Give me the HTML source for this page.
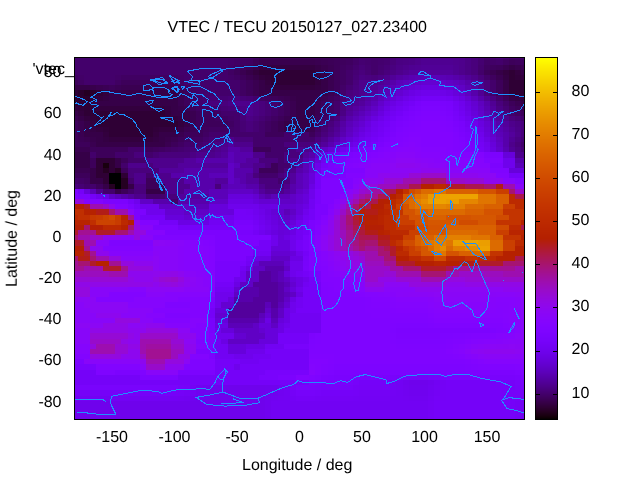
<!DOCTYPE html>
<html><head><meta charset="utf-8"><style>
html,body{margin:0;padding:0;background:#fff;width:640px;height:480px;overflow:hidden}
svg{position:absolute;left:0;top:0}
text{font-family:"Liberation Sans", sans-serif;font-size:16px;text-rendering:geometricPrecision;fill:#000}
.t{filter:grayscale(1)}
</style></head><body>
<svg width="640" height="480" viewBox="0 0 640 480">
<g class="t"><text x="167.5" y="32">VTEC / TECU 20150127_027.23400</text>
<text x="32.5" y="73.7">'vtec_</text>
<text x="112.00" y="442" text-anchor="middle">-150</text><text x="174.50" y="442" text-anchor="middle">-100</text><text x="237.00" y="442" text-anchor="middle">-50</text><text x="299.50" y="442" text-anchor="middle">0</text><text x="362.00" y="442" text-anchor="middle">50</text><text x="424.50" y="442" text-anchor="middle">100</text><text x="487.00" y="442" text-anchor="middle">150</text><text x="61.5" y="76.81" text-anchor="end">80</text><text x="61.5" y="118.19" text-anchor="end">60</text><text x="61.5" y="159.56" text-anchor="end">40</text><text x="61.5" y="200.93" text-anchor="end">20</text><text x="61.5" y="242.30" text-anchor="end">0</text><text x="61.5" y="282.67" text-anchor="end">-20</text><text x="61.5" y="324.04" text-anchor="end">-40</text><text x="61.5" y="365.41" text-anchor="end">-60</text><text x="61.5" y="406.79" text-anchor="end">-80</text><text x="571.5" y="397.53">10</text><text x="571.5" y="354.44">20</text><text x="571.5" y="311.35">30</text><text x="571.5" y="268.26">40</text><text x="571.5" y="225.17">50</text><text x="571.5" y="182.08">60</text><text x="571.5" y="138.99">70</text><text x="571.5" y="95.90">80</text>
<text x="242" y="469.7">Longitude / deg</text>
<text transform="translate(16.7,287) rotate(-90)" x="0" y="0">Latitude / deg</text></g>
<g shape-rendering="crispEdges"><rect x="75" y="58" width="178" height="1" fill="#43006b"/><rect x="253" y="58" width="6" height="1" fill="#400062"/><rect x="259" y="58" width="94" height="1" fill="#3d005a"/><rect x="353" y="58" width="6" height="1" fill="#400062"/><rect x="359" y="58" width="31" height="1" fill="#43006b"/><rect x="390" y="58" width="6" height="1" fill="#460074"/><rect x="396" y="58" width="19" height="1" fill="#49007c"/><rect x="415" y="58" width="6" height="1" fill="#4b0084"/><rect x="421" y="58" width="44" height="1" fill="#4e008c"/><rect x="465" y="58" width="6" height="1" fill="#4b0084"/><rect x="471" y="58" width="7" height="1" fill="#49007c"/><rect x="478" y="58" width="6" height="1" fill="#460074"/><rect x="484" y="58" width="6" height="1" fill="#43006b"/><rect x="490" y="58" width="6" height="1" fill="#460074"/><rect x="496" y="58" width="7" height="1" fill="#49007c"/><rect x="503" y="58" width="6" height="1" fill="#460074"/><rect x="509" y="58" width="15" height="1" fill="#43006b"/><rect x="75" y="59" width="153" height="6" fill="#43006b"/><rect x="228" y="59" width="6" height="6" fill="#420068"/><rect x="234" y="59" width="6" height="6" fill="#410065"/><rect x="240" y="59" width="6" height="6" fill="#400062"/><rect x="246" y="59" width="7" height="6" fill="#3f0060"/><rect x="253" y="59" width="6" height="6" fill="#3c0057"/><rect x="259" y="59" width="56" height="6" fill="#39004e"/><rect x="315" y="59" width="6" height="6" fill="#3a0051"/><rect x="321" y="59" width="7" height="6" fill="#3b0054"/><rect x="328" y="59" width="6" height="6" fill="#3c0057"/><rect x="334" y="59" width="6" height="6" fill="#3d005a"/><rect x="340" y="59" width="6" height="6" fill="#3e005d"/><rect x="346" y="59" width="7" height="6" fill="#3f0060"/><rect x="353" y="59" width="6" height="6" fill="#420068"/><rect x="359" y="59" width="6" height="6" fill="#450071"/><rect x="365" y="59" width="6" height="6" fill="#44006e"/><rect x="371" y="59" width="7" height="6" fill="#43006b"/><rect x="378" y="59" width="6" height="6" fill="#44006e"/><rect x="384" y="59" width="6" height="6" fill="#450071"/><rect x="390" y="59" width="6" height="6" fill="#480079"/><rect x="396" y="59" width="7" height="6" fill="#4a0082"/><rect x="403" y="59" width="6" height="6" fill="#4b0084"/><rect x="409" y="59" width="6" height="6" fill="#4c0087"/><rect x="415" y="59" width="6" height="6" fill="#4e008c"/><rect x="421" y="59" width="32" height="6" fill="#4f0092"/><rect x="453" y="59" width="6" height="6" fill="#4f008f"/><rect x="459" y="59" width="6" height="6" fill="#4e008c"/><rect x="465" y="59" width="6" height="6" fill="#4b0084"/><rect x="471" y="59" width="7" height="6" fill="#49007c"/><rect x="478" y="59" width="6" height="6" fill="#450071"/><rect x="484" y="59" width="6" height="6" fill="#410065"/><rect x="490" y="59" width="6" height="6" fill="#420068"/><rect x="496" y="59" width="7" height="6" fill="#43006b"/><rect x="503" y="59" width="6" height="6" fill="#400062"/><rect x="509" y="59" width="6" height="6" fill="#3d005a"/><rect x="515" y="59" width="6" height="6" fill="#3e005d"/><rect x="521" y="59" width="3" height="6" fill="#3f0060"/><rect x="75" y="65" width="153" height="5" fill="#43006b"/><rect x="228" y="65" width="6" height="5" fill="#410065"/><rect x="234" y="65" width="6" height="5" fill="#3f0060"/><rect x="240" y="65" width="6" height="5" fill="#3d005a"/><rect x="246" y="65" width="7" height="5" fill="#3b0054"/><rect x="253" y="65" width="6" height="5" fill="#37004b"/><rect x="259" y="65" width="56" height="5" fill="#340041"/><rect x="315" y="65" width="6" height="5" fill="#360048"/><rect x="321" y="65" width="7" height="5" fill="#39004e"/><rect x="328" y="65" width="6" height="5" fill="#3b0054"/><rect x="334" y="65" width="6" height="5" fill="#3d005a"/><rect x="340" y="65" width="6" height="5" fill="#3f0060"/><rect x="346" y="65" width="7" height="5" fill="#410065"/><rect x="353" y="65" width="6" height="5" fill="#44006e"/><rect x="359" y="65" width="6" height="5" fill="#470077"/><rect x="365" y="65" width="6" height="5" fill="#450071"/><rect x="371" y="65" width="7" height="5" fill="#43006b"/><rect x="378" y="65" width="6" height="5" fill="#450071"/><rect x="384" y="65" width="6" height="5" fill="#470077"/><rect x="390" y="65" width="6" height="5" fill="#49007f"/><rect x="396" y="65" width="7" height="5" fill="#4c0087"/><rect x="403" y="65" width="6" height="5" fill="#4e008c"/><rect x="409" y="65" width="6" height="5" fill="#4f0092"/><rect x="415" y="65" width="6" height="5" fill="#500094"/><rect x="421" y="65" width="32" height="5" fill="#510097"/><rect x="453" y="65" width="6" height="5" fill="#4f0092"/><rect x="459" y="65" width="6" height="5" fill="#4e008c"/><rect x="465" y="65" width="6" height="5" fill="#4b0084"/><rect x="471" y="65" width="7" height="5" fill="#49007c"/><rect x="478" y="65" width="6" height="5" fill="#44006e"/><rect x="484" y="65" width="6" height="5" fill="#3f0060"/><rect x="490" y="65" width="6" height="5" fill="#3e005d"/><rect x="496" y="65" width="7" height="5" fill="#3d005a"/><rect x="503" y="65" width="6" height="5" fill="#3a0051"/><rect x="509" y="65" width="6" height="5" fill="#360048"/><rect x="515" y="65" width="6" height="5" fill="#39004e"/><rect x="521" y="65" width="3" height="5" fill="#3b0054"/><rect x="75" y="70" width="153" height="5" fill="#43006b"/><rect x="228" y="70" width="6" height="5" fill="#400062"/><rect x="234" y="70" width="6" height="5" fill="#3d005a"/><rect x="240" y="70" width="6" height="5" fill="#3a0051"/><rect x="246" y="70" width="7" height="5" fill="#360048"/><rect x="253" y="70" width="6" height="5" fill="#33003e"/><rect x="259" y="70" width="56" height="5" fill="#2f0035"/><rect x="315" y="70" width="6" height="5" fill="#33003e"/><rect x="321" y="70" width="7" height="5" fill="#360048"/><rect x="328" y="70" width="6" height="5" fill="#3a0051"/><rect x="334" y="70" width="6" height="5" fill="#3d005a"/><rect x="340" y="70" width="6" height="5" fill="#400062"/><rect x="346" y="70" width="7" height="5" fill="#43006b"/><rect x="353" y="70" width="6" height="5" fill="#460074"/><rect x="359" y="70" width="6" height="5" fill="#49007c"/><rect x="365" y="70" width="6" height="5" fill="#460074"/><rect x="371" y="70" width="7" height="5" fill="#43006b"/><rect x="378" y="70" width="6" height="5" fill="#460074"/><rect x="384" y="70" width="6" height="5" fill="#49007c"/><rect x="390" y="70" width="6" height="5" fill="#4b0084"/><rect x="396" y="70" width="7" height="5" fill="#4e008c"/><rect x="403" y="70" width="6" height="5" fill="#500094"/><rect x="409" y="70" width="44" height="5" fill="#53009c"/><rect x="453" y="70" width="6" height="5" fill="#500094"/><rect x="459" y="70" width="6" height="5" fill="#4e008c"/><rect x="465" y="70" width="6" height="5" fill="#4b0084"/><rect x="471" y="70" width="7" height="5" fill="#49007c"/><rect x="478" y="70" width="6" height="5" fill="#43006b"/><rect x="484" y="70" width="6" height="5" fill="#3d005a"/><rect x="490" y="70" width="6" height="5" fill="#3a0051"/><rect x="496" y="70" width="7" height="5" fill="#360048"/><rect x="503" y="70" width="6" height="5" fill="#33003e"/><rect x="509" y="70" width="6" height="5" fill="#2f0035"/><rect x="515" y="70" width="6" height="5" fill="#33003e"/><rect x="521" y="70" width="3" height="5" fill="#360048"/><rect x="75" y="75" width="3" height="5" fill="#400062"/><rect x="78" y="75" width="6" height="5" fill="#420067"/><rect x="84" y="75" width="31" height="5" fill="#43006b"/><rect x="115" y="75" width="6" height="5" fill="#420067"/><rect x="121" y="75" width="57" height="5" fill="#400062"/><rect x="178" y="75" width="6" height="5" fill="#420067"/><rect x="184" y="75" width="44" height="5" fill="#43006b"/><rect x="228" y="75" width="6" height="5" fill="#420067"/><rect x="234" y="75" width="6" height="5" fill="#400062"/><rect x="240" y="75" width="6" height="5" fill="#3d005a"/><rect x="246" y="75" width="7" height="5" fill="#3a0051"/><rect x="253" y="75" width="6" height="5" fill="#360048"/><rect x="259" y="75" width="6" height="5" fill="#33003e"/><rect x="265" y="75" width="6" height="5" fill="#31003a"/><rect x="271" y="75" width="44" height="5" fill="#2f0035"/><rect x="315" y="75" width="6" height="5" fill="#33003e"/><rect x="321" y="75" width="7" height="5" fill="#360048"/><rect x="328" y="75" width="6" height="5" fill="#3a0051"/><rect x="334" y="75" width="6" height="5" fill="#3d005a"/><rect x="340" y="75" width="6" height="5" fill="#400062"/><rect x="346" y="75" width="7" height="5" fill="#43006b"/><rect x="353" y="75" width="6" height="5" fill="#470078"/><rect x="359" y="75" width="6" height="5" fill="#4b0084"/><rect x="365" y="75" width="6" height="5" fill="#4a0080"/><rect x="371" y="75" width="7" height="5" fill="#49007c"/><rect x="378" y="75" width="6" height="5" fill="#4b0084"/><rect x="384" y="75" width="6" height="5" fill="#4e008c"/><rect x="390" y="75" width="6" height="5" fill="#510098"/><rect x="396" y="75" width="7" height="5" fill="#5500a3"/><rect x="403" y="75" width="6" height="5" fill="#5700ab"/><rect x="409" y="75" width="6" height="5" fill="#5900b2"/><rect x="415" y="75" width="6" height="5" fill="#5a01b5"/><rect x="421" y="75" width="19" height="5" fill="#5b01b8"/><rect x="440" y="75" width="6" height="5" fill="#5a01b5"/><rect x="446" y="75" width="7" height="5" fill="#5900b2"/><rect x="453" y="75" width="6" height="5" fill="#5700ab"/><rect x="459" y="75" width="6" height="5" fill="#5500a3"/><rect x="465" y="75" width="6" height="5" fill="#510098"/><rect x="471" y="75" width="7" height="5" fill="#4e008c"/><rect x="478" y="75" width="6" height="5" fill="#49007c"/><rect x="484" y="75" width="6" height="5" fill="#43006b"/><rect x="490" y="75" width="6" height="5" fill="#3f005e"/><rect x="496" y="75" width="7" height="5" fill="#3a0051"/><rect x="503" y="75" width="6" height="5" fill="#340043"/><rect x="509" y="75" width="6" height="5" fill="#2f0035"/><rect x="515" y="75" width="6" height="5" fill="#31003a"/><rect x="521" y="75" width="3" height="5" fill="#33003e"/><rect x="75" y="80" width="3" height="5" fill="#3d005a"/><rect x="78" y="80" width="6" height="5" fill="#400062"/><rect x="84" y="80" width="31" height="5" fill="#43006b"/><rect x="115" y="80" width="6" height="5" fill="#400062"/><rect x="121" y="80" width="57" height="5" fill="#3d005a"/><rect x="178" y="80" width="6" height="5" fill="#400062"/><rect x="184" y="80" width="56" height="5" fill="#43006b"/><rect x="240" y="80" width="6" height="5" fill="#400062"/><rect x="246" y="80" width="7" height="5" fill="#3d005a"/><rect x="253" y="80" width="6" height="5" fill="#3a0051"/><rect x="259" y="80" width="6" height="5" fill="#360048"/><rect x="265" y="80" width="6" height="5" fill="#33003e"/><rect x="271" y="80" width="44" height="5" fill="#2f0035"/><rect x="315" y="80" width="6" height="5" fill="#33003e"/><rect x="321" y="80" width="7" height="5" fill="#360048"/><rect x="328" y="80" width="6" height="5" fill="#3a0051"/><rect x="334" y="80" width="6" height="5" fill="#3d005a"/><rect x="340" y="80" width="6" height="5" fill="#400062"/><rect x="346" y="80" width="7" height="5" fill="#43006b"/><rect x="353" y="80" width="6" height="5" fill="#49007c"/><rect x="359" y="80" width="19" height="5" fill="#4e008c"/><rect x="378" y="80" width="6" height="5" fill="#500094"/><rect x="384" y="80" width="6" height="5" fill="#53009c"/><rect x="390" y="80" width="6" height="5" fill="#5700ab"/><rect x="396" y="80" width="7" height="5" fill="#5b01b8"/><rect x="403" y="80" width="6" height="5" fill="#5e01bf"/><rect x="409" y="80" width="6" height="5" fill="#6001c5"/><rect x="415" y="80" width="6" height="5" fill="#6201cb"/><rect x="421" y="80" width="19" height="5" fill="#6401d1"/><rect x="440" y="80" width="6" height="5" fill="#6201cb"/><rect x="446" y="80" width="7" height="5" fill="#6001c5"/><rect x="453" y="80" width="6" height="5" fill="#5e01bf"/><rect x="459" y="80" width="6" height="5" fill="#5b01b8"/><rect x="465" y="80" width="6" height="5" fill="#5700ab"/><rect x="471" y="80" width="7" height="5" fill="#53009c"/><rect x="478" y="80" width="6" height="5" fill="#4e008c"/><rect x="484" y="80" width="6" height="5" fill="#49007c"/><rect x="490" y="80" width="6" height="5" fill="#43006b"/><rect x="496" y="80" width="7" height="5" fill="#3d005a"/><rect x="503" y="80" width="6" height="5" fill="#360048"/><rect x="509" y="80" width="15" height="5" fill="#2f0035"/><rect x="75" y="85" width="15" height="5" fill="#360048"/><rect x="90" y="85" width="6" height="5" fill="#38004c"/><rect x="96" y="85" width="7" height="5" fill="#3a0051"/><rect x="103" y="85" width="6" height="5" fill="#3b0055"/><rect x="109" y="85" width="6" height="5" fill="#3d005a"/><rect x="115" y="85" width="6" height="5" fill="#3b0055"/><rect x="121" y="85" width="57" height="5" fill="#3a0051"/><rect x="178" y="85" width="6" height="5" fill="#3d005a"/><rect x="184" y="85" width="6" height="5" fill="#400062"/><rect x="190" y="85" width="6" height="5" fill="#420067"/><rect x="196" y="85" width="44" height="5" fill="#43006b"/><rect x="240" y="85" width="6" height="5" fill="#400062"/><rect x="246" y="85" width="7" height="5" fill="#3d005a"/><rect x="253" y="85" width="6" height="5" fill="#3a0051"/><rect x="259" y="85" width="6" height="5" fill="#360048"/><rect x="265" y="85" width="6" height="5" fill="#340043"/><rect x="271" y="85" width="44" height="5" fill="#33003e"/><rect x="315" y="85" width="6" height="5" fill="#340043"/><rect x="321" y="85" width="7" height="5" fill="#360048"/><rect x="328" y="85" width="6" height="5" fill="#3a0051"/><rect x="334" y="85" width="6" height="5" fill="#3d005a"/><rect x="340" y="85" width="6" height="5" fill="#420067"/><rect x="346" y="85" width="7" height="5" fill="#460074"/><rect x="353" y="85" width="6" height="5" fill="#4a0080"/><rect x="359" y="85" width="6" height="5" fill="#4e008c"/><rect x="365" y="85" width="6" height="5" fill="#4f0090"/><rect x="371" y="85" width="7" height="5" fill="#500094"/><rect x="378" y="85" width="6" height="5" fill="#5400a0"/><rect x="384" y="85" width="6" height="5" fill="#5700ab"/><rect x="390" y="85" width="6" height="5" fill="#5b01b8"/><rect x="396" y="85" width="7" height="5" fill="#6001c5"/><rect x="403" y="85" width="6" height="5" fill="#6301ce"/><rect x="409" y="85" width="6" height="5" fill="#6501d6"/><rect x="415" y="85" width="6" height="5" fill="#6701db"/><rect x="421" y="85" width="19" height="5" fill="#6901e0"/><rect x="440" y="85" width="6" height="5" fill="#6701db"/><rect x="446" y="85" width="7" height="5" fill="#6501d6"/><rect x="453" y="85" width="6" height="5" fill="#6301ce"/><rect x="459" y="85" width="6" height="5" fill="#6001c5"/><rect x="465" y="85" width="6" height="5" fill="#5a01b5"/><rect x="471" y="85" width="7" height="5" fill="#5500a3"/><rect x="478" y="85" width="6" height="5" fill="#4f0090"/><rect x="484" y="85" width="6" height="5" fill="#49007c"/><rect x="490" y="85" width="6" height="5" fill="#43006b"/><rect x="496" y="85" width="7" height="5" fill="#3d005a"/><rect x="503" y="85" width="6" height="5" fill="#360048"/><rect x="509" y="85" width="15" height="5" fill="#2f0035"/><rect x="75" y="90" width="3" height="6" fill="#2f0035"/><rect x="78" y="90" width="6" height="6" fill="#2a002c"/><rect x="84" y="90" width="6" height="6" fill="#250022"/><rect x="90" y="90" width="6" height="6" fill="#2a002c"/><rect x="96" y="90" width="7" height="6" fill="#2f0035"/><rect x="103" y="90" width="6" height="6" fill="#33003e"/><rect x="109" y="90" width="69" height="6" fill="#360048"/><rect x="178" y="90" width="6" height="6" fill="#3a0051"/><rect x="184" y="90" width="6" height="6" fill="#3d005a"/><rect x="190" y="90" width="6" height="6" fill="#400062"/><rect x="196" y="90" width="44" height="6" fill="#43006b"/><rect x="240" y="90" width="6" height="6" fill="#400062"/><rect x="246" y="90" width="7" height="6" fill="#3d005a"/><rect x="253" y="90" width="6" height="6" fill="#3a0051"/><rect x="259" y="90" width="69" height="6" fill="#360048"/><rect x="328" y="90" width="6" height="6" fill="#3a0051"/><rect x="334" y="90" width="6" height="6" fill="#3d005a"/><rect x="340" y="90" width="6" height="6" fill="#43006b"/><rect x="346" y="90" width="7" height="6" fill="#49007c"/><rect x="353" y="90" width="6" height="6" fill="#4b0084"/><rect x="359" y="90" width="6" height="6" fill="#4e008c"/><rect x="365" y="90" width="6" height="6" fill="#500094"/><rect x="371" y="90" width="7" height="6" fill="#53009c"/><rect x="378" y="90" width="6" height="6" fill="#5700ab"/><rect x="384" y="90" width="6" height="6" fill="#5b01b8"/><rect x="390" y="90" width="6" height="6" fill="#6001c5"/><rect x="396" y="90" width="7" height="6" fill="#6401d1"/><rect x="403" y="90" width="6" height="6" fill="#6701db"/><rect x="409" y="90" width="6" height="6" fill="#6b01e4"/><rect x="415" y="90" width="6" height="6" fill="#6d02e8"/><rect x="421" y="90" width="19" height="6" fill="#6f02ec"/><rect x="440" y="90" width="6" height="6" fill="#6d02e8"/><rect x="446" y="90" width="7" height="6" fill="#6b01e4"/><rect x="453" y="90" width="6" height="6" fill="#6701db"/><rect x="459" y="90" width="6" height="6" fill="#6401d1"/><rect x="465" y="90" width="6" height="6" fill="#5e01bf"/><rect x="471" y="90" width="7" height="6" fill="#5700ab"/><rect x="478" y="90" width="6" height="6" fill="#500094"/><rect x="484" y="90" width="6" height="6" fill="#49007c"/><rect x="490" y="90" width="6" height="6" fill="#43006b"/><rect x="496" y="90" width="7" height="6" fill="#3d005a"/><rect x="503" y="90" width="6" height="6" fill="#360048"/><rect x="509" y="90" width="15" height="6" fill="#2f0035"/><rect x="75" y="96" width="3" height="5" fill="#2f0035"/><rect x="78" y="96" width="6" height="5" fill="#2c0030"/><rect x="84" y="96" width="6" height="5" fill="#2a002c"/><rect x="90" y="96" width="6" height="5" fill="#2f0035"/><rect x="96" y="96" width="7" height="5" fill="#33003e"/><rect x="103" y="96" width="6" height="5" fill="#340043"/><rect x="109" y="96" width="69" height="5" fill="#360048"/><rect x="178" y="96" width="6" height="5" fill="#3a0051"/><rect x="184" y="96" width="6" height="5" fill="#3d005a"/><rect x="190" y="96" width="6" height="5" fill="#400062"/><rect x="196" y="96" width="7" height="5" fill="#43006b"/><rect x="203" y="96" width="6" height="5" fill="#44006f"/><rect x="209" y="96" width="19" height="5" fill="#460074"/><rect x="228" y="96" width="6" height="5" fill="#470078"/><rect x="234" y="96" width="6" height="5" fill="#49007c"/><rect x="240" y="96" width="6" height="5" fill="#470078"/><rect x="246" y="96" width="7" height="5" fill="#460074"/><rect x="253" y="96" width="6" height="5" fill="#43006b"/><rect x="259" y="96" width="6" height="5" fill="#400062"/><rect x="265" y="96" width="6" height="5" fill="#3f005e"/><rect x="271" y="96" width="7" height="5" fill="#3d005a"/><rect x="278" y="96" width="6" height="5" fill="#3b0055"/><rect x="284" y="96" width="6" height="5" fill="#3a0051"/><rect x="290" y="96" width="6" height="5" fill="#38004c"/><rect x="296" y="96" width="19" height="5" fill="#360048"/><rect x="315" y="96" width="6" height="5" fill="#38004c"/><rect x="321" y="96" width="7" height="5" fill="#3a0051"/><rect x="328" y="96" width="6" height="5" fill="#3d005a"/><rect x="334" y="96" width="6" height="5" fill="#400062"/><rect x="340" y="96" width="6" height="5" fill="#460074"/><rect x="346" y="96" width="7" height="5" fill="#4b0084"/><rect x="353" y="96" width="6" height="5" fill="#4e008c"/><rect x="359" y="96" width="6" height="5" fill="#500094"/><rect x="365" y="96" width="6" height="5" fill="#5400a0"/><rect x="371" y="96" width="7" height="5" fill="#5700ab"/><rect x="378" y="96" width="6" height="5" fill="#5c01bc"/><rect x="384" y="96" width="6" height="5" fill="#6201cb"/><rect x="390" y="96" width="6" height="5" fill="#6501d6"/><rect x="396" y="96" width="7" height="5" fill="#6901e0"/><rect x="403" y="96" width="6" height="5" fill="#6d02e8"/><rect x="409" y="96" width="6" height="5" fill="#7002ef"/><rect x="415" y="96" width="6" height="5" fill="#7302f4"/><rect x="421" y="96" width="19" height="5" fill="#7502f8"/><rect x="440" y="96" width="6" height="5" fill="#7402f5"/><rect x="446" y="96" width="7" height="5" fill="#7202f3"/><rect x="453" y="96" width="6" height="5" fill="#6e02ea"/><rect x="459" y="96" width="6" height="5" fill="#6901e0"/><rect x="465" y="96" width="6" height="5" fill="#6401d1"/><rect x="471" y="96" width="7" height="5" fill="#5e01bf"/><rect x="478" y="96" width="6" height="5" fill="#5700ab"/><rect x="484" y="96" width="6" height="5" fill="#500094"/><rect x="490" y="96" width="6" height="5" fill="#4a0080"/><rect x="496" y="96" width="7" height="5" fill="#43006b"/><rect x="503" y="96" width="6" height="5" fill="#3d005a"/><rect x="509" y="96" width="6" height="5" fill="#360048"/><rect x="515" y="96" width="6" height="5" fill="#340043"/><rect x="521" y="96" width="3" height="5" fill="#33003e"/><rect x="75" y="101" width="15" height="5" fill="#2f0035"/><rect x="90" y="101" width="6" height="5" fill="#33003e"/><rect x="96" y="101" width="82" height="5" fill="#360048"/><rect x="178" y="101" width="6" height="5" fill="#3a0051"/><rect x="184" y="101" width="6" height="5" fill="#3d005a"/><rect x="190" y="101" width="6" height="5" fill="#400062"/><rect x="196" y="101" width="7" height="5" fill="#43006b"/><rect x="203" y="101" width="6" height="5" fill="#460074"/><rect x="209" y="101" width="19" height="5" fill="#49007c"/><rect x="228" y="101" width="6" height="5" fill="#4b0084"/><rect x="234" y="101" width="19" height="5" fill="#4e008c"/><rect x="253" y="101" width="6" height="5" fill="#4b0084"/><rect x="259" y="101" width="6" height="5" fill="#49007c"/><rect x="265" y="101" width="6" height="5" fill="#460074"/><rect x="271" y="101" width="7" height="5" fill="#43006b"/><rect x="278" y="101" width="6" height="5" fill="#400062"/><rect x="284" y="101" width="6" height="5" fill="#3d005a"/><rect x="290" y="101" width="6" height="5" fill="#3a0051"/><rect x="296" y="101" width="19" height="5" fill="#360048"/><rect x="315" y="101" width="6" height="5" fill="#3a0051"/><rect x="321" y="101" width="7" height="5" fill="#3d005a"/><rect x="328" y="101" width="6" height="5" fill="#400062"/><rect x="334" y="101" width="6" height="5" fill="#43006b"/><rect x="340" y="101" width="6" height="5" fill="#49007c"/><rect x="346" y="101" width="7" height="5" fill="#4e008c"/><rect x="353" y="101" width="6" height="5" fill="#500094"/><rect x="359" y="101" width="6" height="5" fill="#53009c"/><rect x="365" y="101" width="6" height="5" fill="#5700ab"/><rect x="371" y="101" width="7" height="5" fill="#5b01b8"/><rect x="378" y="101" width="6" height="5" fill="#6201cb"/><rect x="384" y="101" width="6" height="5" fill="#6701db"/><rect x="390" y="101" width="6" height="5" fill="#6b01e4"/><rect x="396" y="101" width="7" height="5" fill="#6f02ec"/><rect x="403" y="101" width="6" height="5" fill="#7202f3"/><rect x="409" y="101" width="6" height="5" fill="#7502f8"/><rect x="415" y="101" width="6" height="5" fill="#7903fc"/><rect x="421" y="101" width="19" height="5" fill="#7c03fe"/><rect x="440" y="101" width="6" height="5" fill="#7a03fd"/><rect x="446" y="101" width="7" height="5" fill="#7903fc"/><rect x="453" y="101" width="6" height="5" fill="#7402f5"/><rect x="459" y="101" width="6" height="5" fill="#6f02ec"/><rect x="465" y="101" width="6" height="5" fill="#6901e0"/><rect x="471" y="101" width="7" height="5" fill="#6401d1"/><rect x="478" y="101" width="6" height="5" fill="#5e01bf"/><rect x="484" y="101" width="6" height="5" fill="#5700ab"/><rect x="490" y="101" width="6" height="5" fill="#500094"/><rect x="496" y="101" width="7" height="5" fill="#49007c"/><rect x="503" y="101" width="6" height="5" fill="#43006b"/><rect x="509" y="101" width="6" height="5" fill="#3d005a"/><rect x="515" y="101" width="6" height="5" fill="#3a0051"/><rect x="521" y="101" width="3" height="5" fill="#360048"/><rect x="75" y="106" width="3" height="5" fill="#33003e"/><rect x="78" y="106" width="6" height="5" fill="#31003a"/><rect x="84" y="106" width="6" height="5" fill="#2f0035"/><rect x="90" y="106" width="6" height="5" fill="#31003a"/><rect x="96" y="106" width="69" height="5" fill="#33003e"/><rect x="165" y="106" width="6" height="5" fill="#340043"/><rect x="171" y="106" width="7" height="5" fill="#360048"/><rect x="178" y="106" width="6" height="5" fill="#38004c"/><rect x="184" y="106" width="6" height="5" fill="#3a0051"/><rect x="190" y="106" width="6" height="5" fill="#3d005a"/><rect x="196" y="106" width="7" height="5" fill="#400062"/><rect x="203" y="106" width="6" height="5" fill="#420067"/><rect x="209" y="106" width="6" height="5" fill="#43006b"/><rect x="215" y="106" width="6" height="5" fill="#44006f"/><rect x="221" y="106" width="7" height="5" fill="#460074"/><rect x="228" y="106" width="6" height="5" fill="#470078"/><rect x="234" y="106" width="6" height="5" fill="#49007c"/><rect x="240" y="106" width="6" height="5" fill="#4b0084"/><rect x="246" y="106" width="7" height="5" fill="#4e008c"/><rect x="253" y="106" width="6" height="5" fill="#4b0084"/><rect x="259" y="106" width="6" height="5" fill="#49007c"/><rect x="265" y="106" width="6" height="5" fill="#460074"/><rect x="271" y="106" width="7" height="5" fill="#43006b"/><rect x="278" y="106" width="6" height="5" fill="#400062"/><rect x="284" y="106" width="6" height="5" fill="#3d005a"/><rect x="290" y="106" width="6" height="5" fill="#3a0051"/><rect x="296" y="106" width="19" height="5" fill="#360048"/><rect x="315" y="106" width="6" height="5" fill="#3a0051"/><rect x="321" y="106" width="7" height="5" fill="#3d005a"/><rect x="328" y="106" width="6" height="5" fill="#400062"/><rect x="334" y="106" width="6" height="5" fill="#43006b"/><rect x="340" y="106" width="6" height="5" fill="#4a0080"/><rect x="346" y="106" width="7" height="5" fill="#500094"/><rect x="353" y="106" width="6" height="5" fill="#5400a0"/><rect x="359" y="106" width="6" height="5" fill="#5700ab"/><rect x="365" y="106" width="6" height="5" fill="#5b01b8"/><rect x="371" y="106" width="7" height="5" fill="#6001c5"/><rect x="378" y="106" width="6" height="5" fill="#6501d6"/><rect x="384" y="106" width="6" height="5" fill="#6b01e4"/><rect x="390" y="106" width="6" height="5" fill="#6f02ec"/><rect x="396" y="106" width="7" height="5" fill="#7202f3"/><rect x="403" y="106" width="6" height="5" fill="#7502f8"/><rect x="409" y="106" width="6" height="5" fill="#7903fc"/><rect x="415" y="106" width="6" height="5" fill="#7b03fe"/><rect x="421" y="106" width="19" height="5" fill="#7d04ff"/><rect x="440" y="106" width="6" height="5" fill="#7c03fe"/><rect x="446" y="106" width="7" height="5" fill="#7a03fd"/><rect x="453" y="106" width="6" height="5" fill="#7502f8"/><rect x="459" y="106" width="6" height="5" fill="#7002ef"/><rect x="465" y="106" width="6" height="5" fill="#6b01e4"/><rect x="471" y="106" width="7" height="5" fill="#6501d6"/><rect x="478" y="106" width="6" height="5" fill="#6001c5"/><rect x="484" y="106" width="6" height="5" fill="#5900b2"/><rect x="490" y="106" width="6" height="5" fill="#53009c"/><rect x="496" y="106" width="7" height="5" fill="#4b0084"/><rect x="503" y="106" width="6" height="5" fill="#460074"/><rect x="509" y="106" width="6" height="5" fill="#400062"/><rect x="515" y="106" width="6" height="5" fill="#3d005a"/><rect x="521" y="106" width="3" height="5" fill="#3a0051"/><rect x="75" y="111" width="3" height="5" fill="#360048"/><rect x="78" y="111" width="6" height="5" fill="#33003e"/><rect x="84" y="111" width="81" height="5" fill="#2f0035"/><rect x="165" y="111" width="6" height="5" fill="#33003e"/><rect x="171" y="111" width="19" height="5" fill="#360048"/><rect x="190" y="111" width="6" height="5" fill="#3a0051"/><rect x="196" y="111" width="19" height="5" fill="#3d005a"/><rect x="215" y="111" width="6" height="5" fill="#400062"/><rect x="221" y="111" width="19" height="5" fill="#43006b"/><rect x="240" y="111" width="6" height="5" fill="#49007c"/><rect x="246" y="111" width="7" height="5" fill="#4e008c"/><rect x="253" y="111" width="6" height="5" fill="#4b0084"/><rect x="259" y="111" width="6" height="5" fill="#49007c"/><rect x="265" y="111" width="6" height="5" fill="#460074"/><rect x="271" y="111" width="7" height="5" fill="#43006b"/><rect x="278" y="111" width="6" height="5" fill="#400062"/><rect x="284" y="111" width="6" height="5" fill="#3d005a"/><rect x="290" y="111" width="6" height="5" fill="#3a0051"/><rect x="296" y="111" width="19" height="5" fill="#360048"/><rect x="315" y="111" width="6" height="5" fill="#3a0051"/><rect x="321" y="111" width="7" height="5" fill="#3d005a"/><rect x="328" y="111" width="6" height="5" fill="#400062"/><rect x="334" y="111" width="6" height="5" fill="#43006b"/><rect x="340" y="111" width="6" height="5" fill="#4b0084"/><rect x="346" y="111" width="7" height="5" fill="#53009c"/><rect x="353" y="111" width="6" height="5" fill="#5700ab"/><rect x="359" y="111" width="6" height="5" fill="#5b01b8"/><rect x="365" y="111" width="6" height="5" fill="#6001c5"/><rect x="371" y="111" width="7" height="5" fill="#6401d1"/><rect x="378" y="111" width="6" height="5" fill="#6901e0"/><rect x="384" y="111" width="6" height="5" fill="#6f02ec"/><rect x="390" y="111" width="6" height="5" fill="#7202f3"/><rect x="396" y="111" width="7" height="5" fill="#7502f8"/><rect x="403" y="111" width="6" height="5" fill="#7903fc"/><rect x="409" y="111" width="6" height="5" fill="#7c03fe"/><rect x="415" y="111" width="6" height="5" fill="#7d04ff"/><rect x="421" y="111" width="19" height="5" fill="#7f04ff"/><rect x="440" y="111" width="6" height="5" fill="#7d04ff"/><rect x="446" y="111" width="7" height="5" fill="#7c03fe"/><rect x="453" y="111" width="6" height="5" fill="#7703fa"/><rect x="459" y="111" width="6" height="5" fill="#7202f3"/><rect x="465" y="111" width="6" height="5" fill="#6d02e8"/><rect x="471" y="111" width="7" height="5" fill="#6701db"/><rect x="478" y="111" width="6" height="5" fill="#6201cb"/><rect x="484" y="111" width="6" height="5" fill="#5b01b8"/><rect x="490" y="111" width="6" height="5" fill="#5500a3"/><rect x="496" y="111" width="7" height="5" fill="#4e008c"/><rect x="503" y="111" width="6" height="5" fill="#49007c"/><rect x="509" y="111" width="6" height="5" fill="#43006b"/><rect x="515" y="111" width="6" height="5" fill="#400062"/><rect x="521" y="111" width="3" height="5" fill="#3d005a"/><rect x="75" y="116" width="3" height="5" fill="#3a0051"/><rect x="78" y="116" width="6" height="5" fill="#360048"/><rect x="84" y="116" width="6" height="5" fill="#33003e"/><rect x="90" y="116" width="6" height="5" fill="#31003a"/><rect x="96" y="116" width="69" height="5" fill="#2f0035"/><rect x="165" y="116" width="6" height="5" fill="#31003a"/><rect x="171" y="116" width="7" height="5" fill="#33003e"/><rect x="178" y="116" width="6" height="5" fill="#340043"/><rect x="184" y="116" width="6" height="5" fill="#360048"/><rect x="190" y="116" width="6" height="5" fill="#3a0051"/><rect x="196" y="116" width="19" height="5" fill="#3d005a"/><rect x="215" y="116" width="6" height="5" fill="#3f005e"/><rect x="221" y="116" width="7" height="5" fill="#400062"/><rect x="228" y="116" width="6" height="5" fill="#420067"/><rect x="234" y="116" width="6" height="5" fill="#43006b"/><rect x="240" y="116" width="6" height="5" fill="#470078"/><rect x="246" y="116" width="7" height="5" fill="#4b0084"/><rect x="253" y="116" width="6" height="5" fill="#49007c"/><rect x="259" y="116" width="6" height="5" fill="#460074"/><rect x="265" y="116" width="6" height="5" fill="#43006b"/><rect x="271" y="116" width="7" height="5" fill="#400062"/><rect x="278" y="116" width="6" height="5" fill="#3d005a"/><rect x="284" y="116" width="6" height="5" fill="#3a0051"/><rect x="290" y="116" width="6" height="5" fill="#38004c"/><rect x="296" y="116" width="19" height="5" fill="#360048"/><rect x="315" y="116" width="6" height="5" fill="#3b0055"/><rect x="321" y="116" width="7" height="5" fill="#400062"/><rect x="328" y="116" width="6" height="5" fill="#44006f"/><rect x="334" y="116" width="6" height="5" fill="#49007c"/><rect x="340" y="116" width="6" height="5" fill="#500094"/><rect x="346" y="116" width="7" height="5" fill="#5700ab"/><rect x="353" y="116" width="6" height="5" fill="#5b01b8"/><rect x="359" y="116" width="6" height="5" fill="#6001c5"/><rect x="365" y="116" width="6" height="5" fill="#6501d3"/><rect x="371" y="116" width="7" height="5" fill="#6901e0"/><rect x="378" y="116" width="6" height="5" fill="#6e02ea"/><rect x="384" y="116" width="6" height="5" fill="#7202f3"/><rect x="390" y="116" width="6" height="5" fill="#7502f8"/><rect x="396" y="116" width="7" height="5" fill="#7903fc"/><rect x="403" y="116" width="6" height="5" fill="#7b03fe"/><rect x="409" y="116" width="6" height="5" fill="#7d04ff"/><rect x="415" y="116" width="6" height="5" fill="#7f04ff"/><rect x="421" y="116" width="19" height="5" fill="#8004ff"/><rect x="440" y="116" width="6" height="5" fill="#7f04ff"/><rect x="446" y="116" width="7" height="5" fill="#7d04ff"/><rect x="453" y="116" width="6" height="5" fill="#7903fc"/><rect x="459" y="116" width="6" height="5" fill="#7502f8"/><rect x="465" y="116" width="6" height="5" fill="#7002ef"/><rect x="471" y="116" width="7" height="5" fill="#6b01e4"/><rect x="478" y="116" width="6" height="5" fill="#6501d6"/><rect x="484" y="116" width="6" height="5" fill="#6001c5"/><rect x="490" y="116" width="6" height="5" fill="#5900b2"/><rect x="496" y="116" width="7" height="5" fill="#53009c"/><rect x="503" y="116" width="6" height="5" fill="#4e008c"/><rect x="509" y="116" width="6" height="5" fill="#49007c"/><rect x="515" y="116" width="6" height="5" fill="#460074"/><rect x="521" y="116" width="3" height="5" fill="#43006b"/><rect x="75" y="121" width="3" height="6" fill="#3d005a"/><rect x="78" y="121" width="6" height="6" fill="#3a0051"/><rect x="84" y="121" width="6" height="6" fill="#360048"/><rect x="90" y="121" width="6" height="6" fill="#33003e"/><rect x="96" y="121" width="82" height="6" fill="#2f0035"/><rect x="178" y="121" width="6" height="6" fill="#33003e"/><rect x="184" y="121" width="6" height="6" fill="#360048"/><rect x="190" y="121" width="6" height="6" fill="#3a0051"/><rect x="196" y="121" width="32" height="6" fill="#3d005a"/><rect x="228" y="121" width="6" height="6" fill="#400062"/><rect x="234" y="121" width="6" height="6" fill="#43006b"/><rect x="240" y="121" width="6" height="6" fill="#460074"/><rect x="246" y="121" width="7" height="6" fill="#49007c"/><rect x="253" y="121" width="6" height="6" fill="#460074"/><rect x="259" y="121" width="6" height="6" fill="#43006b"/><rect x="265" y="121" width="6" height="6" fill="#400062"/><rect x="271" y="121" width="7" height="6" fill="#3d005a"/><rect x="278" y="121" width="6" height="6" fill="#3a0051"/><rect x="284" y="121" width="31" height="6" fill="#360048"/><rect x="315" y="121" width="6" height="6" fill="#3d005a"/><rect x="321" y="121" width="7" height="6" fill="#43006b"/><rect x="328" y="121" width="6" height="6" fill="#49007c"/><rect x="334" y="121" width="6" height="6" fill="#4e008c"/><rect x="340" y="121" width="6" height="6" fill="#5500a3"/><rect x="346" y="121" width="7" height="6" fill="#5b01b8"/><rect x="353" y="121" width="6" height="6" fill="#6001c5"/><rect x="359" y="121" width="6" height="6" fill="#6401d1"/><rect x="365" y="121" width="6" height="6" fill="#6901e0"/><rect x="371" y="121" width="7" height="6" fill="#6f02ec"/><rect x="378" y="121" width="6" height="6" fill="#7202f3"/><rect x="384" y="121" width="6" height="6" fill="#7502f8"/><rect x="390" y="121" width="6" height="6" fill="#7903fc"/><rect x="396" y="121" width="7" height="6" fill="#7c03fe"/><rect x="403" y="121" width="6" height="6" fill="#7d04ff"/><rect x="409" y="121" width="6" height="6" fill="#7f04ff"/><rect x="415" y="121" width="6" height="6" fill="#8004ff"/><rect x="421" y="121" width="19" height="6" fill="#8204ff"/><rect x="440" y="121" width="6" height="6" fill="#8004ff"/><rect x="446" y="121" width="7" height="6" fill="#7f04ff"/><rect x="453" y="121" width="6" height="6" fill="#7c03fe"/><rect x="459" y="121" width="6" height="6" fill="#7903fc"/><rect x="465" y="121" width="6" height="6" fill="#7402f5"/><rect x="471" y="121" width="7" height="6" fill="#6f02ec"/><rect x="478" y="121" width="6" height="6" fill="#6901e0"/><rect x="484" y="121" width="6" height="6" fill="#6401d1"/><rect x="490" y="121" width="6" height="6" fill="#5e01bf"/><rect x="496" y="121" width="7" height="6" fill="#5700ab"/><rect x="503" y="121" width="6" height="6" fill="#53009c"/><rect x="509" y="121" width="6" height="6" fill="#4e008c"/><rect x="515" y="121" width="6" height="6" fill="#4b0084"/><rect x="521" y="121" width="3" height="6" fill="#49007c"/><rect x="75" y="127" width="3" height="5" fill="#3d005a"/><rect x="78" y="127" width="6" height="5" fill="#3a0051"/><rect x="84" y="127" width="6" height="5" fill="#360048"/><rect x="90" y="127" width="6" height="5" fill="#340043"/><rect x="96" y="127" width="7" height="5" fill="#33003e"/><rect x="103" y="127" width="6" height="5" fill="#31003a"/><rect x="109" y="127" width="44" height="5" fill="#2f0035"/><rect x="153" y="127" width="6" height="5" fill="#31003a"/><rect x="159" y="127" width="19" height="5" fill="#33003e"/><rect x="178" y="127" width="6" height="5" fill="#360048"/><rect x="184" y="127" width="6" height="5" fill="#3a0051"/><rect x="190" y="127" width="6" height="5" fill="#3b0055"/><rect x="196" y="127" width="7" height="5" fill="#3d005a"/><rect x="203" y="127" width="6" height="5" fill="#3f005e"/><rect x="209" y="127" width="19" height="5" fill="#400062"/><rect x="228" y="127" width="6" height="5" fill="#420067"/><rect x="234" y="127" width="6" height="5" fill="#43006b"/><rect x="240" y="127" width="6" height="5" fill="#460074"/><rect x="246" y="127" width="7" height="5" fill="#49007c"/><rect x="253" y="127" width="6" height="5" fill="#460074"/><rect x="259" y="127" width="6" height="5" fill="#43006b"/><rect x="265" y="127" width="6" height="5" fill="#400062"/><rect x="271" y="127" width="7" height="5" fill="#3d005a"/><rect x="278" y="127" width="6" height="5" fill="#3a0051"/><rect x="284" y="127" width="19" height="5" fill="#360048"/><rect x="303" y="127" width="6" height="5" fill="#38004c"/><rect x="309" y="127" width="6" height="5" fill="#3a0051"/><rect x="315" y="127" width="6" height="5" fill="#400062"/><rect x="321" y="127" width="7" height="5" fill="#460074"/><rect x="328" y="127" width="6" height="5" fill="#4b0084"/><rect x="334" y="127" width="6" height="5" fill="#500094"/><rect x="340" y="127" width="6" height="5" fill="#5700ab"/><rect x="346" y="127" width="7" height="5" fill="#5e01bf"/><rect x="353" y="127" width="6" height="5" fill="#6301ce"/><rect x="359" y="127" width="6" height="5" fill="#6701db"/><rect x="365" y="127" width="6" height="5" fill="#6c01e6"/><rect x="371" y="127" width="7" height="5" fill="#7002ef"/><rect x="378" y="127" width="6" height="5" fill="#7402f5"/><rect x="384" y="127" width="6" height="5" fill="#7703fa"/><rect x="390" y="127" width="6" height="5" fill="#7a03fd"/><rect x="396" y="127" width="7" height="5" fill="#7d04ff"/><rect x="403" y="127" width="6" height="5" fill="#7f04ff"/><rect x="409" y="127" width="6" height="5" fill="#8004ff"/><rect x="415" y="127" width="6" height="5" fill="#8104ff"/><rect x="421" y="127" width="19" height="5" fill="#8204ff"/><rect x="440" y="127" width="6" height="5" fill="#8104ff"/><rect x="446" y="127" width="7" height="5" fill="#8004ff"/><rect x="453" y="127" width="6" height="5" fill="#7d04ff"/><rect x="459" y="127" width="6" height="5" fill="#7a03fd"/><rect x="465" y="127" width="6" height="5" fill="#7603f9"/><rect x="471" y="127" width="7" height="5" fill="#7202f3"/><rect x="478" y="127" width="6" height="5" fill="#6c01e6"/><rect x="484" y="127" width="6" height="5" fill="#6501d6"/><rect x="490" y="127" width="6" height="5" fill="#6001c5"/><rect x="496" y="127" width="7" height="5" fill="#5900b2"/><rect x="503" y="127" width="6" height="5" fill="#5500a3"/><rect x="509" y="127" width="6" height="5" fill="#500094"/><rect x="515" y="127" width="6" height="5" fill="#4c0088"/><rect x="521" y="127" width="3" height="5" fill="#49007c"/><rect x="75" y="132" width="3" height="5" fill="#3d005a"/><rect x="78" y="132" width="6" height="5" fill="#3a0051"/><rect x="84" y="132" width="19" height="5" fill="#360048"/><rect x="103" y="132" width="6" height="5" fill="#33003e"/><rect x="109" y="132" width="44" height="5" fill="#2f0035"/><rect x="153" y="132" width="6" height="5" fill="#33003e"/><rect x="159" y="132" width="19" height="5" fill="#360048"/><rect x="178" y="132" width="6" height="5" fill="#3a0051"/><rect x="184" y="132" width="19" height="5" fill="#3d005a"/><rect x="203" y="132" width="6" height="5" fill="#400062"/><rect x="209" y="132" width="56" height="5" fill="#43006b"/><rect x="265" y="132" width="19" height="5" fill="#3d005a"/><rect x="284" y="132" width="25" height="5" fill="#43006b"/><rect x="309" y="132" width="6" height="5" fill="#3d005a"/><rect x="315" y="132" width="6" height="5" fill="#43006b"/><rect x="321" y="132" width="7" height="5" fill="#49007c"/><rect x="328" y="132" width="6" height="5" fill="#4e008c"/><rect x="334" y="132" width="6" height="5" fill="#53009c"/><rect x="340" y="132" width="6" height="5" fill="#5900b2"/><rect x="346" y="132" width="7" height="5" fill="#6001c5"/><rect x="353" y="132" width="6" height="5" fill="#6501d6"/><rect x="359" y="132" width="6" height="5" fill="#6b01e4"/><rect x="365" y="132" width="6" height="5" fill="#6f02ec"/><rect x="371" y="132" width="7" height="5" fill="#7202f3"/><rect x="378" y="132" width="6" height="5" fill="#7502f8"/><rect x="384" y="132" width="6" height="5" fill="#7903fc"/><rect x="390" y="132" width="6" height="5" fill="#7c03fe"/><rect x="396" y="132" width="7" height="5" fill="#7f04ff"/><rect x="403" y="132" width="6" height="5" fill="#8004ff"/><rect x="409" y="132" width="44" height="5" fill="#8204ff"/><rect x="453" y="132" width="6" height="5" fill="#7f04ff"/><rect x="459" y="132" width="6" height="5" fill="#7c03fe"/><rect x="465" y="132" width="6" height="5" fill="#7903fc"/><rect x="471" y="132" width="7" height="5" fill="#7502f8"/><rect x="478" y="132" width="6" height="5" fill="#6f02ec"/><rect x="484" y="132" width="6" height="5" fill="#6701db"/><rect x="490" y="132" width="6" height="5" fill="#6201cb"/><rect x="496" y="132" width="7" height="5" fill="#5b01b8"/><rect x="503" y="132" width="6" height="5" fill="#5700ab"/><rect x="509" y="132" width="6" height="5" fill="#53009c"/><rect x="515" y="132" width="6" height="5" fill="#4e008c"/><rect x="521" y="132" width="3" height="5" fill="#49007c"/><rect x="75" y="137" width="3" height="5" fill="#3d005a"/><rect x="78" y="137" width="6" height="5" fill="#3b0055"/><rect x="84" y="137" width="6" height="5" fill="#3a0051"/><rect x="90" y="137" width="6" height="5" fill="#38004c"/><rect x="96" y="137" width="7" height="5" fill="#360048"/><rect x="103" y="137" width="6" height="5" fill="#340043"/><rect x="109" y="137" width="44" height="5" fill="#33003e"/><rect x="153" y="137" width="6" height="5" fill="#340043"/><rect x="159" y="137" width="6" height="5" fill="#360048"/><rect x="165" y="137" width="6" height="5" fill="#38004c"/><rect x="171" y="137" width="7" height="5" fill="#3a0051"/><rect x="178" y="137" width="6" height="5" fill="#3d005a"/><rect x="184" y="137" width="19" height="5" fill="#400062"/><rect x="203" y="137" width="6" height="5" fill="#43006b"/><rect x="209" y="137" width="6" height="5" fill="#460074"/><rect x="215" y="137" width="6" height="5" fill="#470078"/><rect x="221" y="137" width="7" height="5" fill="#49007c"/><rect x="228" y="137" width="6" height="5" fill="#4e008c"/><rect x="234" y="137" width="19" height="5" fill="#49007c"/><rect x="253" y="137" width="62" height="5" fill="#43006b"/><rect x="315" y="137" width="6" height="5" fill="#49007c"/><rect x="321" y="137" width="7" height="5" fill="#4e008c"/><rect x="328" y="137" width="6" height="5" fill="#5400a0"/><rect x="334" y="137" width="6" height="5" fill="#5900b2"/><rect x="340" y="137" width="6" height="5" fill="#6001c5"/><rect x="346" y="137" width="7" height="5" fill="#6501d6"/><rect x="353" y="137" width="6" height="5" fill="#6a01e2"/><rect x="359" y="137" width="6" height="5" fill="#6f02ec"/><rect x="365" y="137" width="6" height="5" fill="#7202f3"/><rect x="371" y="137" width="7" height="5" fill="#7502f8"/><rect x="378" y="137" width="6" height="5" fill="#7903fc"/><rect x="384" y="137" width="6" height="5" fill="#7c03fe"/><rect x="390" y="137" width="6" height="5" fill="#7e04ff"/><rect x="396" y="137" width="7" height="5" fill="#8004ff"/><rect x="403" y="137" width="6" height="5" fill="#8204ff"/><rect x="409" y="137" width="12" height="5" fill="#8305fe"/><rect x="421" y="137" width="32" height="5" fill="#8204ff"/><rect x="453" y="137" width="6" height="5" fill="#8004ff"/><rect x="459" y="137" width="6" height="5" fill="#7d04ff"/><rect x="465" y="137" width="6" height="5" fill="#7a03fd"/><rect x="471" y="137" width="7" height="5" fill="#7703fa"/><rect x="478" y="137" width="6" height="5" fill="#7102f1"/><rect x="484" y="137" width="6" height="5" fill="#6b01e4"/><rect x="490" y="137" width="6" height="5" fill="#6501d3"/><rect x="496" y="137" width="7" height="5" fill="#5e01bf"/><rect x="503" y="137" width="6" height="5" fill="#5700ab"/><rect x="509" y="137" width="6" height="5" fill="#500094"/><rect x="515" y="137" width="6" height="5" fill="#4b0084"/><rect x="521" y="137" width="3" height="5" fill="#460074"/><rect x="75" y="142" width="15" height="5" fill="#3d005a"/><rect x="90" y="142" width="6" height="5" fill="#3a0051"/><rect x="96" y="142" width="69" height="5" fill="#360048"/><rect x="165" y="142" width="6" height="5" fill="#3a0051"/><rect x="171" y="142" width="7" height="5" fill="#3d005a"/><rect x="178" y="142" width="6" height="5" fill="#400062"/><rect x="184" y="142" width="19" height="5" fill="#43006b"/><rect x="203" y="142" width="6" height="5" fill="#460074"/><rect x="209" y="142" width="6" height="5" fill="#49007c"/><rect x="215" y="142" width="6" height="5" fill="#4b0084"/><rect x="221" y="142" width="7" height="5" fill="#4e008c"/><rect x="228" y="142" width="6" height="5" fill="#53009c"/><rect x="234" y="142" width="19" height="5" fill="#4e008c"/><rect x="253" y="142" width="31" height="5" fill="#43006b"/><rect x="284" y="142" width="31" height="5" fill="#49007c"/><rect x="315" y="142" width="6" height="5" fill="#4e008c"/><rect x="321" y="142" width="7" height="5" fill="#53009c"/><rect x="328" y="142" width="6" height="5" fill="#5900b2"/><rect x="334" y="142" width="6" height="5" fill="#6001c5"/><rect x="340" y="142" width="6" height="5" fill="#6501d6"/><rect x="346" y="142" width="7" height="5" fill="#6b01e4"/><rect x="353" y="142" width="6" height="5" fill="#6f02ec"/><rect x="359" y="142" width="6" height="5" fill="#7202f3"/><rect x="365" y="142" width="6" height="5" fill="#7502f8"/><rect x="371" y="142" width="7" height="5" fill="#7903fc"/><rect x="378" y="142" width="6" height="5" fill="#7c03fe"/><rect x="384" y="142" width="6" height="5" fill="#7f04ff"/><rect x="390" y="142" width="6" height="5" fill="#8004ff"/><rect x="396" y="142" width="7" height="5" fill="#8204ff"/><rect x="403" y="142" width="6" height="5" fill="#8305fe"/><rect x="409" y="142" width="6" height="5" fill="#8505fd"/><rect x="415" y="142" width="6" height="5" fill="#8305fe"/><rect x="421" y="142" width="32" height="5" fill="#8204ff"/><rect x="453" y="142" width="6" height="5" fill="#8004ff"/><rect x="459" y="142" width="6" height="5" fill="#7f04ff"/><rect x="465" y="142" width="6" height="5" fill="#7c03fe"/><rect x="471" y="142" width="7" height="5" fill="#7903fc"/><rect x="478" y="142" width="6" height="5" fill="#7402f5"/><rect x="484" y="142" width="6" height="5" fill="#6f02ec"/><rect x="490" y="142" width="6" height="5" fill="#6701db"/><rect x="496" y="142" width="7" height="5" fill="#6001c5"/><rect x="503" y="142" width="6" height="5" fill="#5700ab"/><rect x="509" y="142" width="6" height="5" fill="#4e008c"/><rect x="515" y="142" width="6" height="5" fill="#49007c"/><rect x="521" y="142" width="3" height="5" fill="#43006b"/><rect x="75" y="147" width="15" height="5" fill="#3a0051"/><rect x="90" y="147" width="38" height="5" fill="#3d005a"/><rect x="128" y="147" width="18" height="5" fill="#43006b"/><rect x="146" y="147" width="7" height="5" fill="#3d005a"/><rect x="153" y="147" width="6" height="5" fill="#3f005e"/><rect x="159" y="147" width="6" height="5" fill="#400062"/><rect x="165" y="147" width="6" height="5" fill="#420067"/><rect x="171" y="147" width="7" height="5" fill="#43006b"/><rect x="178" y="147" width="6" height="5" fill="#44006f"/><rect x="184" y="147" width="6" height="5" fill="#460074"/><rect x="190" y="147" width="6" height="5" fill="#470078"/><rect x="196" y="147" width="7" height="5" fill="#49007c"/><rect x="203" y="147" width="6" height="5" fill="#4a0080"/><rect x="209" y="147" width="6" height="5" fill="#4b0084"/><rect x="215" y="147" width="6" height="5" fill="#4e008c"/><rect x="221" y="147" width="7" height="5" fill="#500094"/><rect x="228" y="147" width="12" height="5" fill="#5700ab"/><rect x="240" y="147" width="13" height="5" fill="#53009c"/><rect x="253" y="147" width="18" height="5" fill="#3d005a"/><rect x="271" y="147" width="19" height="5" fill="#43006b"/><rect x="290" y="147" width="6" height="5" fill="#49007c"/><rect x="296" y="147" width="13" height="5" fill="#4e008c"/><rect x="309" y="147" width="6" height="5" fill="#500094"/><rect x="315" y="147" width="6" height="5" fill="#5800ae"/><rect x="321" y="147" width="7" height="5" fill="#6001c5"/><rect x="328" y="147" width="6" height="5" fill="#6501d6"/><rect x="334" y="147" width="6" height="5" fill="#6b01e4"/><rect x="340" y="147" width="6" height="5" fill="#6f02ee"/><rect x="346" y="147" width="7" height="5" fill="#7402f5"/><rect x="353" y="147" width="6" height="5" fill="#7603f9"/><rect x="359" y="147" width="6" height="5" fill="#7903fc"/><rect x="365" y="147" width="6" height="5" fill="#7b03fe"/><rect x="371" y="147" width="7" height="5" fill="#7d04ff"/><rect x="378" y="147" width="6" height="5" fill="#8004ff"/><rect x="384" y="147" width="6" height="5" fill="#8204ff"/><rect x="390" y="147" width="6" height="5" fill="#8305fe"/><rect x="396" y="147" width="7" height="5" fill="#8505fd"/><rect x="403" y="147" width="6" height="5" fill="#8605fc"/><rect x="409" y="147" width="6" height="5" fill="#8605fb"/><rect x="415" y="147" width="6" height="5" fill="#8505fd"/><rect x="421" y="147" width="25" height="5" fill="#8305fe"/><rect x="446" y="147" width="7" height="5" fill="#8204ff"/><rect x="453" y="147" width="6" height="5" fill="#8004ff"/><rect x="459" y="147" width="6" height="5" fill="#7f04ff"/><rect x="465" y="147" width="6" height="5" fill="#7d03fe"/><rect x="471" y="147" width="7" height="5" fill="#7a03fd"/><rect x="478" y="147" width="6" height="5" fill="#7502f8"/><rect x="484" y="147" width="6" height="5" fill="#7002ef"/><rect x="490" y="147" width="6" height="5" fill="#6901e0"/><rect x="496" y="147" width="7" height="5" fill="#6201cb"/><rect x="503" y="147" width="6" height="5" fill="#5900b2"/><rect x="509" y="147" width="6" height="5" fill="#500094"/><rect x="515" y="147" width="6" height="5" fill="#4b0084"/><rect x="521" y="147" width="3" height="5" fill="#460074"/><rect x="75" y="152" width="15" height="6" fill="#360048"/><rect x="90" y="152" width="6" height="6" fill="#43006b"/><rect x="96" y="152" width="19" height="6" fill="#3d005a"/><rect x="115" y="152" width="19" height="6" fill="#43006b"/><rect x="134" y="152" width="12" height="6" fill="#49007c"/><rect x="146" y="152" width="7" height="6" fill="#43006b"/><rect x="153" y="152" width="6" height="6" fill="#460074"/><rect x="159" y="152" width="31" height="6" fill="#49007c"/><rect x="190" y="152" width="6" height="6" fill="#4b0084"/><rect x="196" y="152" width="19" height="6" fill="#4e008c"/><rect x="215" y="152" width="6" height="6" fill="#500094"/><rect x="221" y="152" width="7" height="6" fill="#53009c"/><rect x="228" y="152" width="6" height="6" fill="#5b01b8"/><rect x="234" y="152" width="19" height="6" fill="#5700ab"/><rect x="253" y="152" width="12" height="6" fill="#4e008c"/><rect x="265" y="152" width="19" height="6" fill="#43006b"/><rect x="284" y="152" width="19" height="6" fill="#49007c"/><rect x="303" y="152" width="6" height="6" fill="#53009c"/><rect x="309" y="152" width="6" height="6" fill="#5700ab"/><rect x="315" y="152" width="6" height="6" fill="#6201cb"/><rect x="321" y="152" width="7" height="6" fill="#6b01e4"/><rect x="328" y="152" width="6" height="6" fill="#7002ef"/><rect x="334" y="152" width="6" height="6" fill="#7502f8"/><rect x="340" y="152" width="6" height="6" fill="#7903fc"/><rect x="346" y="152" width="7" height="6" fill="#7c03fe"/><rect x="353" y="152" width="6" height="6" fill="#7d04ff"/><rect x="359" y="152" width="6" height="6" fill="#7f04ff"/><rect x="365" y="152" width="6" height="6" fill="#8004ff"/><rect x="371" y="152" width="7" height="6" fill="#8204ff"/><rect x="378" y="152" width="6" height="6" fill="#8305fe"/><rect x="384" y="152" width="6" height="6" fill="#8505fd"/><rect x="390" y="152" width="6" height="6" fill="#8605fb"/><rect x="396" y="152" width="19" height="6" fill="#8806f9"/><rect x="415" y="152" width="6" height="6" fill="#8605fb"/><rect x="421" y="152" width="19" height="6" fill="#8505fd"/><rect x="440" y="152" width="6" height="6" fill="#8305fe"/><rect x="446" y="152" width="38" height="6" fill="#8204ff"/><rect x="484" y="152" width="19" height="6" fill="#7c03fe"/><rect x="503" y="152" width="12" height="6" fill="#6701db"/><rect x="515" y="152" width="9" height="6" fill="#4e008c"/><rect x="75" y="158" width="15" height="5" fill="#360048"/><rect x="90" y="158" width="6" height="5" fill="#3d005a"/><rect x="96" y="158" width="19" height="5" fill="#2f0035"/><rect x="115" y="158" width="6" height="5" fill="#360048"/><rect x="121" y="158" width="7" height="5" fill="#3d005a"/><rect x="128" y="158" width="18" height="5" fill="#43006b"/><rect x="146" y="158" width="38" height="5" fill="#4e008c"/><rect x="184" y="158" width="12" height="5" fill="#53009c"/><rect x="196" y="158" width="32" height="5" fill="#5700ab"/><rect x="228" y="158" width="6" height="5" fill="#5b01b8"/><rect x="234" y="158" width="12" height="5" fill="#5700ab"/><rect x="246" y="158" width="13" height="5" fill="#53009c"/><rect x="259" y="158" width="19" height="5" fill="#49007c"/><rect x="278" y="158" width="6" height="5" fill="#43006b"/><rect x="284" y="158" width="6" height="5" fill="#49007c"/><rect x="290" y="158" width="13" height="5" fill="#4e008c"/><rect x="303" y="158" width="6" height="5" fill="#5700ab"/><rect x="309" y="158" width="6" height="5" fill="#5e01bf"/><rect x="315" y="158" width="6" height="5" fill="#6701db"/><rect x="321" y="158" width="7" height="5" fill="#7002ef"/><rect x="328" y="158" width="6" height="5" fill="#7502f7"/><rect x="334" y="158" width="6" height="5" fill="#7903fc"/><rect x="340" y="158" width="6" height="5" fill="#7c03fe"/><rect x="346" y="158" width="7" height="5" fill="#7f04ff"/><rect x="353" y="158" width="6" height="5" fill="#8004ff"/><rect x="359" y="158" width="6" height="5" fill="#8204ff"/><rect x="365" y="158" width="6" height="5" fill="#8305fe"/><rect x="371" y="158" width="7" height="5" fill="#8505fd"/><rect x="378" y="158" width="6" height="5" fill="#8605fc"/><rect x="384" y="158" width="6" height="5" fill="#8605fb"/><rect x="390" y="158" width="6" height="5" fill="#8806f8"/><rect x="396" y="158" width="19" height="5" fill="#8b07f5"/><rect x="415" y="158" width="6" height="5" fill="#8906f7"/><rect x="421" y="158" width="7" height="5" fill="#8806f9"/><rect x="428" y="158" width="6" height="5" fill="#8706fa"/><rect x="434" y="158" width="6" height="5" fill="#8605fb"/><rect x="440" y="158" width="6" height="5" fill="#8605fc"/><rect x="446" y="158" width="38" height="5" fill="#8505fd"/><rect x="484" y="158" width="19" height="5" fill="#7f04ff"/><rect x="503" y="158" width="12" height="5" fill="#6f02ec"/><rect x="515" y="158" width="9" height="5" fill="#5700ab"/><rect x="75" y="163" width="15" height="5" fill="#360048"/><rect x="90" y="163" width="6" height="5" fill="#3d005a"/><rect x="96" y="163" width="7" height="5" fill="#2f0035"/><rect x="103" y="163" width="6" height="5" fill="#19000f"/><rect x="109" y="163" width="6" height="5" fill="#2f0035"/><rect x="115" y="163" width="6" height="5" fill="#360048"/><rect x="121" y="163" width="7" height="5" fill="#43006b"/><rect x="128" y="163" width="18" height="5" fill="#4e008c"/><rect x="146" y="163" width="7" height="5" fill="#49007c"/><rect x="153" y="163" width="25" height="5" fill="#4e008c"/><rect x="178" y="163" width="50" height="5" fill="#53009c"/><rect x="228" y="163" width="6" height="5" fill="#6001c5"/><rect x="234" y="163" width="6" height="5" fill="#5b01b8"/><rect x="240" y="163" width="13" height="5" fill="#53009c"/><rect x="253" y="163" width="12" height="5" fill="#4e008c"/><rect x="265" y="163" width="6" height="5" fill="#49007c"/><rect x="271" y="163" width="7" height="5" fill="#3d005a"/><rect x="278" y="163" width="12" height="5" fill="#43006b"/><rect x="290" y="163" width="6" height="5" fill="#49007c"/><rect x="296" y="163" width="7" height="5" fill="#53009c"/><rect x="303" y="163" width="6" height="5" fill="#5b01b8"/><rect x="309" y="163" width="6" height="5" fill="#6401d1"/><rect x="315" y="163" width="6" height="5" fill="#6d02e8"/><rect x="321" y="163" width="7" height="5" fill="#7502f8"/><rect x="328" y="163" width="6" height="5" fill="#7903fc"/><rect x="334" y="163" width="6" height="5" fill="#7c03fe"/><rect x="340" y="163" width="6" height="5" fill="#7f04ff"/><rect x="346" y="163" width="7" height="5" fill="#8204ff"/><rect x="353" y="163" width="6" height="5" fill="#8305fe"/><rect x="359" y="163" width="6" height="5" fill="#8505fd"/><rect x="365" y="163" width="6" height="5" fill="#8605fb"/><rect x="371" y="163" width="19" height="5" fill="#8806f9"/><rect x="390" y="163" width="6" height="5" fill="#8b07f5"/><rect x="396" y="163" width="19" height="5" fill="#8d07ef"/><rect x="415" y="163" width="6" height="5" fill="#8c07f2"/><rect x="421" y="163" width="7" height="5" fill="#8b07f5"/><rect x="428" y="163" width="6" height="5" fill="#8906f7"/><rect x="434" y="163" width="12" height="5" fill="#8806f9"/><rect x="446" y="163" width="44" height="5" fill="#8505fd"/><rect x="490" y="163" width="13" height="5" fill="#7c03fe"/><rect x="503" y="163" width="12" height="5" fill="#6f02ec"/><rect x="515" y="163" width="9" height="5" fill="#5b01b8"/><rect x="75" y="168" width="15" height="5" fill="#3a0051"/><rect x="90" y="168" width="6" height="5" fill="#360048"/><rect x="96" y="168" width="7" height="5" fill="#2f0035"/><rect x="103" y="168" width="6" height="5" fill="#250022"/><rect x="109" y="168" width="6" height="5" fill="#2f0035"/><rect x="115" y="168" width="6" height="5" fill="#250022"/><rect x="121" y="168" width="7" height="5" fill="#3d005a"/><rect x="128" y="168" width="31" height="5" fill="#49007c"/><rect x="159" y="168" width="25" height="5" fill="#53009c"/><rect x="184" y="168" width="44" height="5" fill="#5700ab"/><rect x="228" y="168" width="6" height="5" fill="#6001c5"/><rect x="234" y="168" width="19" height="5" fill="#5700ab"/><rect x="253" y="168" width="6" height="5" fill="#4e008c"/><rect x="259" y="168" width="19" height="5" fill="#3d005a"/><rect x="278" y="168" width="6" height="5" fill="#43006b"/><rect x="284" y="168" width="6" height="5" fill="#49007c"/><rect x="290" y="168" width="6" height="5" fill="#4e008c"/><rect x="296" y="168" width="7" height="5" fill="#5700ab"/><rect x="303" y="168" width="6" height="5" fill="#5b01b8"/><rect x="309" y="168" width="6" height="5" fill="#6401d1"/><rect x="315" y="168" width="6" height="5" fill="#6f02ec"/><rect x="321" y="168" width="25" height="5" fill="#7903fc"/><rect x="346" y="168" width="19" height="5" fill="#7f04ff"/><rect x="365" y="168" width="25" height="5" fill="#8806f9"/><rect x="390" y="168" width="31" height="5" fill="#8b07f5"/><rect x="421" y="168" width="25" height="5" fill="#8d07ef"/><rect x="446" y="168" width="44" height="5" fill="#8806f9"/><rect x="490" y="168" width="19" height="5" fill="#7f04ff"/><rect x="509" y="168" width="15" height="5" fill="#6701db"/><rect x="75" y="173" width="15" height="5" fill="#3d005a"/><rect x="90" y="173" width="6" height="5" fill="#360048"/><rect x="96" y="173" width="13" height="5" fill="#2f0035"/><rect x="109" y="173" width="12" height="5" fill="#000000"/><rect x="121" y="173" width="7" height="5" fill="#2f0035"/><rect x="128" y="173" width="6" height="5" fill="#49007c"/><rect x="134" y="173" width="12" height="5" fill="#4e008c"/><rect x="146" y="173" width="7" height="5" fill="#43006b"/><rect x="153" y="173" width="18" height="5" fill="#4e008c"/><rect x="171" y="173" width="38" height="5" fill="#5700ab"/><rect x="209" y="173" width="19" height="5" fill="#5b01b8"/><rect x="228" y="173" width="6" height="5" fill="#6001c5"/><rect x="234" y="173" width="12" height="5" fill="#5700ab"/><rect x="246" y="173" width="7" height="5" fill="#53009c"/><rect x="253" y="173" width="6" height="5" fill="#49007c"/><rect x="259" y="173" width="19" height="5" fill="#43006b"/><rect x="278" y="173" width="6" height="5" fill="#49007c"/><rect x="284" y="173" width="6" height="5" fill="#4e008c"/><rect x="290" y="173" width="6" height="5" fill="#53009c"/><rect x="296" y="173" width="7" height="5" fill="#5b01b8"/><rect x="303" y="173" width="6" height="5" fill="#6001c5"/><rect x="309" y="173" width="6" height="5" fill="#6701db"/><rect x="315" y="173" width="6" height="5" fill="#7502f8"/><rect x="321" y="173" width="25" height="5" fill="#7c03fe"/><rect x="346" y="173" width="19" height="5" fill="#8204ff"/><rect x="365" y="173" width="13" height="5" fill="#8806f9"/><rect x="378" y="173" width="31" height="5" fill="#8d07ef"/><rect x="409" y="173" width="12" height="5" fill="#950ad5"/><rect x="421" y="173" width="25" height="5" fill="#980bca"/><rect x="446" y="173" width="32" height="5" fill="#8d07ef"/><rect x="478" y="173" width="18" height="5" fill="#8b07f5"/><rect x="496" y="173" width="13" height="5" fill="#8204ff"/><rect x="509" y="173" width="15" height="5" fill="#7502f8"/><rect x="75" y="178" width="3" height="6" fill="#43006b"/><rect x="78" y="178" width="6" height="6" fill="#420067"/><rect x="84" y="178" width="6" height="6" fill="#400062"/><rect x="90" y="178" width="13" height="6" fill="#360048"/><rect x="103" y="178" width="6" height="6" fill="#2f0035"/><rect x="109" y="178" width="12" height="6" fill="#000000"/><rect x="121" y="178" width="7" height="6" fill="#250022"/><rect x="128" y="178" width="6" height="6" fill="#43006b"/><rect x="134" y="178" width="12" height="6" fill="#4e008c"/><rect x="146" y="178" width="13" height="6" fill="#3d005a"/><rect x="159" y="178" width="25" height="6" fill="#4e008c"/><rect x="184" y="178" width="31" height="6" fill="#5700ab"/><rect x="215" y="178" width="13" height="6" fill="#53009c"/><rect x="228" y="178" width="6" height="6" fill="#6001c5"/><rect x="234" y="178" width="6" height="6" fill="#5b01b8"/><rect x="240" y="178" width="6" height="6" fill="#5700ab"/><rect x="246" y="178" width="13" height="6" fill="#53009c"/><rect x="259" y="178" width="19" height="6" fill="#49007c"/><rect x="278" y="178" width="6" height="6" fill="#43006b"/><rect x="284" y="178" width="6" height="6" fill="#49007c"/><rect x="290" y="178" width="6" height="6" fill="#53009c"/><rect x="296" y="178" width="7" height="6" fill="#5b01b8"/><rect x="303" y="178" width="6" height="6" fill="#6001c5"/><rect x="309" y="178" width="6" height="6" fill="#6701db"/><rect x="315" y="178" width="6" height="6" fill="#7502f8"/><rect x="321" y="178" width="32" height="6" fill="#7f04ff"/><rect x="353" y="178" width="6" height="6" fill="#8505fd"/><rect x="359" y="178" width="6" height="6" fill="#8806f9"/><rect x="365" y="178" width="19" height="6" fill="#8d07ef"/><rect x="384" y="178" width="19" height="6" fill="#950ad5"/><rect x="403" y="178" width="18" height="6" fill="#9d0eb0"/><rect x="421" y="178" width="25" height="6" fill="#a61472"/><rect x="446" y="178" width="19" height="6" fill="#980bca"/><rect x="465" y="178" width="19" height="6" fill="#950ad5"/><rect x="484" y="178" width="19" height="6" fill="#8d07ef"/><rect x="503" y="178" width="12" height="6" fill="#8505fd"/><rect x="515" y="178" width="9" height="6" fill="#7f04ff"/><rect x="75" y="184" width="3" height="5" fill="#49007c"/><rect x="78" y="184" width="6" height="5" fill="#460074"/><rect x="84" y="184" width="12" height="5" fill="#43006b"/><rect x="96" y="184" width="7" height="5" fill="#3d005a"/><rect x="103" y="184" width="6" height="5" fill="#360048"/><rect x="109" y="184" width="6" height="5" fill="#250022"/><rect x="115" y="184" width="6" height="5" fill="#000000"/><rect x="121" y="184" width="7" height="5" fill="#250022"/><rect x="128" y="184" width="6" height="5" fill="#360048"/><rect x="134" y="184" width="12" height="5" fill="#49007c"/><rect x="146" y="184" width="19" height="5" fill="#3d005a"/><rect x="165" y="184" width="25" height="5" fill="#4e008c"/><rect x="190" y="184" width="25" height="5" fill="#5700ab"/><rect x="215" y="184" width="6" height="5" fill="#49007c"/><rect x="221" y="184" width="7" height="5" fill="#5700ab"/><rect x="228" y="184" width="18" height="5" fill="#5b01b8"/><rect x="246" y="184" width="13" height="5" fill="#5700ab"/><rect x="259" y="184" width="6" height="5" fill="#4e008c"/><rect x="265" y="184" width="19" height="5" fill="#49007c"/><rect x="284" y="184" width="6" height="5" fill="#4e008c"/><rect x="290" y="184" width="6" height="5" fill="#5700ab"/><rect x="296" y="184" width="7" height="5" fill="#5b01b8"/><rect x="303" y="184" width="6" height="5" fill="#6001c5"/><rect x="309" y="184" width="6" height="5" fill="#6b01e4"/><rect x="315" y="184" width="6" height="5" fill="#7502f8"/><rect x="321" y="184" width="32" height="5" fill="#7f04ff"/><rect x="353" y="184" width="6" height="5" fill="#8806f9"/><rect x="359" y="184" width="6" height="5" fill="#8d07ef"/><rect x="365" y="184" width="13" height="5" fill="#9309df"/><rect x="378" y="184" width="18" height="5" fill="#9a0dbe"/><rect x="396" y="184" width="13" height="5" fill="#a21193"/><rect x="409" y="184" width="12" height="5" fill="#ab174f"/><rect x="421" y="184" width="13" height="5" fill="#b52100"/><rect x="434" y="184" width="12" height="5" fill="#bc2a00"/><rect x="446" y="184" width="19" height="5" fill="#b01b2a"/><rect x="465" y="184" width="19" height="5" fill="#ab174f"/><rect x="484" y="184" width="12" height="5" fill="#a61472"/><rect x="496" y="184" width="7" height="5" fill="#b21d17"/><rect x="503" y="184" width="12" height="5" fill="#9d0eb0"/><rect x="515" y="184" width="9" height="5" fill="#8806f9"/><rect x="75" y="189" width="3" height="5" fill="#7c03fe"/><rect x="78" y="189" width="6" height="5" fill="#7502f8"/><rect x="84" y="189" width="6" height="5" fill="#6701db"/><rect x="90" y="189" width="6" height="5" fill="#5b01b8"/><rect x="96" y="189" width="7" height="5" fill="#4e008c"/><rect x="103" y="189" width="12" height="5" fill="#43006b"/><rect x="115" y="189" width="6" height="5" fill="#360048"/><rect x="121" y="189" width="7" height="5" fill="#3d005a"/><rect x="128" y="189" width="6" height="5" fill="#43006b"/><rect x="134" y="189" width="12" height="5" fill="#49007c"/><rect x="146" y="189" width="19" height="5" fill="#360048"/><rect x="165" y="189" width="19" height="5" fill="#4e008c"/><rect x="184" y="189" width="25" height="5" fill="#5700ab"/><rect x="209" y="189" width="19" height="5" fill="#5b01b8"/><rect x="228" y="189" width="25" height="5" fill="#6001c5"/><rect x="253" y="189" width="6" height="5" fill="#5b01b8"/><rect x="259" y="189" width="6" height="5" fill="#53009c"/><rect x="265" y="189" width="19" height="5" fill="#4e008c"/><rect x="284" y="189" width="6" height="5" fill="#53009c"/><rect x="290" y="189" width="6" height="5" fill="#5700ab"/><rect x="296" y="189" width="7" height="5" fill="#6001c5"/><rect x="303" y="189" width="6" height="5" fill="#6401d1"/><rect x="309" y="189" width="6" height="5" fill="#6f02ec"/><rect x="315" y="189" width="6" height="5" fill="#7903fc"/><rect x="321" y="189" width="25" height="5" fill="#7f04ff"/><rect x="346" y="189" width="7" height="5" fill="#8806f9"/><rect x="353" y="189" width="6" height="5" fill="#8d07ef"/><rect x="359" y="189" width="6" height="5" fill="#950ad5"/><rect x="365" y="189" width="6" height="5" fill="#980bca"/><rect x="371" y="189" width="13" height="5" fill="#9f0fa2"/><rect x="384" y="189" width="12" height="5" fill="#ab174f"/><rect x="396" y="189" width="7" height="5" fill="#b52100"/><rect x="403" y="189" width="6" height="5" fill="#c33400"/><rect x="409" y="189" width="6" height="5" fill="#d04c00"/><rect x="415" y="189" width="6" height="5" fill="#d55700"/><rect x="421" y="189" width="13" height="5" fill="#dc6b00"/><rect x="434" y="189" width="12" height="5" fill="#e07500"/><rect x="446" y="189" width="32" height="5" fill="#d96100"/><rect x="478" y="189" width="18" height="5" fill="#d45300"/><rect x="496" y="189" width="13" height="5" fill="#ca3f00"/><rect x="509" y="189" width="6" height="5" fill="#a61472"/><rect x="515" y="189" width="9" height="5" fill="#980bca"/><rect x="75" y="194" width="3" height="5" fill="#7f04ff"/><rect x="78" y="194" width="12" height="5" fill="#7c03fe"/><rect x="90" y="194" width="6" height="5" fill="#7502f8"/><rect x="96" y="194" width="7" height="5" fill="#6f02ec"/><rect x="103" y="194" width="6" height="5" fill="#6b01e4"/><rect x="109" y="194" width="6" height="5" fill="#6001c5"/><rect x="115" y="194" width="6" height="5" fill="#5b01b8"/><rect x="121" y="194" width="7" height="5" fill="#5700ab"/><rect x="128" y="194" width="6" height="5" fill="#53009c"/><rect x="134" y="194" width="12" height="5" fill="#4e008c"/><rect x="146" y="194" width="19" height="5" fill="#43006b"/><rect x="165" y="194" width="13" height="5" fill="#49007c"/><rect x="178" y="194" width="31" height="5" fill="#53009c"/><rect x="209" y="194" width="19" height="5" fill="#5b01b8"/><rect x="228" y="194" width="25" height="5" fill="#6701db"/><rect x="253" y="194" width="6" height="5" fill="#6401d1"/><rect x="259" y="194" width="6" height="5" fill="#5b01b8"/><rect x="265" y="194" width="6" height="5" fill="#5700ab"/><rect x="271" y="194" width="19" height="5" fill="#5b01b8"/><rect x="290" y="194" width="6" height="5" fill="#6001c5"/><rect x="296" y="194" width="7" height="5" fill="#6401d1"/><rect x="303" y="194" width="6" height="5" fill="#6701db"/><rect x="309" y="194" width="6" height="5" fill="#6f02ec"/><rect x="315" y="194" width="6" height="5" fill="#7903fc"/><rect x="321" y="194" width="19" height="5" fill="#7f04ff"/><rect x="340" y="194" width="6" height="5" fill="#8505fd"/><rect x="346" y="194" width="7" height="5" fill="#8d07ef"/><rect x="353" y="194" width="6" height="5" fill="#950ad5"/><rect x="359" y="194" width="6" height="5" fill="#9d0eb0"/><rect x="365" y="194" width="13" height="5" fill="#a21193"/><rect x="378" y="194" width="12" height="5" fill="#ab174f"/><rect x="390" y="194" width="6" height="5" fill="#b52100"/><rect x="396" y="194" width="7" height="5" fill="#bc2a00"/><rect x="403" y="194" width="6" height="5" fill="#d55700"/><rect x="409" y="194" width="6" height="5" fill="#d96100"/><rect x="415" y="194" width="6" height="5" fill="#e07500"/><rect x="421" y="194" width="7" height="5" fill="#e38000"/><rect x="428" y="194" width="6" height="5" fill="#ea9900"/><rect x="434" y="194" width="6" height="5" fill="#eb9e00"/><rect x="440" y="194" width="38" height="5" fill="#eda300"/><rect x="478" y="194" width="18" height="5" fill="#e07500"/><rect x="496" y="194" width="13" height="5" fill="#d96100"/><rect x="509" y="194" width="6" height="5" fill="#bc2a00"/><rect x="515" y="194" width="9" height="5" fill="#ab174f"/><rect x="75" y="199" width="9" height="5" fill="#9309df"/><rect x="84" y="199" width="19" height="5" fill="#8204ff"/><rect x="103" y="199" width="25" height="5" fill="#7c03fe"/><rect x="128" y="199" width="6" height="5" fill="#7502f8"/><rect x="134" y="199" width="6" height="5" fill="#6f02ec"/><rect x="140" y="199" width="13" height="5" fill="#6001c5"/><rect x="153" y="199" width="18" height="5" fill="#5700ab"/><rect x="171" y="199" width="7" height="5" fill="#43006b"/><rect x="178" y="199" width="31" height="5" fill="#5700ab"/><rect x="209" y="199" width="19" height="5" fill="#6001c5"/><rect x="228" y="199" width="25" height="5" fill="#6b01e4"/><rect x="253" y="199" width="6" height="5" fill="#6701db"/><rect x="259" y="199" width="19" height="5" fill="#6401d1"/><rect x="278" y="199" width="18" height="5" fill="#6001c5"/><rect x="296" y="199" width="7" height="5" fill="#6401d1"/><rect x="303" y="199" width="6" height="5" fill="#6701db"/><rect x="309" y="199" width="6" height="5" fill="#7202f3"/><rect x="315" y="199" width="6" height="5" fill="#7903fc"/><rect x="321" y="199" width="13" height="5" fill="#7f04ff"/><rect x="334" y="199" width="6" height="5" fill="#8505fd"/><rect x="340" y="199" width="6" height="5" fill="#8d07ef"/><rect x="346" y="199" width="7" height="5" fill="#950ad5"/><rect x="353" y="199" width="6" height="5" fill="#9d0eb0"/><rect x="359" y="199" width="6" height="5" fill="#a61472"/><rect x="365" y="199" width="13" height="5" fill="#ab174f"/><rect x="378" y="199" width="6" height="5" fill="#b41f04"/><rect x="384" y="199" width="6" height="5" fill="#b52100"/><rect x="390" y="199" width="6" height="5" fill="#bc2a00"/><rect x="396" y="199" width="7" height="5" fill="#c33400"/><rect x="403" y="199" width="6" height="5" fill="#d96100"/><rect x="409" y="199" width="6" height="5" fill="#dc6b00"/><rect x="415" y="199" width="6" height="5" fill="#e38000"/><rect x="421" y="199" width="7" height="5" fill="#e78c00"/><rect x="428" y="199" width="6" height="5" fill="#eb9e00"/><rect x="434" y="199" width="12" height="5" fill="#eda300"/><rect x="446" y="199" width="13" height="5" fill="#eb9e00"/><rect x="459" y="199" width="19" height="5" fill="#e58600"/><rect x="478" y="199" width="18" height="5" fill="#e07500"/><rect x="496" y="199" width="13" height="5" fill="#d96100"/><rect x="509" y="199" width="15" height="5" fill="#bc2a00"/><rect x="75" y="204" width="9" height="5" fill="#b41f04"/><rect x="84" y="204" width="6" height="5" fill="#b01b2a"/><rect x="90" y="204" width="13" height="5" fill="#9d0eb0"/><rect x="103" y="204" width="6" height="5" fill="#980bca"/><rect x="109" y="204" width="6" height="5" fill="#8d07ef"/><rect x="115" y="204" width="13" height="5" fill="#8204ff"/><rect x="128" y="204" width="6" height="5" fill="#7c03fe"/><rect x="134" y="204" width="6" height="5" fill="#7502f8"/><rect x="140" y="204" width="19" height="5" fill="#6f02ec"/><rect x="159" y="204" width="31" height="5" fill="#6001c5"/><rect x="190" y="204" width="19" height="5" fill="#5b01b8"/><rect x="209" y="204" width="19" height="5" fill="#6701db"/><rect x="228" y="204" width="31" height="5" fill="#6f02ec"/><rect x="259" y="204" width="19" height="5" fill="#6b01e4"/><rect x="278" y="204" width="18" height="5" fill="#6401d1"/><rect x="296" y="204" width="7" height="5" fill="#6701db"/><rect x="303" y="204" width="6" height="5" fill="#6b01e4"/><rect x="309" y="204" width="6" height="5" fill="#7202f3"/><rect x="315" y="204" width="13" height="5" fill="#7c03fe"/><rect x="328" y="204" width="6" height="5" fill="#8204ff"/><rect x="334" y="204" width="6" height="5" fill="#8806f9"/><rect x="340" y="204" width="6" height="5" fill="#9309df"/><rect x="346" y="204" width="7" height="5" fill="#9d0eb0"/><rect x="353" y="204" width="6" height="5" fill="#a61472"/><rect x="359" y="204" width="6" height="5" fill="#b01b2a"/><rect x="365" y="204" width="6" height="5" fill="#ab174f"/><rect x="371" y="204" width="13" height="5" fill="#b41f04"/><rect x="384" y="204" width="12" height="5" fill="#bc2a00"/><rect x="396" y="204" width="7" height="5" fill="#ca3f00"/><rect x="403" y="204" width="6" height="5" fill="#d45300"/><rect x="409" y="204" width="6" height="5" fill="#dc6b00"/><rect x="415" y="204" width="6" height="5" fill="#e07500"/><rect x="421" y="204" width="13" height="5" fill="#e38000"/><rect x="434" y="204" width="12" height="5" fill="#e58600"/><rect x="446" y="204" width="19" height="5" fill="#e38000"/><rect x="465" y="204" width="19" height="5" fill="#dc6b00"/><rect x="484" y="204" width="19" height="5" fill="#d96100"/><rect x="503" y="204" width="12" height="5" fill="#ca3f00"/><rect x="515" y="204" width="9" height="5" fill="#bc2a00"/><rect x="75" y="209" width="9" height="6" fill="#c02f00"/><rect x="84" y="209" width="12" height="6" fill="#b62200"/><rect x="96" y="209" width="13" height="6" fill="#b21d17"/><rect x="109" y="209" width="6" height="6" fill="#a61472"/><rect x="115" y="209" width="13" height="6" fill="#9d0eb0"/><rect x="128" y="209" width="6" height="6" fill="#8806f9"/><rect x="134" y="209" width="12" height="6" fill="#7c03fe"/><rect x="146" y="209" width="19" height="6" fill="#6f02ec"/><rect x="165" y="209" width="19" height="6" fill="#6401d1"/><rect x="184" y="209" width="25" height="6" fill="#6001c5"/><rect x="209" y="209" width="25" height="6" fill="#6701db"/><rect x="234" y="209" width="6" height="6" fill="#7502f8"/><rect x="240" y="209" width="6" height="6" fill="#7502f7"/><rect x="246" y="209" width="7" height="6" fill="#7402f5"/><rect x="253" y="209" width="6" height="6" fill="#7002ef"/><rect x="259" y="209" width="6" height="6" fill="#6d02e8"/><rect x="265" y="209" width="6" height="6" fill="#6901e0"/><rect x="271" y="209" width="7" height="6" fill="#6501d6"/><rect x="278" y="209" width="6" height="6" fill="#6201cb"/><rect x="284" y="209" width="6" height="6" fill="#5b01b8"/><rect x="290" y="209" width="6" height="6" fill="#6001c5"/><rect x="296" y="209" width="7" height="6" fill="#6701db"/><rect x="303" y="209" width="6" height="6" fill="#6f02ec"/><rect x="309" y="209" width="6" height="6" fill="#7502f8"/><rect x="315" y="209" width="13" height="6" fill="#7c03fe"/><rect x="328" y="209" width="6" height="6" fill="#8505fd"/><rect x="334" y="209" width="6" height="6" fill="#8d07ef"/><rect x="340" y="209" width="6" height="6" fill="#980bca"/><rect x="346" y="209" width="7" height="6" fill="#a21193"/><rect x="353" y="209" width="6" height="6" fill="#ab174f"/><rect x="359" y="209" width="6" height="6" fill="#b41f04"/><rect x="365" y="209" width="13" height="6" fill="#b21d17"/><rect x="378" y="209" width="6" height="6" fill="#b62200"/><rect x="384" y="209" width="6" height="6" fill="#b92500"/><rect x="390" y="209" width="13" height="6" fill="#c33400"/><rect x="403" y="209" width="12" height="6" fill="#d45300"/><rect x="415" y="209" width="13" height="6" fill="#d96100"/><rect x="428" y="209" width="37" height="6" fill="#dc6b00"/><rect x="465" y="209" width="19" height="6" fill="#d96100"/><rect x="484" y="209" width="19" height="6" fill="#d45300"/><rect x="503" y="209" width="21" height="6" fill="#c33400"/><rect x="75" y="215" width="3" height="5" fill="#bc2900"/><rect x="78" y="215" width="12" height="5" fill="#c02f00"/><rect x="90" y="215" width="6" height="5" fill="#c63800"/><rect x="96" y="215" width="7" height="5" fill="#c83c00"/><rect x="103" y="215" width="6" height="5" fill="#cc4300"/><rect x="109" y="215" width="6" height="5" fill="#d04b00"/><rect x="115" y="215" width="6" height="5" fill="#c83c00"/><rect x="121" y="215" width="7" height="5" fill="#b82400"/><rect x="128" y="215" width="6" height="5" fill="#a21193"/><rect x="134" y="215" width="6" height="5" fill="#7c03fe"/><rect x="140" y="215" width="25" height="5" fill="#7502f8"/><rect x="165" y="215" width="19" height="5" fill="#6701db"/><rect x="184" y="215" width="25" height="5" fill="#6401d1"/><rect x="209" y="215" width="25" height="5" fill="#6f02ec"/><rect x="234" y="215" width="19" height="5" fill="#7502f8"/><rect x="253" y="215" width="6" height="5" fill="#7202f3"/><rect x="259" y="215" width="6" height="5" fill="#6f02ec"/><rect x="265" y="215" width="6" height="5" fill="#6b01e4"/><rect x="271" y="215" width="7" height="5" fill="#6701db"/><rect x="278" y="215" width="6" height="5" fill="#6401d1"/><rect x="284" y="215" width="6" height="5" fill="#6001c5"/><rect x="290" y="215" width="6" height="5" fill="#6401d1"/><rect x="296" y="215" width="7" height="5" fill="#6b01e4"/><rect x="303" y="215" width="6" height="5" fill="#7202f3"/><rect x="309" y="215" width="6" height="5" fill="#7502f8"/><rect x="315" y="215" width="6" height="5" fill="#7c03fe"/><rect x="321" y="215" width="7" height="5" fill="#8204ff"/><rect x="328" y="215" width="6" height="5" fill="#8806f9"/><rect x="334" y="215" width="6" height="5" fill="#9309df"/><rect x="340" y="215" width="6" height="5" fill="#9d0eb0"/><rect x="346" y="215" width="7" height="5" fill="#a61472"/><rect x="353" y="215" width="6" height="5" fill="#b01b2a"/><rect x="359" y="215" width="19" height="5" fill="#b41f04"/><rect x="378" y="215" width="6" height="5" fill="#b82400"/><rect x="384" y="215" width="12" height="5" fill="#bc2a00"/><rect x="396" y="215" width="13" height="5" fill="#ca3f00"/><rect x="409" y="215" width="19" height="5" fill="#d45300"/><rect x="428" y="215" width="18" height="5" fill="#d96100"/><rect x="446" y="215" width="25" height="5" fill="#d45300"/><rect x="471" y="215" width="25" height="5" fill="#d55700"/><rect x="496" y="215" width="13" height="5" fill="#d04c00"/><rect x="509" y="215" width="15" height="5" fill="#c33400"/><rect x="75" y="220" width="15" height="5" fill="#b82400"/><rect x="90" y="220" width="6" height="5" fill="#c02f00"/><rect x="96" y="220" width="19" height="5" fill="#cc4300"/><rect x="115" y="220" width="6" height="5" fill="#c83c00"/><rect x="121" y="220" width="7" height="5" fill="#bc2900"/><rect x="128" y="220" width="6" height="5" fill="#b41f04"/><rect x="134" y="220" width="6" height="5" fill="#8d07ef"/><rect x="140" y="220" width="19" height="5" fill="#8204ff"/><rect x="159" y="220" width="19" height="5" fill="#7502f8"/><rect x="178" y="220" width="31" height="5" fill="#6b01e4"/><rect x="209" y="220" width="25" height="5" fill="#7202f3"/><rect x="234" y="220" width="19" height="5" fill="#7903fc"/><rect x="253" y="220" width="6" height="5" fill="#7502f7"/><rect x="259" y="220" width="6" height="5" fill="#7002ef"/><rect x="265" y="220" width="6" height="5" fill="#6d02e8"/><rect x="271" y="220" width="7" height="5" fill="#6901e0"/><rect x="278" y="220" width="6" height="5" fill="#6501d6"/><rect x="284" y="220" width="6" height="5" fill="#6401d1"/><rect x="290" y="220" width="6" height="5" fill="#6701db"/><rect x="296" y="220" width="7" height="5" fill="#6f02ec"/><rect x="303" y="220" width="6" height="5" fill="#7502f8"/><rect x="309" y="220" width="6" height="5" fill="#7c03fe"/><rect x="315" y="220" width="6" height="5" fill="#7f04ff"/><rect x="321" y="220" width="7" height="5" fill="#8505fd"/><rect x="328" y="220" width="6" height="5" fill="#8d07ef"/><rect x="334" y="220" width="6" height="5" fill="#950ad5"/><rect x="340" y="220" width="6" height="5" fill="#9d0eb0"/><rect x="346" y="220" width="7" height="5" fill="#a61472"/><rect x="353" y="220" width="6" height="5" fill="#ad193c"/><rect x="359" y="220" width="6" height="5" fill="#b21d17"/><rect x="365" y="220" width="13" height="5" fill="#b62200"/><rect x="378" y="220" width="6" height="5" fill="#b82400"/><rect x="384" y="220" width="12" height="5" fill="#bc2a00"/><rect x="396" y="220" width="19" height="5" fill="#ca3f00"/><rect x="415" y="220" width="13" height="5" fill="#d45300"/><rect x="428" y="220" width="31" height="5" fill="#d55700"/><rect x="459" y="220" width="19" height="5" fill="#d04c00"/><rect x="478" y="220" width="18" height="5" fill="#d55700"/><rect x="496" y="220" width="25" height="5" fill="#c33400"/><rect x="521" y="220" width="3" height="5" fill="#b52100"/><rect x="75" y="225" width="9" height="5" fill="#b41f04"/><rect x="84" y="225" width="6" height="5" fill="#a61472"/><rect x="90" y="225" width="13" height="5" fill="#b41f04"/><rect x="103" y="225" width="18" height="5" fill="#bc2900"/><rect x="121" y="225" width="7" height="5" fill="#b62200"/><rect x="128" y="225" width="6" height="5" fill="#a61472"/><rect x="134" y="225" width="6" height="5" fill="#9309df"/><rect x="140" y="225" width="13" height="5" fill="#8806f9"/><rect x="153" y="225" width="25" height="5" fill="#7c03fe"/><rect x="178" y="225" width="56" height="5" fill="#7502f8"/><rect x="234" y="225" width="19" height="5" fill="#7c03fe"/><rect x="253" y="225" width="6" height="5" fill="#7703fa"/><rect x="259" y="225" width="6" height="5" fill="#7202f3"/><rect x="265" y="225" width="6" height="5" fill="#6f02ec"/><rect x="271" y="225" width="7" height="5" fill="#6b01e4"/><rect x="278" y="225" width="12" height="5" fill="#6701db"/><rect x="290" y="225" width="6" height="5" fill="#6b01e4"/><rect x="296" y="225" width="7" height="5" fill="#6f02ec"/><rect x="303" y="225" width="6" height="5" fill="#7502f8"/><rect x="309" y="225" width="6" height="5" fill="#7c03fe"/><rect x="315" y="225" width="6" height="5" fill="#8204ff"/><rect x="321" y="225" width="7" height="5" fill="#8806f9"/><rect x="328" y="225" width="6" height="5" fill="#8d07ef"/><rect x="334" y="225" width="6" height="5" fill="#950ad5"/><rect x="340" y="225" width="6" height="5" fill="#9d0eb0"/><rect x="346" y="225" width="7" height="5" fill="#a41283"/><rect x="353" y="225" width="6" height="5" fill="#ab174f"/><rect x="359" y="225" width="6" height="5" fill="#b01b2a"/><rect x="365" y="225" width="19" height="5" fill="#b41f04"/><rect x="384" y="225" width="12" height="5" fill="#bc2a00"/><rect x="396" y="225" width="19" height="5" fill="#c33400"/><rect x="415" y="225" width="13" height="5" fill="#d04c00"/><rect x="428" y="225" width="18" height="5" fill="#d45300"/><rect x="446" y="225" width="50" height="5" fill="#d96100"/><rect x="496" y="225" width="13" height="5" fill="#d04c00"/><rect x="509" y="225" width="12" height="5" fill="#bc2a00"/><rect x="521" y="225" width="3" height="5" fill="#ab174f"/><rect x="75" y="230" width="3" height="5" fill="#b01b2a"/><rect x="78" y="230" width="18" height="5" fill="#a21193"/><rect x="96" y="230" width="19" height="5" fill="#b01b2a"/><rect x="115" y="230" width="13" height="5" fill="#a61472"/><rect x="128" y="230" width="6" height="5" fill="#9d0eb0"/><rect x="134" y="230" width="12" height="5" fill="#9309df"/><rect x="146" y="230" width="19" height="5" fill="#8505fd"/><rect x="165" y="230" width="69" height="5" fill="#7c03fe"/><rect x="234" y="230" width="6" height="5" fill="#7a03fd"/><rect x="240" y="230" width="13" height="5" fill="#7903fc"/><rect x="253" y="230" width="6" height="5" fill="#7502f7"/><rect x="259" y="230" width="6" height="5" fill="#7002ef"/><rect x="265" y="230" width="6" height="5" fill="#6d02e8"/><rect x="271" y="230" width="7" height="5" fill="#6901e0"/><rect x="278" y="230" width="6" height="5" fill="#6601d8"/><rect x="284" y="230" width="6" height="5" fill="#6701db"/><rect x="290" y="230" width="6" height="5" fill="#6b01e4"/><rect x="296" y="230" width="7" height="5" fill="#7202f3"/><rect x="303" y="230" width="6" height="5" fill="#7502f8"/><rect x="309" y="230" width="6" height="5" fill="#7c03fe"/><rect x="315" y="230" width="6" height="5" fill="#8204ff"/><rect x="321" y="230" width="7" height="5" fill="#8806f9"/><rect x="328" y="230" width="6" height="5" fill="#8d07ef"/><rect x="334" y="230" width="6" height="5" fill="#950ad5"/><rect x="340" y="230" width="6" height="5" fill="#9a0dbe"/><rect x="346" y="230" width="7" height="5" fill="#a21193"/><rect x="353" y="230" width="6" height="5" fill="#a91561"/><rect x="359" y="230" width="6" height="5" fill="#ad193c"/><rect x="365" y="230" width="13" height="5" fill="#b21d17"/><rect x="378" y="230" width="6" height="5" fill="#b62200"/><rect x="384" y="230" width="6" height="5" fill="#b92500"/><rect x="390" y="230" width="19" height="5" fill="#bc2a00"/><rect x="409" y="230" width="12" height="5" fill="#ca3f00"/><rect x="421" y="230" width="25" height="5" fill="#d55700"/><rect x="446" y="230" width="32" height="5" fill="#dc6b00"/><rect x="478" y="230" width="18" height="5" fill="#d96100"/><rect x="496" y="230" width="13" height="5" fill="#ca3f00"/><rect x="509" y="230" width="15" height="5" fill="#b92500"/><rect x="75" y="235" width="3" height="5" fill="#a61472"/><rect x="78" y="235" width="12" height="5" fill="#9d0eb0"/><rect x="90" y="235" width="13" height="5" fill="#980bca"/><rect x="103" y="235" width="18" height="5" fill="#8d07ef"/><rect x="121" y="235" width="13" height="5" fill="#8806f9"/><rect x="134" y="235" width="6" height="5" fill="#9309df"/><rect x="140" y="235" width="13" height="5" fill="#8806f9"/><rect x="153" y="235" width="62" height="5" fill="#7f04ff"/><rect x="215" y="235" width="56" height="5" fill="#7c03fe"/><rect x="271" y="235" width="7" height="5" fill="#6f02ec"/><rect x="278" y="235" width="6" height="5" fill="#6701db"/><rect x="284" y="235" width="6" height="5" fill="#6b01e4"/><rect x="290" y="235" width="6" height="5" fill="#6f02ec"/><rect x="296" y="235" width="7" height="5" fill="#7202f3"/><rect x="303" y="235" width="6" height="5" fill="#7903fc"/><rect x="309" y="235" width="6" height="5" fill="#7f04ff"/><rect x="315" y="235" width="6" height="5" fill="#8505fd"/><rect x="321" y="235" width="7" height="5" fill="#8b07f5"/><rect x="328" y="235" width="6" height="5" fill="#9008e7"/><rect x="334" y="235" width="6" height="5" fill="#950ad5"/><rect x="340" y="235" width="6" height="5" fill="#9a0dbe"/><rect x="346" y="235" width="7" height="5" fill="#a21193"/><rect x="353" y="235" width="6" height="5" fill="#a61472"/><rect x="359" y="235" width="19" height="5" fill="#ab174f"/><rect x="378" y="235" width="12" height="5" fill="#b21d17"/><rect x="390" y="235" width="13" height="5" fill="#b92500"/><rect x="403" y="235" width="12" height="5" fill="#ca3f00"/><rect x="415" y="235" width="19" height="5" fill="#d96100"/><rect x="434" y="235" width="12" height="5" fill="#e07500"/><rect x="446" y="235" width="25" height="5" fill="#e38000"/><rect x="471" y="235" width="19" height="5" fill="#e07500"/><rect x="490" y="235" width="13" height="5" fill="#d96100"/><rect x="503" y="235" width="18" height="5" fill="#c33400"/><rect x="521" y="235" width="3" height="5" fill="#b52100"/><rect x="75" y="240" width="9" height="6" fill="#b01b2a"/><rect x="84" y="240" width="12" height="6" fill="#9d0eb0"/><rect x="96" y="240" width="13" height="6" fill="#8806f9"/><rect x="109" y="240" width="44" height="6" fill="#7f04ff"/><rect x="153" y="240" width="6" height="6" fill="#8c07f2"/><rect x="159" y="240" width="6" height="6" fill="#8b07f5"/><rect x="165" y="240" width="6" height="6" fill="#8a06f6"/><rect x="171" y="240" width="7" height="6" fill="#8906f7"/><rect x="178" y="240" width="6" height="6" fill="#8706fa"/><rect x="184" y="240" width="6" height="6" fill="#8505fd"/><rect x="190" y="240" width="6" height="6" fill="#8405fd"/><rect x="196" y="240" width="7" height="6" fill="#8305fe"/><rect x="203" y="240" width="6" height="6" fill="#8204ff"/><rect x="209" y="240" width="6" height="6" fill="#8004ff"/><rect x="215" y="240" width="44" height="6" fill="#7c03fe"/><rect x="259" y="240" width="12" height="6" fill="#7502f8"/><rect x="271" y="240" width="7" height="6" fill="#6f02ec"/><rect x="278" y="240" width="12" height="6" fill="#6701db"/><rect x="290" y="240" width="6" height="6" fill="#6f02ec"/><rect x="296" y="240" width="7" height="6" fill="#7502f8"/><rect x="303" y="240" width="6" height="6" fill="#7903fc"/><rect x="309" y="240" width="6" height="6" fill="#7f04ff"/><rect x="315" y="240" width="6" height="6" fill="#8505fd"/><rect x="321" y="240" width="7" height="6" fill="#8b07f5"/><rect x="328" y="240" width="6" height="6" fill="#9008e7"/><rect x="334" y="240" width="6" height="6" fill="#950ad5"/><rect x="340" y="240" width="6" height="6" fill="#9a0dbe"/><rect x="346" y="240" width="7" height="6" fill="#9f0fa2"/><rect x="353" y="240" width="6" height="6" fill="#a41283"/><rect x="359" y="240" width="6" height="6" fill="#a91561"/><rect x="365" y="240" width="13" height="6" fill="#a61472"/><rect x="378" y="240" width="12" height="6" fill="#b01b2a"/><rect x="390" y="240" width="6" height="6" fill="#bc2a00"/><rect x="396" y="240" width="7" height="6" fill="#c33400"/><rect x="403" y="240" width="12" height="6" fill="#d04c00"/><rect x="415" y="240" width="6" height="6" fill="#d96100"/><rect x="421" y="240" width="7" height="6" fill="#dc6b00"/><rect x="428" y="240" width="6" height="6" fill="#e07500"/><rect x="434" y="240" width="12" height="6" fill="#e38000"/><rect x="446" y="240" width="7" height="6" fill="#e07500"/><rect x="453" y="240" width="12" height="6" fill="#eb9e00"/><rect x="465" y="240" width="13" height="6" fill="#eda300"/><rect x="478" y="240" width="12" height="6" fill="#eb9e00"/><rect x="490" y="240" width="13" height="6" fill="#dc6b00"/><rect x="503" y="240" width="12" height="6" fill="#ca3f00"/><rect x="515" y="240" width="9" height="6" fill="#bc2a00"/><rect x="75" y="246" width="9" height="5" fill="#b41f04"/><rect x="84" y="246" width="6" height="5" fill="#a21193"/><rect x="90" y="246" width="13" height="5" fill="#8d07ef"/><rect x="103" y="246" width="50" height="5" fill="#8204ff"/><rect x="153" y="246" width="25" height="5" fill="#8806f9"/><rect x="178" y="246" width="6" height="5" fill="#8605fb"/><rect x="184" y="246" width="19" height="5" fill="#8505fd"/><rect x="203" y="246" width="6" height="5" fill="#8305fe"/><rect x="209" y="246" width="6" height="5" fill="#8204ff"/><rect x="215" y="246" width="38" height="5" fill="#7c03fe"/><rect x="253" y="246" width="18" height="5" fill="#7502f8"/><rect x="271" y="246" width="19" height="5" fill="#6701db"/><rect x="290" y="246" width="6" height="5" fill="#6f02ec"/><rect x="296" y="246" width="7" height="5" fill="#7502f8"/><rect x="303" y="246" width="6" height="5" fill="#7903fc"/><rect x="309" y="246" width="6" height="5" fill="#7f04ff"/><rect x="315" y="246" width="6" height="5" fill="#8505fd"/><rect x="321" y="246" width="7" height="5" fill="#8b07f5"/><rect x="328" y="246" width="6" height="5" fill="#9008e7"/><rect x="334" y="246" width="6" height="5" fill="#950ad5"/><rect x="340" y="246" width="6" height="5" fill="#9a0dbe"/><rect x="346" y="246" width="7" height="5" fill="#9d0eb0"/><rect x="353" y="246" width="6" height="5" fill="#a21193"/><rect x="359" y="246" width="6" height="5" fill="#a61472"/><rect x="365" y="246" width="13" height="5" fill="#a21193"/><rect x="378" y="246" width="6" height="5" fill="#a61472"/><rect x="384" y="246" width="6" height="5" fill="#ab174f"/><rect x="390" y="246" width="6" height="5" fill="#b01b2a"/><rect x="396" y="246" width="7" height="5" fill="#b92500"/><rect x="403" y="246" width="6" height="5" fill="#c33400"/><rect x="409" y="246" width="6" height="5" fill="#ca3f00"/><rect x="415" y="246" width="6" height="5" fill="#d04c00"/><rect x="421" y="246" width="7" height="5" fill="#d55700"/><rect x="428" y="246" width="6" height="5" fill="#dc6b00"/><rect x="434" y="246" width="6" height="5" fill="#e38000"/><rect x="440" y="246" width="6" height="5" fill="#e78c00"/><rect x="446" y="246" width="7" height="5" fill="#dc6b00"/><rect x="453" y="246" width="12" height="5" fill="#e38000"/><rect x="465" y="246" width="13" height="5" fill="#e78c00"/><rect x="478" y="246" width="12" height="5" fill="#eda300"/><rect x="490" y="246" width="13" height="5" fill="#dc6b00"/><rect x="503" y="246" width="12" height="5" fill="#ca3f00"/><rect x="515" y="246" width="9" height="5" fill="#b52100"/><rect x="75" y="251" width="9" height="5" fill="#b82400"/><rect x="84" y="251" width="6" height="5" fill="#b01b2a"/><rect x="90" y="251" width="6" height="5" fill="#a21193"/><rect x="96" y="251" width="13" height="5" fill="#8d07ef"/><rect x="109" y="251" width="44" height="5" fill="#8505fd"/><rect x="153" y="251" width="6" height="5" fill="#8906f7"/><rect x="159" y="251" width="19" height="5" fill="#8806f9"/><rect x="178" y="251" width="6" height="5" fill="#8605fb"/><rect x="184" y="251" width="19" height="5" fill="#8505fd"/><rect x="203" y="251" width="6" height="5" fill="#8305fe"/><rect x="209" y="251" width="6" height="5" fill="#8204ff"/><rect x="215" y="251" width="38" height="5" fill="#7c03fe"/><rect x="253" y="251" width="18" height="5" fill="#7202f3"/><rect x="271" y="251" width="19" height="5" fill="#6401d1"/><rect x="290" y="251" width="6" height="5" fill="#6701db"/><rect x="296" y="251" width="7" height="5" fill="#6f02ec"/><rect x="303" y="251" width="6" height="5" fill="#7502f8"/><rect x="309" y="251" width="6" height="5" fill="#7d04ff"/><rect x="315" y="251" width="6" height="5" fill="#8104ff"/><rect x="321" y="251" width="7" height="5" fill="#8505fd"/><rect x="328" y="251" width="6" height="5" fill="#8806f8"/><rect x="334" y="251" width="6" height="5" fill="#8c07f2"/><rect x="340" y="251" width="6" height="5" fill="#8f08eb"/><rect x="346" y="251" width="7" height="5" fill="#9109e3"/><rect x="353" y="251" width="6" height="5" fill="#950ad5"/><rect x="359" y="251" width="6" height="5" fill="#990cc4"/><rect x="365" y="251" width="13" height="5" fill="#9d0eb0"/><rect x="378" y="251" width="12" height="5" fill="#a61472"/><rect x="390" y="251" width="6" height="5" fill="#b01b2a"/><rect x="396" y="251" width="13" height="5" fill="#bc2a00"/><rect x="409" y="251" width="12" height="5" fill="#ca3f00"/><rect x="421" y="251" width="13" height="5" fill="#d55700"/><rect x="434" y="251" width="12" height="5" fill="#e07500"/><rect x="446" y="251" width="13" height="5" fill="#d45300"/><rect x="459" y="251" width="12" height="5" fill="#d96100"/><rect x="471" y="251" width="13" height="5" fill="#dc6b00"/><rect x="484" y="251" width="6" height="5" fill="#d96100"/><rect x="490" y="251" width="13" height="5" fill="#c33400"/><rect x="503" y="251" width="21" height="5" fill="#b52100"/><rect x="75" y="256" width="3" height="5" fill="#a61472"/><rect x="78" y="256" width="12" height="5" fill="#b21d17"/><rect x="90" y="256" width="6" height="5" fill="#a61472"/><rect x="96" y="256" width="13" height="5" fill="#9d0eb0"/><rect x="109" y="256" width="12" height="5" fill="#9309df"/><rect x="121" y="256" width="32" height="5" fill="#8806f9"/><rect x="153" y="256" width="6" height="5" fill="#8b07f5"/><rect x="159" y="256" width="19" height="5" fill="#8806f9"/><rect x="178" y="256" width="6" height="5" fill="#8605fb"/><rect x="184" y="256" width="19" height="5" fill="#8505fd"/><rect x="203" y="256" width="6" height="5" fill="#8305fe"/><rect x="209" y="256" width="6" height="5" fill="#8204ff"/><rect x="215" y="256" width="31" height="5" fill="#7c03fe"/><rect x="246" y="256" width="7" height="5" fill="#7502f8"/><rect x="253" y="256" width="18" height="5" fill="#6b01e4"/><rect x="271" y="256" width="19" height="5" fill="#6001c5"/><rect x="290" y="256" width="13" height="5" fill="#6b01e4"/><rect x="303" y="256" width="6" height="5" fill="#7703fa"/><rect x="309" y="256" width="6" height="5" fill="#7f04ff"/><rect x="315" y="256" width="6" height="5" fill="#8204ff"/><rect x="321" y="256" width="7" height="5" fill="#8505fd"/><rect x="328" y="256" width="6" height="5" fill="#8806f9"/><rect x="334" y="256" width="6" height="5" fill="#8b07f5"/><rect x="340" y="256" width="6" height="5" fill="#8d07ef"/><rect x="346" y="256" width="7" height="5" fill="#9008e7"/><rect x="353" y="256" width="6" height="5" fill="#9309df"/><rect x="359" y="256" width="6" height="5" fill="#950ad5"/><rect x="365" y="256" width="19" height="5" fill="#9d0eb0"/><rect x="384" y="256" width="12" height="5" fill="#a61472"/><rect x="396" y="256" width="13" height="5" fill="#b52100"/><rect x="409" y="256" width="12" height="5" fill="#bc2a00"/><rect x="421" y="256" width="13" height="5" fill="#c33400"/><rect x="434" y="256" width="12" height="5" fill="#d04c00"/><rect x="446" y="256" width="19" height="5" fill="#bc2a00"/><rect x="465" y="256" width="13" height="5" fill="#c33400"/><rect x="478" y="256" width="18" height="5" fill="#bc2a00"/><rect x="496" y="256" width="19" height="5" fill="#b52100"/><rect x="515" y="256" width="9" height="5" fill="#ab174f"/><rect x="75" y="261" width="3" height="5" fill="#a21193"/><rect x="78" y="261" width="12" height="5" fill="#a61472"/><rect x="90" y="261" width="6" height="5" fill="#b01b2a"/><rect x="96" y="261" width="13" height="5" fill="#b62200"/><rect x="109" y="261" width="12" height="5" fill="#a21193"/><rect x="121" y="261" width="13" height="5" fill="#9309df"/><rect x="134" y="261" width="19" height="5" fill="#8d07ef"/><rect x="153" y="261" width="6" height="5" fill="#8b07f5"/><rect x="159" y="261" width="19" height="5" fill="#8806f9"/><rect x="178" y="261" width="6" height="5" fill="#8605fb"/><rect x="184" y="261" width="19" height="5" fill="#8505fd"/><rect x="203" y="261" width="6" height="5" fill="#8305fe"/><rect x="209" y="261" width="6" height="5" fill="#8204ff"/><rect x="215" y="261" width="31" height="5" fill="#7903fc"/><rect x="246" y="261" width="7" height="5" fill="#7202f3"/><rect x="253" y="261" width="6" height="5" fill="#6401d1"/><rect x="259" y="261" width="25" height="5" fill="#5b01b8"/><rect x="284" y="261" width="6" height="5" fill="#6401d1"/><rect x="290" y="261" width="13" height="5" fill="#6f02ec"/><rect x="303" y="261" width="6" height="5" fill="#7803fb"/><rect x="309" y="261" width="6" height="5" fill="#7f04ff"/><rect x="315" y="261" width="6" height="5" fill="#8104ff"/><rect x="321" y="261" width="7" height="5" fill="#8305fe"/><rect x="328" y="261" width="6" height="5" fill="#8605fb"/><rect x="334" y="261" width="6" height="5" fill="#8906f7"/><rect x="340" y="261" width="6" height="5" fill="#8c07f2"/><rect x="346" y="261" width="7" height="5" fill="#8f08eb"/><rect x="353" y="261" width="6" height="5" fill="#9109e5"/><rect x="359" y="261" width="6" height="5" fill="#9309df"/><rect x="365" y="261" width="19" height="5" fill="#9a0dbe"/><rect x="384" y="261" width="12" height="5" fill="#a21193"/><rect x="396" y="261" width="19" height="5" fill="#b01b2a"/><rect x="415" y="261" width="19" height="5" fill="#b52100"/><rect x="434" y="261" width="12" height="5" fill="#b92500"/><rect x="446" y="261" width="13" height="5" fill="#b52100"/><rect x="459" y="261" width="19" height="5" fill="#b21d17"/><rect x="478" y="261" width="25" height="5" fill="#b01b2a"/><rect x="503" y="261" width="21" height="5" fill="#a61472"/><rect x="75" y="266" width="9" height="5" fill="#a21193"/><rect x="84" y="266" width="19" height="5" fill="#9d0eb0"/><rect x="103" y="266" width="18" height="5" fill="#b01b2a"/><rect x="121" y="266" width="7" height="5" fill="#a21193"/><rect x="128" y="266" width="25" height="5" fill="#9309df"/><rect x="153" y="266" width="6" height="5" fill="#8b07f5"/><rect x="159" y="266" width="19" height="5" fill="#8806f9"/><rect x="178" y="266" width="6" height="5" fill="#8605fb"/><rect x="184" y="266" width="19" height="5" fill="#8505fd"/><rect x="203" y="266" width="6" height="5" fill="#8305fe"/><rect x="209" y="266" width="6" height="5" fill="#8204ff"/><rect x="215" y="266" width="25" height="5" fill="#7903fc"/><rect x="240" y="266" width="6" height="5" fill="#7202f3"/><rect x="246" y="266" width="7" height="5" fill="#6b01e4"/><rect x="253" y="266" width="12" height="5" fill="#6001c5"/><rect x="265" y="266" width="19" height="5" fill="#5700ab"/><rect x="284" y="266" width="6" height="5" fill="#6001c5"/><rect x="290" y="266" width="13" height="5" fill="#6f02ec"/><rect x="303" y="266" width="6" height="5" fill="#7903fc"/><rect x="309" y="266" width="6" height="5" fill="#7f04ff"/><rect x="315" y="266" width="6" height="5" fill="#8004ff"/><rect x="321" y="266" width="7" height="5" fill="#8204ff"/><rect x="328" y="266" width="6" height="5" fill="#8505fd"/><rect x="334" y="266" width="6" height="5" fill="#8806f9"/><rect x="340" y="266" width="6" height="5" fill="#8b07f5"/><rect x="346" y="266" width="7" height="5" fill="#8d07ef"/><rect x="353" y="266" width="6" height="5" fill="#8f08eb"/><rect x="359" y="266" width="6" height="5" fill="#9008e7"/><rect x="365" y="266" width="25" height="5" fill="#980bca"/><rect x="390" y="266" width="13" height="5" fill="#9f0fa2"/><rect x="403" y="266" width="18" height="5" fill="#a61472"/><rect x="421" y="266" width="25" height="5" fill="#b01b2a"/><rect x="446" y="266" width="7" height="5" fill="#ab174f"/><rect x="453" y="266" width="18" height="5" fill="#a21193"/><rect x="471" y="266" width="19" height="5" fill="#9f0fa2"/><rect x="490" y="266" width="25" height="5" fill="#a21193"/><rect x="515" y="266" width="9" height="5" fill="#9d0eb0"/><rect x="75" y="271" width="34" height="6" fill="#9a0dbe"/><rect x="109" y="271" width="19" height="6" fill="#9d0eb0"/><rect x="128" y="271" width="25" height="6" fill="#8d07ef"/><rect x="153" y="271" width="6" height="6" fill="#8e08ed"/><rect x="159" y="271" width="6" height="6" fill="#8f08eb"/><rect x="165" y="271" width="6" height="6" fill="#8f08e9"/><rect x="171" y="271" width="7" height="6" fill="#9008e7"/><rect x="178" y="271" width="6" height="6" fill="#8d07f0"/><rect x="184" y="271" width="6" height="6" fill="#8906f7"/><rect x="190" y="271" width="6" height="6" fill="#8806f9"/><rect x="196" y="271" width="7" height="6" fill="#8605fb"/><rect x="203" y="271" width="6" height="6" fill="#8505fd"/><rect x="209" y="271" width="6" height="6" fill="#8305fe"/><rect x="215" y="271" width="25" height="6" fill="#7903fc"/><rect x="240" y="271" width="6" height="6" fill="#6f02ec"/><rect x="246" y="271" width="13" height="6" fill="#6001c5"/><rect x="259" y="271" width="12" height="6" fill="#53009c"/><rect x="271" y="271" width="7" height="6" fill="#5700ab"/><rect x="278" y="271" width="6" height="6" fill="#5b01b8"/><rect x="284" y="271" width="6" height="6" fill="#6701db"/><rect x="290" y="271" width="6" height="6" fill="#6f02ec"/><rect x="296" y="271" width="7" height="6" fill="#7202f3"/><rect x="303" y="271" width="6" height="6" fill="#7502f8"/><rect x="309" y="271" width="12" height="6" fill="#7903fc"/><rect x="321" y="271" width="7" height="6" fill="#8204ff"/><rect x="328" y="271" width="6" height="6" fill="#8305fe"/><rect x="334" y="271" width="6" height="6" fill="#8505fd"/><rect x="340" y="271" width="6" height="6" fill="#8706fa"/><rect x="346" y="271" width="7" height="6" fill="#8906f7"/><rect x="353" y="271" width="6" height="6" fill="#8b07f5"/><rect x="359" y="271" width="6" height="6" fill="#8c07f2"/><rect x="365" y="271" width="19" height="6" fill="#980bca"/><rect x="384" y="271" width="12" height="6" fill="#950ad5"/><rect x="396" y="271" width="25" height="6" fill="#9d0eb0"/><rect x="421" y="271" width="25" height="6" fill="#a61472"/><rect x="446" y="271" width="13" height="6" fill="#9d0eb0"/><rect x="459" y="271" width="25" height="6" fill="#980bca"/><rect x="484" y="271" width="19" height="6" fill="#9a0dbe"/><rect x="503" y="271" width="21" height="6" fill="#9d0eb0"/><rect x="75" y="277" width="53" height="5" fill="#950ad5"/><rect x="128" y="277" width="6" height="5" fill="#9008e7"/><rect x="134" y="277" width="19" height="5" fill="#8d07ef"/><rect x="153" y="277" width="6" height="5" fill="#9109e3"/><rect x="159" y="277" width="6" height="5" fill="#950ad5"/><rect x="165" y="277" width="6" height="5" fill="#970bcf"/><rect x="171" y="277" width="7" height="5" fill="#980bca"/><rect x="178" y="277" width="6" height="5" fill="#9309df"/><rect x="184" y="277" width="6" height="5" fill="#8d07ef"/><rect x="190" y="277" width="6" height="5" fill="#8b07f5"/><rect x="196" y="277" width="7" height="5" fill="#8806f9"/><rect x="203" y="277" width="6" height="5" fill="#8605fb"/><rect x="209" y="277" width="6" height="5" fill="#8505fd"/><rect x="215" y="277" width="19" height="5" fill="#7903fc"/><rect x="234" y="277" width="12" height="5" fill="#6f02ec"/><rect x="246" y="277" width="13" height="5" fill="#6001c5"/><rect x="259" y="277" width="12" height="5" fill="#53009c"/><rect x="271" y="277" width="7" height="5" fill="#5700ab"/><rect x="278" y="277" width="6" height="5" fill="#5b01b8"/><rect x="284" y="277" width="6" height="5" fill="#6001c5"/><rect x="290" y="277" width="6" height="5" fill="#6701db"/><rect x="296" y="277" width="7" height="5" fill="#6b01e4"/><rect x="303" y="277" width="6" height="5" fill="#6f02ec"/><rect x="309" y="277" width="6" height="5" fill="#7502f8"/><rect x="315" y="277" width="6" height="5" fill="#7903fc"/><rect x="321" y="277" width="19" height="5" fill="#8204ff"/><rect x="340" y="277" width="6" height="5" fill="#8305fe"/><rect x="346" y="277" width="7" height="5" fill="#8505fd"/><rect x="353" y="277" width="6" height="5" fill="#8605fb"/><rect x="359" y="277" width="6" height="5" fill="#8806f9"/><rect x="365" y="277" width="13" height="5" fill="#980bca"/><rect x="378" y="277" width="18" height="5" fill="#9008e7"/><rect x="396" y="277" width="25" height="5" fill="#950ad5"/><rect x="421" y="277" width="25" height="5" fill="#9d0eb0"/><rect x="446" y="277" width="19" height="5" fill="#9309df"/><rect x="465" y="277" width="25" height="5" fill="#950ad5"/><rect x="490" y="277" width="34" height="5" fill="#980bca"/><rect x="75" y="282" width="78" height="5" fill="#9008e7"/><rect x="153" y="282" width="6" height="5" fill="#8d07ef"/><rect x="159" y="282" width="6" height="5" fill="#9008e7"/><rect x="165" y="282" width="6" height="5" fill="#9109e3"/><rect x="171" y="282" width="7" height="5" fill="#9309df"/><rect x="178" y="282" width="6" height="5" fill="#8f08e9"/><rect x="184" y="282" width="6" height="5" fill="#8c07f2"/><rect x="190" y="282" width="6" height="5" fill="#8a06f6"/><rect x="196" y="282" width="7" height="5" fill="#8806f9"/><rect x="203" y="282" width="6" height="5" fill="#8605fb"/><rect x="209" y="282" width="6" height="5" fill="#8505fd"/><rect x="215" y="282" width="19" height="5" fill="#7502f8"/><rect x="234" y="282" width="6" height="5" fill="#6b01e4"/><rect x="240" y="282" width="13" height="5" fill="#6001c5"/><rect x="253" y="282" width="25" height="5" fill="#53009c"/><rect x="278" y="282" width="6" height="5" fill="#5700ab"/><rect x="284" y="282" width="6" height="5" fill="#5b01b8"/><rect x="290" y="282" width="6" height="5" fill="#6401d1"/><rect x="296" y="282" width="7" height="5" fill="#6b01e4"/><rect x="303" y="282" width="6" height="5" fill="#7202f3"/><rect x="309" y="282" width="12" height="5" fill="#7502f8"/><rect x="321" y="282" width="7" height="5" fill="#8004ff"/><rect x="328" y="282" width="6" height="5" fill="#8104ff"/><rect x="334" y="282" width="6" height="5" fill="#8204ff"/><rect x="340" y="282" width="13" height="5" fill="#8305fe"/><rect x="353" y="282" width="6" height="5" fill="#8505fd"/><rect x="359" y="282" width="6" height="5" fill="#8605fb"/><rect x="365" y="282" width="19" height="5" fill="#9309df"/><rect x="384" y="282" width="25" height="5" fill="#8b07f5"/><rect x="409" y="282" width="37" height="5" fill="#9309df"/><rect x="446" y="282" width="19" height="5" fill="#8d07ef"/><rect x="465" y="282" width="59" height="5" fill="#9008e7"/><rect x="75" y="287" width="15" height="5" fill="#9309df"/><rect x="90" y="287" width="38" height="5" fill="#8806f9"/><rect x="128" y="287" width="18" height="5" fill="#8505fd"/><rect x="146" y="287" width="38" height="5" fill="#8b07f5"/><rect x="184" y="287" width="25" height="5" fill="#8806f9"/><rect x="209" y="287" width="6" height="5" fill="#8204ff"/><rect x="215" y="287" width="19" height="5" fill="#7202f3"/><rect x="234" y="287" width="6" height="5" fill="#6401d1"/><rect x="240" y="287" width="19" height="5" fill="#5700ab"/><rect x="259" y="287" width="19" height="5" fill="#53009c"/><rect x="278" y="287" width="6" height="5" fill="#5700ab"/><rect x="284" y="287" width="6" height="5" fill="#6001c5"/><rect x="290" y="287" width="6" height="5" fill="#6701db"/><rect x="296" y="287" width="7" height="5" fill="#6f02ec"/><rect x="303" y="287" width="18" height="5" fill="#7502f8"/><rect x="321" y="287" width="7" height="5" fill="#7f04ff"/><rect x="328" y="287" width="6" height="5" fill="#8004ff"/><rect x="334" y="287" width="19" height="5" fill="#8204ff"/><rect x="353" y="287" width="6" height="5" fill="#8305fe"/><rect x="359" y="287" width="6" height="5" fill="#8505fd"/><rect x="365" y="287" width="19" height="5" fill="#8d07ef"/><rect x="384" y="287" width="31" height="5" fill="#8806f9"/><rect x="415" y="287" width="31" height="5" fill="#8d07ef"/><rect x="446" y="287" width="57" height="5" fill="#8b07f5"/><rect x="503" y="287" width="21" height="5" fill="#8d07ef"/><rect x="75" y="292" width="15" height="5" fill="#9309df"/><rect x="90" y="292" width="19" height="5" fill="#8806f9"/><rect x="109" y="292" width="37" height="5" fill="#8204ff"/><rect x="146" y="292" width="19" height="5" fill="#8806f9"/><rect x="165" y="292" width="44" height="5" fill="#8505fd"/><rect x="209" y="292" width="6" height="5" fill="#8204ff"/><rect x="215" y="292" width="19" height="5" fill="#6f02ec"/><rect x="234" y="292" width="6" height="5" fill="#6001c5"/><rect x="240" y="292" width="19" height="5" fill="#5700ab"/><rect x="259" y="292" width="19" height="5" fill="#53009c"/><rect x="278" y="292" width="6" height="5" fill="#5700ab"/><rect x="284" y="292" width="6" height="5" fill="#5b01b8"/><rect x="290" y="292" width="6" height="5" fill="#6001c5"/><rect x="296" y="292" width="7" height="5" fill="#6b01e4"/><rect x="303" y="292" width="18" height="5" fill="#7502f8"/><rect x="321" y="292" width="7" height="5" fill="#7f04ff"/><rect x="328" y="292" width="25" height="5" fill="#8004ff"/><rect x="353" y="292" width="6" height="5" fill="#8104ff"/><rect x="359" y="292" width="6" height="5" fill="#8204ff"/><rect x="365" y="292" width="13" height="5" fill="#8305fe"/><rect x="378" y="292" width="6" height="5" fill="#8405fd"/><rect x="384" y="292" width="6" height="5" fill="#8505fd"/><rect x="390" y="292" width="6" height="5" fill="#8605fb"/><rect x="396" y="292" width="7" height="5" fill="#8806f9"/><rect x="403" y="292" width="6" height="5" fill="#8806f8"/><rect x="409" y="292" width="19" height="5" fill="#8906f7"/><rect x="428" y="292" width="6" height="5" fill="#8a06f6"/><rect x="434" y="292" width="6" height="5" fill="#8b07f5"/><rect x="440" y="292" width="6" height="5" fill="#8a06f6"/><rect x="446" y="292" width="44" height="5" fill="#8906f7"/><rect x="490" y="292" width="6" height="5" fill="#8806f8"/><rect x="496" y="292" width="19" height="5" fill="#8806f9"/><rect x="515" y="292" width="6" height="5" fill="#8906f7"/><rect x="521" y="292" width="3" height="5" fill="#8b07f5"/><rect x="75" y="297" width="3" height="5" fill="#8d07ef"/><rect x="78" y="297" width="18" height="5" fill="#8b07f5"/><rect x="96" y="297" width="38" height="5" fill="#8204ff"/><rect x="134" y="297" width="44" height="5" fill="#8505fd"/><rect x="178" y="297" width="31" height="5" fill="#8204ff"/><rect x="209" y="297" width="6" height="5" fill="#7c03fe"/><rect x="215" y="297" width="13" height="5" fill="#6f02ec"/><rect x="228" y="297" width="6" height="5" fill="#6701db"/><rect x="234" y="297" width="19" height="5" fill="#5700ab"/><rect x="253" y="297" width="25" height="5" fill="#53009c"/><rect x="278" y="297" width="6" height="5" fill="#5700ab"/><rect x="284" y="297" width="6" height="5" fill="#6001c5"/><rect x="290" y="297" width="6" height="5" fill="#6b01e4"/><rect x="296" y="297" width="7" height="5" fill="#7202f3"/><rect x="303" y="297" width="18" height="5" fill="#7502f8"/><rect x="321" y="297" width="44" height="5" fill="#7f04ff"/><rect x="365" y="297" width="6" height="5" fill="#8004ff"/><rect x="371" y="297" width="19" height="5" fill="#8204ff"/><rect x="390" y="297" width="6" height="5" fill="#8305fe"/><rect x="396" y="297" width="32" height="5" fill="#8505fd"/><rect x="428" y="297" width="6" height="5" fill="#8605fb"/><rect x="434" y="297" width="56" height="5" fill="#8806f9"/><rect x="490" y="297" width="6" height="5" fill="#8605fb"/><rect x="496" y="297" width="19" height="5" fill="#8505fd"/><rect x="515" y="297" width="6" height="5" fill="#8605fb"/><rect x="521" y="297" width="3" height="5" fill="#8806f9"/><rect x="75" y="302" width="9" height="6" fill="#8806f9"/><rect x="84" y="302" width="44" height="6" fill="#8b07f5"/><rect x="128" y="302" width="37" height="6" fill="#8505fd"/><rect x="165" y="302" width="25" height="6" fill="#7f04ff"/><rect x="190" y="302" width="19" height="6" fill="#8204ff"/><rect x="209" y="302" width="6" height="6" fill="#7903fc"/><rect x="215" y="302" width="6" height="6" fill="#6f02ec"/><rect x="221" y="302" width="13" height="6" fill="#6401d1"/><rect x="234" y="302" width="31" height="6" fill="#53009c"/><rect x="265" y="302" width="6" height="6" fill="#5b01b8"/><rect x="271" y="302" width="7" height="6" fill="#53009c"/><rect x="278" y="302" width="6" height="6" fill="#5b01b8"/><rect x="284" y="302" width="6" height="6" fill="#6401d1"/><rect x="290" y="302" width="6" height="6" fill="#6f02ec"/><rect x="296" y="302" width="7" height="6" fill="#7202f3"/><rect x="303" y="302" width="18" height="6" fill="#7502f8"/><rect x="321" y="302" width="44" height="6" fill="#7f04ff"/><rect x="365" y="302" width="6" height="6" fill="#8004ff"/><rect x="371" y="302" width="19" height="6" fill="#8104ff"/><rect x="390" y="302" width="6" height="6" fill="#8205fe"/><rect x="396" y="302" width="32" height="6" fill="#8305fe"/><rect x="428" y="302" width="6" height="6" fill="#8505fd"/><rect x="434" y="302" width="56" height="6" fill="#8605fb"/><rect x="490" y="302" width="6" height="6" fill="#8505fc"/><rect x="496" y="302" width="13" height="6" fill="#8405fd"/><rect x="509" y="302" width="6" height="6" fill="#8505fd"/><rect x="515" y="302" width="6" height="6" fill="#8605fb"/><rect x="521" y="302" width="3" height="6" fill="#8806f9"/><rect x="75" y="308" width="15" height="5" fill="#8806f9"/><rect x="90" y="308" width="38" height="5" fill="#8b07f5"/><rect x="128" y="308" width="25" height="5" fill="#8806f9"/><rect x="153" y="308" width="56" height="5" fill="#8204ff"/><rect x="209" y="308" width="6" height="5" fill="#7502f8"/><rect x="215" y="308" width="13" height="5" fill="#6701db"/><rect x="228" y="308" width="37" height="5" fill="#53009c"/><rect x="265" y="308" width="6" height="5" fill="#6001c5"/><rect x="271" y="308" width="7" height="5" fill="#5700ab"/><rect x="278" y="308" width="6" height="5" fill="#6001c5"/><rect x="284" y="308" width="6" height="5" fill="#6b01e4"/><rect x="290" y="308" width="6" height="5" fill="#6f02ec"/><rect x="296" y="308" width="25" height="5" fill="#7502f8"/><rect x="321" y="308" width="44" height="5" fill="#7f04ff"/><rect x="365" y="308" width="25" height="5" fill="#8004ff"/><rect x="390" y="308" width="6" height="5" fill="#8104ff"/><rect x="396" y="308" width="32" height="5" fill="#8204ff"/><rect x="428" y="308" width="6" height="5" fill="#8305fe"/><rect x="434" y="308" width="56" height="5" fill="#8505fd"/><rect x="490" y="308" width="6" height="5" fill="#8405fd"/><rect x="496" y="308" width="7" height="5" fill="#8305fe"/><rect x="503" y="308" width="6" height="5" fill="#8405fd"/><rect x="509" y="308" width="6" height="5" fill="#8505fd"/><rect x="515" y="308" width="6" height="5" fill="#8605fb"/><rect x="521" y="308" width="3" height="5" fill="#8806f9"/><rect x="75" y="313" width="21" height="5" fill="#8806f9"/><rect x="96" y="313" width="25" height="5" fill="#8d07ef"/><rect x="121" y="313" width="25" height="5" fill="#8806f9"/><rect x="146" y="313" width="19" height="5" fill="#8505fd"/><rect x="165" y="313" width="25" height="5" fill="#7f04ff"/><rect x="190" y="313" width="19" height="5" fill="#8204ff"/><rect x="209" y="313" width="6" height="5" fill="#7502f8"/><rect x="215" y="313" width="13" height="5" fill="#6401d1"/><rect x="228" y="313" width="31" height="5" fill="#53009c"/><rect x="259" y="313" width="6" height="5" fill="#5b01b8"/><rect x="265" y="313" width="6" height="5" fill="#6401d1"/><rect x="271" y="313" width="7" height="5" fill="#5700ab"/><rect x="278" y="313" width="6" height="5" fill="#6001c5"/><rect x="284" y="313" width="6" height="5" fill="#6b01e4"/><rect x="290" y="313" width="31" height="5" fill="#7202f3"/><rect x="321" y="313" width="50" height="5" fill="#7f04ff"/><rect x="371" y="313" width="57" height="5" fill="#8004ff"/><rect x="428" y="313" width="6" height="5" fill="#8204ff"/><rect x="434" y="313" width="69" height="5" fill="#8305fe"/><rect x="503" y="313" width="6" height="5" fill="#8405fe"/><rect x="509" y="313" width="6" height="5" fill="#8505fd"/><rect x="515" y="313" width="6" height="5" fill="#8605fb"/><rect x="521" y="313" width="3" height="5" fill="#8806f9"/><rect x="75" y="318" width="40" height="5" fill="#8806f9"/><rect x="115" y="318" width="25" height="5" fill="#9309df"/><rect x="140" y="318" width="13" height="5" fill="#8806f9"/><rect x="153" y="318" width="37" height="5" fill="#8204ff"/><rect x="190" y="318" width="19" height="5" fill="#8505fd"/><rect x="209" y="318" width="6" height="5" fill="#7903fc"/><rect x="215" y="318" width="13" height="5" fill="#6701db"/><rect x="228" y="318" width="31" height="5" fill="#5700ab"/><rect x="259" y="318" width="6" height="5" fill="#6001c5"/><rect x="265" y="318" width="6" height="5" fill="#6b01e4"/><rect x="271" y="318" width="7" height="5" fill="#5b01b8"/><rect x="278" y="318" width="6" height="5" fill="#6701db"/><rect x="284" y="318" width="6" height="5" fill="#6b01e4"/><rect x="290" y="318" width="31" height="5" fill="#7202f3"/><rect x="321" y="318" width="107" height="5" fill="#7f04ff"/><rect x="428" y="318" width="6" height="5" fill="#8004ff"/><rect x="434" y="318" width="69" height="5" fill="#8204ff"/><rect x="503" y="318" width="6" height="5" fill="#8305fe"/><rect x="509" y="318" width="6" height="5" fill="#8505fd"/><rect x="515" y="318" width="6" height="5" fill="#8605fb"/><rect x="521" y="318" width="3" height="5" fill="#8806f9"/><rect x="75" y="323" width="28" height="5" fill="#8b07f5"/><rect x="103" y="323" width="25" height="5" fill="#9008e7"/><rect x="128" y="323" width="18" height="5" fill="#8b07f5"/><rect x="146" y="323" width="19" height="5" fill="#8d07ef"/><rect x="165" y="323" width="31" height="5" fill="#8505fd"/><rect x="196" y="323" width="13" height="5" fill="#8204ff"/><rect x="209" y="323" width="6" height="5" fill="#7903fc"/><rect x="215" y="323" width="13" height="5" fill="#6b01e4"/><rect x="228" y="323" width="25" height="5" fill="#5b01b8"/><rect x="253" y="323" width="6" height="5" fill="#6001c5"/><rect x="259" y="323" width="12" height="5" fill="#6701db"/><rect x="271" y="323" width="7" height="5" fill="#6001c5"/><rect x="278" y="323" width="6" height="5" fill="#6b01e4"/><rect x="284" y="323" width="6" height="5" fill="#6f02ec"/><rect x="290" y="323" width="31" height="5" fill="#7202f3"/><rect x="321" y="323" width="69" height="5" fill="#7f04ff"/><rect x="390" y="323" width="6" height="5" fill="#7e04ff"/><rect x="396" y="323" width="32" height="5" fill="#7d04ff"/><rect x="428" y="323" width="6" height="5" fill="#7e04ff"/><rect x="434" y="323" width="56" height="5" fill="#7f04ff"/><rect x="490" y="323" width="13" height="5" fill="#8004ff"/><rect x="503" y="323" width="6" height="5" fill="#8204ff"/><rect x="509" y="323" width="6" height="5" fill="#8305fe"/><rect x="515" y="323" width="6" height="5" fill="#8605fc"/><rect x="521" y="323" width="3" height="5" fill="#8806f9"/><rect x="75" y="328" width="15" height="5" fill="#8806f9"/><rect x="90" y="328" width="38" height="5" fill="#9008e7"/><rect x="128" y="328" width="18" height="5" fill="#8d07ef"/><rect x="146" y="328" width="32" height="5" fill="#9309df"/><rect x="178" y="328" width="12" height="5" fill="#8b07f5"/><rect x="190" y="328" width="19" height="5" fill="#8204ff"/><rect x="209" y="328" width="6" height="5" fill="#7903fc"/><rect x="215" y="328" width="6" height="5" fill="#6f02ec"/><rect x="221" y="328" width="13" height="5" fill="#6701db"/><rect x="234" y="328" width="25" height="5" fill="#6001c5"/><rect x="259" y="328" width="6" height="5" fill="#6401d1"/><rect x="265" y="328" width="13" height="5" fill="#6701db"/><rect x="278" y="328" width="6" height="5" fill="#6b01e4"/><rect x="284" y="328" width="37" height="5" fill="#7202f3"/><rect x="321" y="328" width="69" height="5" fill="#7f04ff"/><rect x="390" y="328" width="6" height="5" fill="#7d04ff"/><rect x="396" y="328" width="94" height="5" fill="#7c03fe"/><rect x="490" y="328" width="6" height="5" fill="#7d04ff"/><rect x="496" y="328" width="7" height="5" fill="#7f04ff"/><rect x="503" y="328" width="6" height="5" fill="#8004ff"/><rect x="509" y="328" width="6" height="5" fill="#8204ff"/><rect x="515" y="328" width="6" height="5" fill="#8505fd"/><rect x="521" y="328" width="3" height="5" fill="#8806f9"/><rect x="75" y="333" width="15" height="6" fill="#8806f9"/><rect x="90" y="333" width="38" height="6" fill="#950ad5"/><rect x="128" y="333" width="6" height="6" fill="#9008e7"/><rect x="134" y="333" width="6" height="6" fill="#8d07ef"/><rect x="140" y="333" width="38" height="6" fill="#980bca"/><rect x="178" y="333" width="18" height="6" fill="#8d07ef"/><rect x="196" y="333" width="13" height="6" fill="#8204ff"/><rect x="209" y="333" width="6" height="6" fill="#7c03fe"/><rect x="215" y="333" width="19" height="6" fill="#6f02ec"/><rect x="234" y="333" width="12" height="6" fill="#6401d1"/><rect x="246" y="333" width="19" height="6" fill="#6001c5"/><rect x="265" y="333" width="13" height="6" fill="#6701db"/><rect x="278" y="333" width="31" height="6" fill="#7502f8"/><rect x="309" y="333" width="6" height="6" fill="#7d03fe"/><rect x="315" y="333" width="6" height="6" fill="#7e04ff"/><rect x="321" y="333" width="69" height="6" fill="#7f04ff"/><rect x="390" y="333" width="6" height="6" fill="#7e04ff"/><rect x="396" y="333" width="44" height="6" fill="#7d03fe"/><rect x="440" y="333" width="13" height="6" fill="#7d04ff"/><rect x="453" y="333" width="12" height="6" fill="#7e04ff"/><rect x="465" y="333" width="6" height="6" fill="#7f04ff"/><rect x="471" y="333" width="19" height="6" fill="#8004ff"/><rect x="490" y="333" width="6" height="6" fill="#8204ff"/><rect x="496" y="333" width="7" height="6" fill="#8305fe"/><rect x="503" y="333" width="6" height="6" fill="#8405fe"/><rect x="509" y="333" width="6" height="6" fill="#8505fd"/><rect x="515" y="333" width="6" height="6" fill="#8706fb"/><rect x="521" y="333" width="3" height="6" fill="#8806f8"/><rect x="75" y="339" width="15" height="5" fill="#8806f9"/><rect x="90" y="339" width="31" height="5" fill="#980bca"/><rect x="121" y="339" width="7" height="5" fill="#9008e7"/><rect x="128" y="339" width="12" height="5" fill="#8d07ef"/><rect x="140" y="339" width="31" height="5" fill="#9d0eb0"/><rect x="171" y="339" width="13" height="5" fill="#950ad5"/><rect x="184" y="339" width="12" height="5" fill="#8b07f5"/><rect x="196" y="339" width="13" height="5" fill="#7f04ff"/><rect x="209" y="339" width="6" height="5" fill="#7c03fe"/><rect x="215" y="339" width="6" height="5" fill="#7202f3"/><rect x="221" y="339" width="7" height="5" fill="#6b01e4"/><rect x="228" y="339" width="31" height="5" fill="#6001c5"/><rect x="259" y="339" width="19" height="5" fill="#6701db"/><rect x="278" y="339" width="31" height="5" fill="#7502f8"/><rect x="309" y="339" width="6" height="5" fill="#7d04ff"/><rect x="315" y="339" width="6" height="5" fill="#7e04ff"/><rect x="321" y="339" width="69" height="5" fill="#7f04ff"/><rect x="390" y="339" width="6" height="5" fill="#7e04ff"/><rect x="396" y="339" width="44" height="5" fill="#7d04ff"/><rect x="440" y="339" width="6" height="5" fill="#7e04ff"/><rect x="446" y="339" width="7" height="5" fill="#7f04ff"/><rect x="453" y="339" width="12" height="5" fill="#8004ff"/><rect x="465" y="339" width="6" height="5" fill="#8204ff"/><rect x="471" y="339" width="7" height="5" fill="#8305fe"/><rect x="478" y="339" width="6" height="5" fill="#8405fd"/><rect x="484" y="339" width="6" height="5" fill="#8505fd"/><rect x="490" y="339" width="6" height="5" fill="#8605fc"/><rect x="496" y="339" width="7" height="5" fill="#8605fb"/><rect x="503" y="339" width="6" height="5" fill="#8706fa"/><rect x="509" y="339" width="6" height="5" fill="#8806f9"/><rect x="515" y="339" width="6" height="5" fill="#8806f8"/><rect x="521" y="339" width="3" height="5" fill="#8906f7"/><rect x="75" y="344" width="15" height="5" fill="#8505fd"/><rect x="90" y="344" width="6" height="5" fill="#9309df"/><rect x="96" y="344" width="19" height="5" fill="#9d0eb0"/><rect x="115" y="344" width="13" height="5" fill="#950ad5"/><rect x="128" y="344" width="12" height="5" fill="#9008e7"/><rect x="140" y="344" width="6" height="5" fill="#9d0eb0"/><rect x="146" y="344" width="25" height="5" fill="#9f0fa2"/><rect x="171" y="344" width="13" height="5" fill="#980bca"/><rect x="184" y="344" width="12" height="5" fill="#8d07ef"/><rect x="196" y="344" width="13" height="5" fill="#8204ff"/><rect x="209" y="344" width="6" height="5" fill="#7c03fe"/><rect x="215" y="344" width="13" height="5" fill="#7202f3"/><rect x="228" y="344" width="18" height="5" fill="#6701db"/><rect x="246" y="344" width="19" height="5" fill="#6b01e4"/><rect x="265" y="344" width="19" height="5" fill="#7202f3"/><rect x="284" y="344" width="25" height="5" fill="#7903fc"/><rect x="309" y="344" width="6" height="5" fill="#7e04ff"/><rect x="315" y="344" width="81" height="5" fill="#7f04ff"/><rect x="396" y="344" width="44" height="5" fill="#7e04ff"/><rect x="440" y="344" width="6" height="5" fill="#7f04ff"/><rect x="446" y="344" width="7" height="5" fill="#8004ff"/><rect x="453" y="344" width="6" height="5" fill="#8204ff"/><rect x="459" y="344" width="6" height="5" fill="#8305fe"/><rect x="465" y="344" width="6" height="5" fill="#8505fd"/><rect x="471" y="344" width="7" height="5" fill="#8706fa"/><rect x="478" y="344" width="6" height="5" fill="#8806f9"/><rect x="484" y="344" width="6" height="5" fill="#8906f7"/><rect x="490" y="344" width="6" height="5" fill="#8a06f7"/><rect x="496" y="344" width="7" height="5" fill="#8a06f6"/><rect x="503" y="344" width="6" height="5" fill="#8a06f5"/><rect x="509" y="344" width="6" height="5" fill="#8b07f5"/><rect x="515" y="344" width="6" height="5" fill="#8a06f5"/><rect x="521" y="344" width="3" height="5" fill="#8a06f6"/><rect x="75" y="349" width="15" height="5" fill="#8505fd"/><rect x="90" y="349" width="25" height="5" fill="#9d0eb0"/><rect x="115" y="349" width="13" height="5" fill="#950ad5"/><rect x="128" y="349" width="12" height="5" fill="#8d07ef"/><rect x="140" y="349" width="6" height="5" fill="#9d0eb0"/><rect x="146" y="349" width="25" height="5" fill="#a21193"/><rect x="171" y="349" width="13" height="5" fill="#9a0dbe"/><rect x="184" y="349" width="12" height="5" fill="#8d07ef"/><rect x="196" y="349" width="19" height="5" fill="#7c03fe"/><rect x="215" y="349" width="13" height="5" fill="#7202f3"/><rect x="228" y="349" width="18" height="5" fill="#6701db"/><rect x="246" y="349" width="19" height="5" fill="#6f02ec"/><rect x="265" y="349" width="44" height="5" fill="#7502f8"/><rect x="309" y="349" width="131" height="5" fill="#7f04ff"/><rect x="440" y="349" width="6" height="5" fill="#8004ff"/><rect x="446" y="349" width="7" height="5" fill="#8204ff"/><rect x="453" y="349" width="6" height="5" fill="#8305fe"/><rect x="459" y="349" width="6" height="5" fill="#8505fd"/><rect x="465" y="349" width="6" height="5" fill="#8806f9"/><rect x="471" y="349" width="7" height="5" fill="#8b07f5"/><rect x="478" y="349" width="6" height="5" fill="#8c07f2"/><rect x="484" y="349" width="31" height="5" fill="#8d07ef"/><rect x="515" y="349" width="6" height="5" fill="#8c07f2"/><rect x="521" y="349" width="3" height="5" fill="#8b07f5"/><rect x="75" y="354" width="15" height="5" fill="#8204ff"/><rect x="90" y="354" width="31" height="5" fill="#9309df"/><rect x="121" y="354" width="19" height="5" fill="#8d07ef"/><rect x="140" y="354" width="6" height="5" fill="#980bca"/><rect x="146" y="354" width="25" height="5" fill="#a21193"/><rect x="171" y="354" width="7" height="5" fill="#9a0dbe"/><rect x="178" y="354" width="12" height="5" fill="#9008e7"/><rect x="190" y="354" width="19" height="5" fill="#8204ff"/><rect x="209" y="354" width="6" height="5" fill="#7c03fe"/><rect x="215" y="354" width="19" height="5" fill="#7202f3"/><rect x="234" y="354" width="19" height="5" fill="#6f02ec"/><rect x="253" y="354" width="18" height="5" fill="#7202f3"/><rect x="271" y="354" width="38" height="5" fill="#7502f8"/><rect x="309" y="354" width="25" height="5" fill="#8004ff"/><rect x="334" y="354" width="106" height="5" fill="#7f04ff"/><rect x="440" y="354" width="13" height="5" fill="#8004ff"/><rect x="453" y="354" width="6" height="5" fill="#8104ff"/><rect x="459" y="354" width="6" height="5" fill="#8204ff"/><rect x="465" y="354" width="6" height="5" fill="#8405fd"/><rect x="471" y="354" width="7" height="5" fill="#8605fb"/><rect x="478" y="354" width="6" height="5" fill="#8806f9"/><rect x="484" y="354" width="31" height="5" fill="#8906f7"/><rect x="515" y="354" width="6" height="5" fill="#8806f8"/><rect x="521" y="354" width="3" height="5" fill="#8806f9"/><rect x="75" y="359" width="9" height="5" fill="#7c03fe"/><rect x="84" y="359" width="56" height="5" fill="#8806f9"/><rect x="140" y="359" width="6" height="5" fill="#8d07ef"/><rect x="146" y="359" width="19" height="5" fill="#9d0eb0"/><rect x="165" y="359" width="19" height="5" fill="#9309df"/><rect x="184" y="359" width="6" height="5" fill="#8b07f5"/><rect x="190" y="359" width="25" height="5" fill="#7f04ff"/><rect x="215" y="359" width="25" height="5" fill="#7502f8"/><rect x="240" y="359" width="19" height="5" fill="#7202f3"/><rect x="259" y="359" width="50" height="5" fill="#7502f8"/><rect x="309" y="359" width="19" height="5" fill="#8204ff"/><rect x="328" y="359" width="6" height="5" fill="#8004ff"/><rect x="334" y="359" width="131" height="5" fill="#7f04ff"/><rect x="465" y="359" width="6" height="5" fill="#8004ff"/><rect x="471" y="359" width="7" height="5" fill="#8204ff"/><rect x="478" y="359" width="6" height="5" fill="#8305fe"/><rect x="484" y="359" width="40" height="5" fill="#8505fd"/><rect x="75" y="364" width="21" height="6" fill="#7903fc"/><rect x="96" y="364" width="44" height="6" fill="#8204ff"/><rect x="140" y="364" width="6" height="6" fill="#8806f9"/><rect x="146" y="364" width="19" height="6" fill="#980bca"/><rect x="165" y="364" width="19" height="6" fill="#8d07ef"/><rect x="184" y="364" width="31" height="6" fill="#7f04ff"/><rect x="215" y="364" width="19" height="6" fill="#7502f8"/><rect x="234" y="364" width="6" height="6" fill="#6f02ec"/><rect x="240" y="364" width="69" height="6" fill="#7502f8"/><rect x="309" y="364" width="6" height="6" fill="#8305fe"/><rect x="315" y="364" width="6" height="6" fill="#8204ff"/><rect x="321" y="364" width="7" height="6" fill="#8004ff"/><rect x="328" y="364" width="6" height="6" fill="#7f04ff"/><rect x="334" y="364" width="131" height="6" fill="#7d04ff"/><rect x="465" y="364" width="6" height="6" fill="#7e04ff"/><rect x="471" y="364" width="7" height="6" fill="#7f04ff"/><rect x="478" y="364" width="37" height="6" fill="#8004ff"/><rect x="515" y="364" width="6" height="6" fill="#8104ff"/><rect x="521" y="364" width="3" height="6" fill="#8204ff"/><rect x="75" y="370" width="21" height="5" fill="#7502f8"/><rect x="96" y="370" width="19" height="5" fill="#7f04ff"/><rect x="115" y="370" width="25" height="5" fill="#7c03fe"/><rect x="140" y="370" width="6" height="5" fill="#7f04ff"/><rect x="146" y="370" width="32" height="5" fill="#8806f9"/><rect x="178" y="370" width="37" height="5" fill="#7c03fe"/><rect x="215" y="370" width="50" height="5" fill="#7502f8"/><rect x="265" y="370" width="44" height="5" fill="#7903fc"/><rect x="309" y="370" width="6" height="5" fill="#8505fd"/><rect x="315" y="370" width="6" height="5" fill="#8204ff"/><rect x="321" y="370" width="7" height="5" fill="#7f04ff"/><rect x="328" y="370" width="6" height="5" fill="#7d04ff"/><rect x="334" y="370" width="181" height="5" fill="#7c03fe"/><rect x="515" y="370" width="6" height="5" fill="#7d04ff"/><rect x="521" y="370" width="3" height="5" fill="#7f04ff"/><rect x="75" y="375" width="65" height="5" fill="#7502f8"/><rect x="140" y="375" width="38" height="5" fill="#7c03fe"/><rect x="178" y="375" width="81" height="5" fill="#7502f8"/><rect x="259" y="375" width="19" height="5" fill="#7903fc"/><rect x="278" y="375" width="18" height="5" fill="#7c03fe"/><rect x="296" y="375" width="13" height="5" fill="#8204ff"/><rect x="309" y="375" width="6" height="5" fill="#8004ff"/><rect x="315" y="375" width="6" height="5" fill="#7e04ff"/><rect x="321" y="375" width="7" height="5" fill="#7c03fe"/><rect x="328" y="375" width="6" height="5" fill="#7b03fe"/><rect x="334" y="375" width="19" height="5" fill="#7a03fd"/><rect x="353" y="375" width="37" height="5" fill="#7903fc"/><rect x="390" y="375" width="6" height="5" fill="#7803fb"/><rect x="396" y="375" width="7" height="5" fill="#7703fa"/><rect x="403" y="375" width="6" height="5" fill="#7603f9"/><rect x="409" y="375" width="19" height="5" fill="#7502f8"/><rect x="428" y="375" width="6" height="5" fill="#7603f9"/><rect x="434" y="375" width="6" height="5" fill="#7703fa"/><rect x="440" y="375" width="6" height="5" fill="#7803fb"/><rect x="446" y="375" width="69" height="5" fill="#7903fc"/><rect x="515" y="375" width="6" height="5" fill="#7a03fd"/><rect x="521" y="375" width="3" height="5" fill="#7c03fe"/><rect x="75" y="380" width="234" height="5" fill="#7502f8"/><rect x="309" y="380" width="6" height="5" fill="#7c03fe"/><rect x="315" y="380" width="6" height="5" fill="#7a03fd"/><rect x="321" y="380" width="32" height="5" fill="#7903fc"/><rect x="353" y="380" width="6" height="5" fill="#7703fa"/><rect x="359" y="380" width="31" height="5" fill="#7502f8"/><rect x="390" y="380" width="6" height="5" fill="#7402f5"/><rect x="396" y="380" width="7" height="5" fill="#7202f3"/><rect x="403" y="380" width="6" height="5" fill="#7002ef"/><rect x="409" y="380" width="19" height="5" fill="#6f02ec"/><rect x="428" y="380" width="6" height="5" fill="#7002ef"/><rect x="434" y="380" width="6" height="5" fill="#7202f3"/><rect x="440" y="380" width="6" height="5" fill="#7402f5"/><rect x="446" y="380" width="69" height="5" fill="#7502f8"/><rect x="515" y="380" width="6" height="5" fill="#7703fa"/><rect x="521" y="380" width="3" height="5" fill="#7903fc"/><rect x="75" y="385" width="103" height="5" fill="#7903fc"/><rect x="178" y="385" width="6" height="5" fill="#7703fa"/><rect x="184" y="385" width="6" height="5" fill="#7603f9"/><rect x="190" y="385" width="6" height="5" fill="#7402f5"/><rect x="196" y="385" width="7" height="5" fill="#7102f1"/><rect x="203" y="385" width="6" height="5" fill="#7002ef"/><rect x="209" y="385" width="56" height="5" fill="#6f02ec"/><rect x="265" y="385" width="6" height="5" fill="#6f02ed"/><rect x="271" y="385" width="7" height="5" fill="#6f02ee"/><rect x="278" y="385" width="6" height="5" fill="#7102f0"/><rect x="284" y="385" width="6" height="5" fill="#7202f3"/><rect x="290" y="385" width="6" height="5" fill="#7602f8"/><rect x="296" y="385" width="19" height="5" fill="#7903fc"/><rect x="315" y="385" width="6" height="5" fill="#7803fb"/><rect x="321" y="385" width="32" height="5" fill="#7703fa"/><rect x="353" y="385" width="6" height="5" fill="#7602f8"/><rect x="359" y="385" width="31" height="5" fill="#7502f7"/><rect x="390" y="385" width="6" height="5" fill="#7302f5"/><rect x="396" y="385" width="7" height="5" fill="#7202f3"/><rect x="403" y="385" width="6" height="5" fill="#7102f0"/><rect x="409" y="385" width="19" height="5" fill="#6f02ee"/><rect x="428" y="385" width="6" height="5" fill="#7102f1"/><rect x="434" y="385" width="6" height="5" fill="#7302f4"/><rect x="440" y="385" width="6" height="5" fill="#7402f6"/><rect x="446" y="385" width="69" height="5" fill="#7502f8"/><rect x="515" y="385" width="6" height="5" fill="#7603f9"/><rect x="521" y="385" width="3" height="5" fill="#7703fa"/><rect x="75" y="390" width="103" height="6" fill="#7502f8"/><rect x="178" y="390" width="6" height="6" fill="#7502f7"/><rect x="184" y="390" width="6" height="6" fill="#7402f5"/><rect x="190" y="390" width="6" height="6" fill="#7202f3"/><rect x="196" y="390" width="7" height="6" fill="#7002ef"/><rect x="203" y="390" width="6" height="6" fill="#6f02ee"/><rect x="209" y="390" width="56" height="6" fill="#6f02ec"/><rect x="265" y="390" width="6" height="6" fill="#6f02ee"/><rect x="271" y="390" width="7" height="6" fill="#7002ef"/><rect x="278" y="390" width="6" height="6" fill="#7102f1"/><rect x="284" y="390" width="6" height="6" fill="#7202f3"/><rect x="290" y="390" width="6" height="6" fill="#7502f7"/><rect x="296" y="390" width="19" height="6" fill="#7703fa"/><rect x="315" y="390" width="6" height="6" fill="#7603f9"/><rect x="321" y="390" width="32" height="6" fill="#7502f8"/><rect x="353" y="390" width="6" height="6" fill="#7502f7"/><rect x="359" y="390" width="31" height="6" fill="#7402f5"/><rect x="390" y="390" width="6" height="6" fill="#7302f4"/><rect x="396" y="390" width="7" height="6" fill="#7202f3"/><rect x="403" y="390" width="6" height="6" fill="#7102f1"/><rect x="409" y="390" width="19" height="6" fill="#7002ef"/><rect x="428" y="390" width="6" height="6" fill="#7202f3"/><rect x="434" y="390" width="6" height="6" fill="#7402f5"/><rect x="440" y="390" width="6" height="6" fill="#7502f7"/><rect x="446" y="390" width="78" height="6" fill="#7502f8"/><rect x="75" y="396" width="103" height="5" fill="#7202f3"/><rect x="178" y="396" width="6" height="5" fill="#7202f2"/><rect x="184" y="396" width="6" height="5" fill="#7102f1"/><rect x="190" y="396" width="6" height="5" fill="#7002ef"/><rect x="196" y="396" width="7" height="5" fill="#6f02ee"/><rect x="203" y="396" width="6" height="5" fill="#6f02ed"/><rect x="209" y="396" width="56" height="5" fill="#6f02ec"/><rect x="265" y="396" width="6" height="5" fill="#7002ef"/><rect x="271" y="396" width="7" height="5" fill="#7102f1"/><rect x="278" y="396" width="6" height="5" fill="#7202f2"/><rect x="284" y="396" width="6" height="5" fill="#7202f3"/><rect x="290" y="396" width="6" height="5" fill="#7302f5"/><rect x="296" y="396" width="19" height="5" fill="#7502f7"/><rect x="315" y="396" width="6" height="5" fill="#7402f6"/><rect x="321" y="396" width="32" height="5" fill="#7402f5"/><rect x="353" y="396" width="6" height="5" fill="#7302f5"/><rect x="359" y="396" width="31" height="5" fill="#7302f4"/><rect x="390" y="396" width="13" height="5" fill="#7202f3"/><rect x="403" y="396" width="6" height="5" fill="#7202f2"/><rect x="409" y="396" width="19" height="5" fill="#7102f1"/><rect x="428" y="396" width="6" height="5" fill="#7302f4"/><rect x="434" y="396" width="12" height="5" fill="#7502f7"/><rect x="446" y="396" width="69" height="5" fill="#7502f8"/><rect x="515" y="396" width="6" height="5" fill="#7502f7"/><rect x="521" y="396" width="3" height="5" fill="#7402f5"/><rect x="75" y="401" width="190" height="5" fill="#6f02ec"/><rect x="265" y="401" width="6" height="5" fill="#7002ef"/><rect x="271" y="401" width="157" height="5" fill="#7202f3"/><rect x="428" y="401" width="6" height="5" fill="#7402f5"/><rect x="434" y="401" width="81" height="5" fill="#7502f8"/><rect x="515" y="401" width="6" height="5" fill="#7402f5"/><rect x="521" y="401" width="3" height="5" fill="#7202f3"/><rect x="75" y="406" width="190" height="5" fill="#6f02ec"/><rect x="265" y="406" width="6" height="5" fill="#7002ef"/><rect x="271" y="406" width="157" height="5" fill="#7202f3"/><rect x="428" y="406" width="6" height="5" fill="#7402f5"/><rect x="434" y="406" width="81" height="5" fill="#7502f8"/><rect x="515" y="406" width="6" height="5" fill="#7402f5"/><rect x="521" y="406" width="3" height="5" fill="#7202f3"/><rect x="75" y="411" width="190" height="5" fill="#6f02ec"/><rect x="265" y="411" width="6" height="5" fill="#7002ef"/><rect x="271" y="411" width="157" height="5" fill="#7202f3"/><rect x="428" y="411" width="6" height="5" fill="#7402f5"/><rect x="434" y="411" width="81" height="5" fill="#7502f8"/><rect x="515" y="411" width="6" height="5" fill="#7402f5"/><rect x="521" y="411" width="3" height="5" fill="#7202f3"/><rect x="75" y="416" width="190" height="3" fill="#6f02ec"/><rect x="265" y="416" width="6" height="3" fill="#7002ef"/><rect x="271" y="416" width="157" height="3" fill="#7202f3"/><rect x="428" y="416" width="6" height="3" fill="#7402f5"/><rect x="434" y="416" width="81" height="3" fill="#7502f8"/><rect x="515" y="416" width="6" height="3" fill="#7402f5"/><rect x="521" y="416" width="3" height="3" fill="#7202f3"/></g>
<g fill="none" stroke="#1e90ff" stroke-width="1" shape-rendering="crispEdges"><polyline points="103.5,91.0 109.5,92.0 114.5,93.1 123.2,94.3 129.5,95.8 133.2,94.7 139.5,93.3 144.5,94.7 152.0,96.2 158.2,97.4 164.5,97.8 172.0,98.3 178.2,96.8 180.8,93.7 184.5,94.7 188.2,96.8 192.0,98.9 193.2,94.7 197.0,97.8 197.0,100.9 192.0,102.0 189.5,106.1 185.8,109.2 182.0,114.4 182.0,116.9 183.9,120.6 189.5,122.7 193.2,124.1 197.0,128.9 199.5,132.4 200.8,126.8 203.2,122.7 203.2,117.5 202.0,113.4 202.6,109.6 208.2,110.2 212.0,112.3 212.6,116.5 215.8,117.5 218.2,114.4 219.5,116.5 222.0,119.6 223.2,122.7 227.0,125.8 229.5,129.9 230.0,132.6 225.0,138.8 223.8,143.8 217.5,146.9 213.8,143.8 203.8,160.1 201.2,170.0 198.2,172.9 197.9,176.4 199.5,182.6 199.1,185.8 198.0,186.4 197.0,183.3 196.1,180.6 195.8,178.5 193.9,176.4 191.4,175.6 188.9,175.6 187.6,176.0 188.0,178.5 186.4,178.3 184.5,177.3 182.0,177.3 179.5,179.5 177.8,182.0 177.6,185.8 177.2,192.0 178.0,196.1 180.1,199.8 182.0,200.9 184.5,200.0 186.4,198.2 186.6,195.1 189.5,194.0 190.8,194.2 190.1,197.1 189.5,200.2 189.1,205.4 192.0,205.6 194.5,206.2 195.4,208.5 194.9,214.7 195.4,217.8 197.6,219.9 200.1,218.8 202.6,220.7 204.5,219.9 205.1,216.8 208.2,215.1 209.5,214.1 210.1,215.7 210.1,217.8 212.0,214.7 214.5,216.8 218.2,217.6 222.0,216.4 223.2,218.8 224.5,221.3 228.2,226.1 232.0,226.5 234.5,229.2 235.8,230.2 237.0,234.8 237.0,238.5 239.5,240.6 243.2,241.6 247.0,244.3 250.8,245.7 253.2,248.8 255.5,249.9 255.8,255.0 253.2,261.3 250.8,267.5 250.8,274.7 249.5,279.9 248.2,284.0 245.8,286.1 243.2,287.5 239.5,291.2 238.9,296.4 237.0,301.6 234.5,305.3 232.6,308.8 230.8,310.9 228.2,309.9 226.4,309.5 228.2,314.0 227.6,317.1 222.0,319.2 221.4,323.3 218.2,323.3 219.5,326.4 217.6,331.6 215.1,333.7 217.0,336.8 214.5,343.0 213.2,346.1 213.9,347.5 217.0,352.3 212.0,352.3 208.2,348.1 205.8,341.9 205.1,333.7 207.0,327.4 207.6,321.2 207.6,315.0 209.5,308.8 210.1,300.6 210.8,294.4 211.4,286.1 212.0,276.8 210.1,273.7 205.8,269.5 203.2,263.3 201.4,258.2 199.5,253.0 198.0,249.9 198.2,246.8 199.5,243.7 198.9,240.6 199.5,237.5 200.8,235.4 201.4,233.3 202.6,230.2 202.9,225.1 202.0,223.0 200.8,220.3 199.5,223.0 198.2,222.0 196.4,221.3 194.5,218.8 192.4,217.8 192.4,215.3 190.8,212.0 189.5,211.2 187.6,210.6 185.1,209.5 183.2,206.4 181.4,205.0 178.9,206.0 176.4,204.8 173.2,202.9 170.1,200.6 167.6,197.5 168.0,194.0 167.0,191.3 164.5,186.8 162.6,184.7 160.8,181.0 158.9,177.5 156.4,173.3 158.0,178.5 159.2,181.6 160.1,185.8 161.6,188.4 162.6,190.5 162.0,191.1 159.5,187.4 159.2,184.3 157.0,181.6 156.8,179.1 154.9,176.4 153.9,173.3 153.0,170.9 151.4,168.2 148.8,166.9 148.2,164.0 146.4,160.9 145.8,159.9 144.8,156.2 144.0,154.9 144.2,151.6 144.5,147.5 144.5,142.9 143.6,138.6 145.8,138.6 144.5,136.1 140.8,133.0 139.5,129.9 137.0,126.8 135.8,123.7 132.6,119.6 129.5,117.5 127.0,116.5 124.5,115.0 119.5,114.4 117.0,112.3 114.5,114.0 112.0,115.4 110.1,116.0 110.8,112.7 112.0,111.9 108.2,116.5 107.0,118.5 103.9,120.6 101.4,122.7 98.2,124.1 93.8,125.8 97.0,123.1 100.8,119.6 102.6,117.1 100.8,117.5 97.0,114.8 93.9,112.7 92.8,109.6 93.9,108.2 98.2,106.1 98.2,105.1 95.8,104.9 92.0,104.9 89.5,102.8 93.9,100.7 97.0,101.6 96.4,99.9 94.5,98.7 91.0,97.2 95.1,94.7 97.1,93.1 100.8,92.0 103.5,91.0"/><polyline points="222.0,100.9 219.5,104.0 217.0,109.6 214.5,109.2 210.8,107.1 207.0,105.1 202.6,105.5 207.0,103.0 208.2,99.3 204.5,96.8 202.0,94.7 197.0,94.1 192.0,93.3 188.2,91.6 187.0,88.5 192.0,86.5 199.5,86.3 204.5,88.5 209.5,91.6 214.5,93.7 215.8,95.8 219.5,99.9 222.0,100.9"/><polyline points="152.0,87.5 154.5,95.1 162.0,96.2 169.5,96.8 172.6,94.5 168.2,92.7 169.5,90.6 164.5,87.5 157.0,87.9 152.0,87.5"/><polyline points="143.2,90.0 148.2,90.6 153.2,88.5 149.5,84.4 143.9,85.4 143.2,90.0"/><polyline points="187.5,71.2 203.8,68.0 220.0,68.7 222.5,71.2 212.5,77.6 200.0,81.3 191.2,80.0 192.5,76.3 187.5,71.2"/><polyline points="184.5,81.3 199.5,84.4 199.5,80.3 184.5,81.3"/><polyline points="153.2,80.3 162.0,83.4 167.0,82.3 162.0,79.2 153.2,80.3"/><polyline points="170.8,81.3 179.5,83.4 177.0,79.2 170.8,81.3"/><polyline points="174.5,86.5 179.5,89.6 177.0,92.7 172.0,88.5 174.5,86.5"/><polyline points="192.0,106.1 198.2,105.1 194.5,102.0 192.0,106.1"/><polyline points="226.2,133.8 232.5,143.1 227.5,141.3 226.2,133.8"/><polyline points="208.2,76.7 214.5,79.2 217.0,81.3 224.5,81.7 228.2,84.4 230.8,90.6 232.0,93.1 234.5,96.8 232.6,101.4 235.8,106.1 237.6,111.3 241.4,112.7 244.5,114.8 246.4,112.3 248.2,107.8 251.4,103.0 257.0,100.7 260.1,97.4 267.6,94.9 271.4,92.7 272.0,88.5 274.5,84.4 275.8,79.8 274.5,76.1 278.2,72.6 283.9,69.9 274.5,68.9 262.0,65.8 249.5,66.4 237.0,67.8 227.0,68.9 222.0,69.9 217.0,72.0 212.0,74.0 208.2,76.7"/><polyline points="269.5,103.0 272.0,101.1 277.0,101.6 280.8,101.4 282.6,104.0 280.8,105.5 276.4,107.4 271.4,106.5 269.5,103.0"/><polyline points="193.2,193.4 197.0,191.3 199.5,190.7 202.6,193.4 205.8,195.9 206.8,196.7 203.2,197.3 202.6,195.7 198.9,193.4 196.4,193.8 193.2,193.4"/><polyline points="206.4,200.2 208.9,197.3 212.6,198.0 214.0,200.2 210.8,201.3 206.4,200.2"/><polyline points="342.0,174.0 343.2,171.3 344.2,165.1 344.5,162.4 342.0,163.4 339.5,163.6 337.0,163.4 333.9,162.4 332.4,159.3 332.9,156.8 332.2,155.1 329.5,154.7 328.0,154.7 328.9,159.9 327.0,163.0 326.4,160.9 325.8,156.8 323.9,152.7 322.6,150.6 319.5,148.5 317.6,144.8 316.6,144.0 315.0,144.6 315.1,147.5 317.0,150.4 319.5,152.7 322.6,155.3 320.8,157.8 320.1,159.9 319.1,159.5 319.0,155.8 317.2,154.1 314.5,152.0 312.6,149.6 310.5,146.7 308.9,147.9 305.5,148.7 303.2,149.6 303.5,151.8 300.6,153.7 299.5,156.8 298.6,160.7 296.6,162.4 293.9,162.6 292.5,164.0 288.2,162.0 287.6,158.4 288.5,151.6 287.9,149.3 289.5,148.1 297.0,148.9 297.9,146.4 298.0,143.3 296.4,140.7 293.9,139.2 297.0,137.8 297.8,135.7 300.1,135.5 301.5,133.2 303.9,132.2 305.1,129.9 305.8,128.2 308.2,127.6 310.1,127.0 310.2,123.7 309.6,121.0 312.6,119.1 312.6,122.7 315.1,122.7 314.5,126.4 317.0,126.8 322.0,125.1 325.8,124.7 325.9,121.0 328.9,120.6 330.1,117.9 328.9,116.0 334.5,115.4 337.0,114.4 330.8,114.0 326.4,112.7 327.0,108.2 331.4,104.0 328.9,102.4 326.4,103.0 323.2,107.1 321.4,109.2 321.0,112.3 323.2,114.4 320.1,120.6 317.4,123.5 315.5,121.6 313.9,117.5 312.4,115.4 309.5,118.5 307.0,117.9 305.8,114.4 306.0,110.2 309.5,107.1 312.6,105.1 315.1,102.0 317.0,98.9 319.5,96.8 323.2,93.7 329.5,91.6 334.5,91.6 338.2,93.3 340.8,95.1 349.5,98.3 351.4,100.9 347.0,102.0 342.6,102.4 345.1,105.1 349.5,104.9 353.9,101.6 355.1,96.8 357.0,97.2 365.8,96.8 373.2,96.8 375.8,94.1 382.0,94.7 385.8,96.8 383.2,90.6 385.1,87.5 390.8,88.5 390.1,91.6 392.0,96.8 395.8,88.9 399.5,88.5 402.0,86.3 408.2,85.4 415.8,81.3 424.5,80.3 430.1,77.8 433.2,79.2 440.8,81.7 439.5,85.4 447.0,86.3 454.0,86.9 461.5,92.5 472.8,89.4 482.8,89.4 489.0,92.5 504.0,94.9 511.5,94.3 524.0,97.0 524.5,97.0"/><polyline points="74.5,96.2 80.8,98.3 84.5,99.9 87.4,101.8 85.8,103.0 83.2,105.3 79.5,104.5 76.4,103.0 74.5,103.8"/><polyline points="524.5,103.6 520.2,110.0 504.0,115.0 502.1,122.5 494.0,133.2 493.4,118.7 503.4,111.3 498.4,113.1 494.0,111.3 491.5,115.6 474.0,118.7 470.2,127.4 473.4,129.3 469.0,145.0 464.4,149.3 461.5,152.7 457.2,165.7 455.8,157.2 450.6,155.6 445.5,159.3 449.9,162.2 449.9,179.5 450.6,186.2 439.0,193.4 434.6,194.0 433.8,200.0 433.8,210.4 432.2,216.8 428.5,216.8 423.2,210.4 422.8,215.5 424.4,224.0 425.9,230.2 427.0,231.3 425.4,227.1 422.8,222.0 421.2,215.5 420.2,206.2 415.0,201.1 411.4,194.0 401.2,205.0 399.9,210.6 399.4,216.8 396.4,222.0 393.9,219.7 389.6,197.7 379.4,188.2 370.6,187.6 364.0,183.9 361.9,178.7 365.5,185.3 372.1,192.0 370.6,200.6 357.5,211.6 350.9,207.9 341.5,181.0 340.0,180.2 345.8,193.2 352.4,215.1 363.2,214.5 362.6,220.9 353.8,239.9 350.1,243.7 348.6,248.2 348.2,251.9 348.9,256.1 350.1,260.2 350.4,268.5 348.2,273.3 345.5,276.8 343.2,280.9 343.9,287.7 340.8,291.2 340.5,295.4 339.5,298.5 337.6,302.6 334.5,306.8 331.4,308.8 327.6,308.8 324.5,310.5 322.5,308.8 322.0,304.7 320.8,298.5 318.5,294.4 317.6,286.1 315.8,279.9 314.2,273.7 314.8,266.4 316.6,260.8 315.8,256.1 314.8,250.9 314.2,247.8 311.4,242.6 311.1,237.5 311.8,232.3 310.1,229.2 307.0,229.6 305.1,225.5 302.0,225.5 298.2,228.2 294.5,227.7 290.1,229.4 287.6,227.1 285.1,224.4 283.0,220.9 281.0,216.8 278.6,212.6 278.0,208.1 279.1,204.4 279.2,198.2 278.2,195.1 280.8,188.9 282.6,181.6 287.0,177.5 287.2,173.3 288.9,169.6 291.4,167.5 292.1,164.4 297.0,165.9 299.5,164.4 303.2,162.4 308.9,162.0 312.0,161.3 313.2,162.4 312.6,164.7 313.0,168.2 313.6,169.8 316.4,170.7 318.9,173.1 323.2,175.8 324.5,174.4 324.5,171.7 327.0,170.7 330.8,172.7 335.8,174.6 338.9,173.3 342.0,174.0"/><polyline points="334.6,155.3 336.5,145.8 342.0,144.4 349.6,142.1 348.8,155.3 334.6,155.3"/><polyline points="358.2,146.4 360.8,142.3 365.8,141.3 365.8,145.4 363.2,146.4 365.8,151.6 367.0,155.8 365.8,161.3 362.0,161.1 360.8,158.9 361.4,154.7 359.5,150.6 358.2,146.4"/><polyline points="292.4,135.1 295.8,133.8 301.1,132.6 301.6,129.5 299.9,127.8 298.9,125.8 297.4,123.5 297.0,120.6 295.1,117.3 293.2,117.3 291.8,119.6 292.5,122.0 292.0,124.3 293.9,125.1 295.8,126.8 295.8,128.2 293.8,128.2 294.5,130.3 293.0,131.6 295.1,132.2 292.4,135.1"/><polyline points="292.0,130.9 291.8,127.2 292.5,125.6 290.4,124.1 288.9,125.8 287.0,126.8 287.6,129.9 286.5,131.8 289.5,131.6 292.0,130.9"/><polyline points="462.2,172.9 463.9,169.2 472.5,165.7 474.8,156.2 478.2,149.8 476.1,146.0 477.8,143.8 477.1,135.1 475.9,126.2 475.2,143.8 475.8,147.5 474.5,152.7 468.2,165.1 462.2,172.9"/><polyline points="521.9,272.4 522.2,272.8"/><polyline points="399.8,220.3 398.2,226.9"/><polyline points="450.0,200.6 451.9,201.3 452.5,208.7 450.0,210.0 450.0,200.6"/><polyline points="448.1,216.2 448.5,216.6"/><polyline points="455.6,218.0 455.0,225.1 451.2,224.4 455.6,218.0"/><polyline points="445.6,224.4 446.9,236.2 441.2,245.1 435.6,240.6 445.6,224.4"/><polyline points="417.1,226.5 425.6,244.5 431.2,244.5 417.1,226.5"/><polyline points="431.2,251.3 435.0,254.4 441.9,254.4 431.2,251.3"/><polyline points="462.5,241.2 465.0,243.1 475.6,243.1 486.2,259.4 485.0,259.4 473.8,254.4 462.5,241.2"/><polyline points="503.5,279.9 503.9,280.5"/><polyline points="442.6,281.7 441.9,293.3 443.5,305.7 451.0,307.6 461.9,302.6 471.9,310.1 474.4,316.7 479.4,317.5 486.9,309.2 489.4,292.5 481.0,273.3 476.0,260.0 471.9,271.8 467.6,263.3 464.4,261.7 457.6,269.1 455.1,268.3 450.1,276.8 442.6,281.7"/><polyline points="479.4,322.5 483.5,325.0 481.0,326.6 479.4,322.5"/><polyline points="514.4,308.4 519.4,319.2 518.1,317.1 514.4,308.4"/><polyline points="515.2,321.7 511.0,328.3 508.5,333.2 513.5,327.4 515.2,321.7"/><polyline points="361.1,263.3 362.5,270.6 361.4,274.7 359.5,285.0 358.2,290.2 355.8,291.2 354.1,287.1 353.9,283.0 355.0,277.8 354.5,273.7 357.0,271.2 359.4,267.5 361.1,263.3"/><polyline points="364.5,90.6 368.2,92.7 371.4,92.0 368.2,87.5 373.2,83.4 384.5,79.6 377.0,81.3 368.2,82.3 364.5,90.6"/><polyline points="313.2,76.1 319.5,79.2 327.0,77.2 333.2,73.0 324.5,72.0 313.2,73.4 313.2,76.1"/><polyline points="418.2,74.0 424.5,75.1 430.8,76.1 422.0,70.9 418.2,74.0"/><polyline points="470.8,83.4 477.0,81.7 482.0,82.9 474.5,85.4 470.8,83.4"/><polyline points="74.5,399.4 102.6,399.4 105.8,401.5"/><polyline points="77.0,412.3 87.0,412.3 88.2,413.5 105.8,414.7 116.1,414.7"/><polyline points="116.1,414.7 110.0,402.3 112.0,396.3 126.0,393.4 141.8,390.3 157.8,391.4 161.6,393.4 173.5,390.3 179.5,389.5 187.0,389.5 194.0,389.5 200.2,388.1 209.6,389.5 215.1,382.5 217.4,377.1 224.5,369.2 226.0,370.9 222.9,382.5 222.9,392.0"/><polyline points="222.9,392.0 209.6,395.1 196.2,397.4 206.5,404.4 225.2,406.1 245.6,405.2 259.6,402.7 258.0,398.2 240.9,398.8 222.9,392.0"/><polyline points="220.6,403.6 244.0,402.7 233.0,398.8"/><polyline points="217.4,377.1 224.5,369.2 227.6,371.9 222.0,380.2 217.4,377.1"/><polyline points="258.0,398.2 267.4,394.3 281.5,388.1 294.0,384.3 297.8,380.6 305.2,382.9 324.0,382.9 333.4,383.5 340.9,380.6 347.5,382.5 355.9,376.9 365.2,374.6 374.8,376.9 385.9,379.8 386.9,383.5 395.2,381.0 404.8,376.1 420.9,374.6 439.6,374.6 445.2,376.5 454.8,374.4 469.8,375.0 482.8,378.7 499.8,381.6 511.0,386.4 504.4,397.6 501.6,400.3 507.2,408.7 516.6,410.6 524.5,413.3"/><polyline points="501.6,400.3 509.0,397.6 524.5,399.4"/><polyline points="150.0,80.0 156.2,78.8 162.5,77.6 166.9,83.2 158.8,84.4 155.0,81.9 150.0,80.0"/><polyline points="172.5,87.5 177.5,86.3 176.9,91.8 172.5,87.5"/><polyline points="181.2,86.3 184.4,86.9 182.5,89.4 181.2,86.3"/><polyline points="168.8,74.9 175.0,78.8 178.8,80.7 174.4,83.2 168.8,74.9"/><polyline points="185.0,139.4 188.8,137.6 196.2,143.8 195.0,146.9 198.1,150.6 211.2,143.1 215.0,138.8 222.5,137.6 230.0,132.6"/><polyline points="145.6,101.4 153.4,100.5 151.9,103.0 148.8,104.5 145.6,101.4"/><polyline points="150.2,106.1 155.0,108.4 163.6,109.2 158.9,111.7 150.2,106.1"/><polyline points="159.8,117.7 167.5,117.1 172.2,117.7 173.8,122.5 169.1,120.2 159.8,117.7"/><polyline points="175.2,127.2 176.9,133.4 178.4,132.0"/><polyline points="373.1,144.2 375.9,145.0 374.0,149.8 373.1,144.2"/><polyline points="391.0,146.9 398.4,143.6"/><polyline points="340.9,238.1 341.9,245.9"/><polyline points="77.0,131.8 80.1,131.1"/><polyline points="83.9,130.3 86.4,129.5"/><polyline points="89.5,128.5 92.0,127.2"/><polyline points="100.5,192.8 101.5,193.6"/><polyline points="103.8,195.1 105.2,197.3"/></g>
<g shape-rendering="crispEdges" fill="none" stroke="#000" stroke-width="1">
<rect x="74.5" y="57.5" width="450" height="362"/>
</g>
<g shape-rendering="crispEdges"><rect x="536" y="58" width="21" height="1" fill="#fffe00"/><rect x="536" y="59" width="21" height="1" fill="#fefc00"/><rect x="536" y="60" width="21" height="1" fill="#fefa00"/><rect x="536" y="61" width="21" height="1" fill="#fef800"/><rect x="536" y="62" width="21" height="1" fill="#fdf600"/><rect x="536" y="63" width="21" height="1" fill="#fdf400"/><rect x="536" y="64" width="21" height="1" fill="#fdf100"/><rect x="536" y="65" width="21" height="1" fill="#fcef00"/><rect x="536" y="66" width="21" height="1" fill="#fced00"/><rect x="536" y="67" width="21" height="1" fill="#fceb00"/><rect x="536" y="68" width="21" height="1" fill="#fbe900"/><rect x="536" y="69" width="21" height="1" fill="#fbe700"/><rect x="536" y="70" width="21" height="1" fill="#fbe500"/><rect x="536" y="71" width="21" height="1" fill="#fae300"/><rect x="536" y="72" width="21" height="1" fill="#fae100"/><rect x="536" y="73" width="21" height="1" fill="#f9e000"/><rect x="536" y="74" width="21" height="1" fill="#f9de00"/><rect x="536" y="75" width="21" height="1" fill="#f9dc00"/><rect x="536" y="76" width="21" height="1" fill="#f8da00"/><rect x="536" y="77" width="21" height="1" fill="#f8d800"/><rect x="536" y="78" width="21" height="1" fill="#f8d600"/><rect x="536" y="79" width="21" height="1" fill="#f7d400"/><rect x="536" y="80" width="21" height="1" fill="#f7d200"/><rect x="536" y="81" width="21" height="1" fill="#f7d000"/><rect x="536" y="82" width="21" height="1" fill="#f6cf00"/><rect x="536" y="83" width="21" height="1" fill="#f6cd00"/><rect x="536" y="84" width="21" height="1" fill="#f5cb00"/><rect x="536" y="85" width="21" height="1" fill="#f5c900"/><rect x="536" y="86" width="21" height="1" fill="#f5c700"/><rect x="536" y="87" width="21" height="1" fill="#f4c500"/><rect x="536" y="88" width="21" height="1" fill="#f4c400"/><rect x="536" y="89" width="21" height="1" fill="#f4c200"/><rect x="536" y="90" width="21" height="1" fill="#f3c000"/><rect x="536" y="91" width="21" height="1" fill="#f3be00"/><rect x="536" y="92" width="21" height="1" fill="#f3bd00"/><rect x="536" y="93" width="21" height="1" fill="#f2bb00"/><rect x="536" y="94" width="21" height="1" fill="#f2b900"/><rect x="536" y="95" width="21" height="1" fill="#f1b800"/><rect x="536" y="96" width="21" height="1" fill="#f1b600"/><rect x="536" y="97" width="21" height="1" fill="#f1b400"/><rect x="536" y="98" width="21" height="1" fill="#f0b200"/><rect x="536" y="99" width="21" height="1" fill="#f0b100"/><rect x="536" y="100" width="21" height="1" fill="#f0af00"/><rect x="536" y="101" width="21" height="1" fill="#efad00"/><rect x="536" y="102" width="21" height="1" fill="#efac00"/><rect x="536" y="103" width="21" height="1" fill="#eeaa00"/><rect x="536" y="104" width="21" height="1" fill="#eea900"/><rect x="536" y="105" width="21" height="1" fill="#eea700"/><rect x="536" y="106" width="21" height="1" fill="#eda500"/><rect x="536" y="107" width="21" height="1" fill="#eda400"/><rect x="536" y="108" width="21" height="1" fill="#eca200"/><rect x="536" y="109" width="21" height="1" fill="#eca100"/><rect x="536" y="110" width="21" height="1" fill="#ec9f00"/><rect x="536" y="111" width="21" height="1" fill="#eb9e00"/><rect x="536" y="112" width="21" height="1" fill="#eb9c00"/><rect x="536" y="113" width="21" height="1" fill="#eb9b00"/><rect x="536" y="114" width="21" height="1" fill="#ea9900"/><rect x="536" y="115" width="21" height="1" fill="#ea9800"/><rect x="536" y="116" width="21" height="1" fill="#e99600"/><rect x="536" y="117" width="21" height="1" fill="#e99500"/><rect x="536" y="118" width="21" height="1" fill="#e99300"/><rect x="536" y="119" width="21" height="1" fill="#e89200"/><rect x="536" y="120" width="21" height="1" fill="#e89000"/><rect x="536" y="121" width="21" height="1" fill="#e78f00"/><rect x="536" y="122" width="21" height="1" fill="#e78d00"/><rect x="536" y="123" width="21" height="1" fill="#e78c00"/><rect x="536" y="124" width="21" height="1" fill="#e68a00"/><rect x="536" y="125" width="21" height="1" fill="#e68900"/><rect x="536" y="126" width="21" height="1" fill="#e68800"/><rect x="536" y="127" width="21" height="1" fill="#e58600"/><rect x="536" y="128" width="21" height="1" fill="#e58500"/><rect x="536" y="129" width="21" height="1" fill="#e48400"/><rect x="536" y="130" width="21" height="1" fill="#e48200"/><rect x="536" y="131" width="21" height="1" fill="#e48100"/><rect x="536" y="132" width="21" height="1" fill="#e37f00"/><rect x="536" y="133" width="21" height="1" fill="#e37e00"/><rect x="536" y="134" width="21" height="1" fill="#e27d00"/><rect x="536" y="135" width="21" height="1" fill="#e27c00"/><rect x="536" y="136" width="21" height="1" fill="#e27a00"/><rect x="536" y="137" width="21" height="1" fill="#e17900"/><rect x="536" y="138" width="21" height="1" fill="#e17800"/><rect x="536" y="139" width="21" height="1" fill="#e07600"/><rect x="536" y="140" width="21" height="1" fill="#e07500"/><rect x="536" y="141" width="21" height="1" fill="#e07400"/><rect x="536" y="142" width="21" height="1" fill="#df7300"/><rect x="536" y="143" width="21" height="1" fill="#df7100"/><rect x="536" y="144" width="21" height="1" fill="#de7000"/><rect x="536" y="145" width="21" height="1" fill="#de6f00"/><rect x="536" y="146" width="21" height="1" fill="#de6e00"/><rect x="536" y="147" width="21" height="1" fill="#dd6c00"/><rect x="536" y="148" width="21" height="1" fill="#dd6b00"/><rect x="536" y="149" width="21" height="1" fill="#dc6a00"/><rect x="536" y="150" width="21" height="1" fill="#dc6900"/><rect x="536" y="151" width="21" height="1" fill="#dc6800"/><rect x="536" y="152" width="21" height="1" fill="#db6700"/><rect x="536" y="153" width="21" height="1" fill="#db6500"/><rect x="536" y="154" width="21" height="1" fill="#da6400"/><rect x="536" y="155" width="21" height="1" fill="#da6300"/><rect x="536" y="156" width="21" height="1" fill="#d96200"/><rect x="536" y="157" width="21" height="1" fill="#d96100"/><rect x="536" y="158" width="21" height="1" fill="#d96000"/><rect x="536" y="159" width="21" height="1" fill="#d85f00"/><rect x="536" y="160" width="21" height="1" fill="#d85e00"/><rect x="536" y="161" width="21" height="1" fill="#d75d00"/><rect x="536" y="162" width="21" height="1" fill="#d75b00"/><rect x="536" y="163" width="21" height="1" fill="#d75a00"/><rect x="536" y="164" width="21" height="1" fill="#d65900"/><rect x="536" y="165" width="21" height="1" fill="#d65800"/><rect x="536" y="166" width="21" height="1" fill="#d55700"/><rect x="536" y="167" width="21" height="1" fill="#d55600"/><rect x="536" y="168" width="21" height="1" fill="#d45500"/><rect x="536" y="169" width="21" height="1" fill="#d45400"/><rect x="536" y="170" width="21" height="1" fill="#d45300"/><rect x="536" y="171" width="21" height="1" fill="#d35200"/><rect x="536" y="172" width="21" height="1" fill="#d35100"/><rect x="536" y="173" width="21" height="1" fill="#d25000"/><rect x="536" y="174" width="21" height="1" fill="#d24f00"/><rect x="536" y="175" width="21" height="1" fill="#d14e00"/><rect x="536" y="176" width="21" height="1" fill="#d14d00"/><rect x="536" y="177" width="21" height="1" fill="#d14c00"/><rect x="536" y="178" width="21" height="1" fill="#d04b00"/><rect x="536" y="179" width="21" height="1" fill="#d04a00"/><rect x="536" y="180" width="21" height="1" fill="#cf4a00"/><rect x="536" y="181" width="21" height="1" fill="#cf4900"/><rect x="536" y="182" width="21" height="1" fill="#ce4800"/><rect x="536" y="183" width="21" height="1" fill="#ce4700"/><rect x="536" y="184" width="21" height="1" fill="#ce4600"/><rect x="536" y="185" width="21" height="1" fill="#cd4500"/><rect x="536" y="186" width="21" height="1" fill="#cd4400"/><rect x="536" y="187" width="21" height="1" fill="#cc4300"/><rect x="536" y="188" width="21" height="1" fill="#cc4200"/><rect x="536" y="189" width="21" height="1" fill="#cb4200"/><rect x="536" y="190" width="21" height="1" fill="#cb4100"/><rect x="536" y="191" width="21" height="1" fill="#ca4000"/><rect x="536" y="192" width="21" height="1" fill="#ca3f00"/><rect x="536" y="193" width="21" height="1" fill="#ca3e00"/><rect x="536" y="194" width="21" height="1" fill="#c93d00"/><rect x="536" y="195" width="21" height="1" fill="#c93d00"/><rect x="536" y="196" width="21" height="1" fill="#c83c00"/><rect x="536" y="197" width="21" height="1" fill="#c83b00"/><rect x="536" y="198" width="21" height="1" fill="#c73a00"/><rect x="536" y="199" width="21" height="1" fill="#c73900"/><rect x="536" y="200" width="21" height="1" fill="#c63900"/><rect x="536" y="201" width="21" height="1" fill="#c63800"/><rect x="536" y="202" width="21" height="1" fill="#c53700"/><rect x="536" y="203" width="21" height="1" fill="#c53600"/><rect x="536" y="204" width="21" height="1" fill="#c53500"/><rect x="536" y="205" width="21" height="1" fill="#c43500"/><rect x="536" y="206" width="21" height="1" fill="#c43400"/><rect x="536" y="207" width="21" height="1" fill="#c33300"/><rect x="536" y="208" width="21" height="1" fill="#c33300"/><rect x="536" y="209" width="21" height="1" fill="#c23200"/><rect x="536" y="210" width="21" height="1" fill="#c23100"/><rect x="536" y="211" width="21" height="1" fill="#c13000"/><rect x="536" y="212" width="21" height="1" fill="#c13000"/><rect x="536" y="213" width="21" height="1" fill="#c02f00"/><rect x="536" y="214" width="21" height="1" fill="#c02e00"/><rect x="536" y="215" width="21" height="1" fill="#bf2e00"/><rect x="536" y="216" width="21" height="1" fill="#bf2d00"/><rect x="536" y="217" width="21" height="1" fill="#bf2c00"/><rect x="536" y="218" width="21" height="1" fill="#be2c00"/><rect x="536" y="219" width="21" height="1" fill="#be2b00"/><rect x="536" y="220" width="21" height="1" fill="#bd2a00"/><rect x="536" y="221" width="21" height="1" fill="#bd2a00"/><rect x="536" y="222" width="21" height="1" fill="#bc2900"/><rect x="536" y="223" width="21" height="1" fill="#bc2900"/><rect x="536" y="224" width="21" height="1" fill="#bb2800"/><rect x="536" y="225" width="21" height="1" fill="#bb2700"/><rect x="536" y="226" width="21" height="1" fill="#ba2700"/><rect x="536" y="227" width="21" height="1" fill="#ba2600"/><rect x="536" y="228" width="21" height="1" fill="#b92500"/><rect x="536" y="229" width="21" height="1" fill="#b92500"/><rect x="536" y="230" width="21" height="1" fill="#b82400"/><rect x="536" y="231" width="21" height="1" fill="#b82400"/><rect x="536" y="232" width="21" height="1" fill="#b72300"/><rect x="536" y="233" width="21" height="1" fill="#b72300"/><rect x="536" y="234" width="21" height="1" fill="#b62200"/><rect x="536" y="235" width="21" height="1" fill="#b62100"/><rect x="536" y="236" width="21" height="1" fill="#b52100"/><rect x="536" y="237" width="21" height="1" fill="#b52000"/><rect x="536" y="238" width="21" height="1" fill="#b42000"/><rect x="536" y="239" width="21" height="1" fill="#b41f04"/><rect x="536" y="240" width="21" height="1" fill="#b31f09"/><rect x="536" y="241" width="21" height="1" fill="#b31e0d"/><rect x="536" y="242" width="21" height="1" fill="#b21e12"/><rect x="536" y="243" width="21" height="1" fill="#b21d16"/><rect x="536" y="244" width="21" height="1" fill="#b11d1b"/><rect x="536" y="245" width="21" height="1" fill="#b11c1f"/><rect x="536" y="246" width="21" height="1" fill="#b01c23"/><rect x="536" y="247" width="21" height="1" fill="#b01b28"/><rect x="536" y="248" width="21" height="1" fill="#af1b2c"/><rect x="536" y="249" width="21" height="1" fill="#af1a31"/><rect x="536" y="250" width="21" height="1" fill="#ae1a35"/><rect x="536" y="251" width="21" height="1" fill="#ae1939"/><rect x="536" y="252" width="21" height="1" fill="#ad193e"/><rect x="536" y="253" width="21" height="1" fill="#ad1942"/><rect x="536" y="254" width="21" height="1" fill="#ac1846"/><rect x="536" y="255" width="21" height="1" fill="#ac184a"/><rect x="536" y="256" width="21" height="1" fill="#ab174f"/><rect x="536" y="257" width="21" height="1" fill="#ab1753"/><rect x="536" y="258" width="21" height="1" fill="#aa1657"/><rect x="536" y="259" width="21" height="1" fill="#a9165b"/><rect x="536" y="260" width="21" height="1" fill="#a9165f"/><rect x="536" y="261" width="21" height="1" fill="#a81563"/><rect x="536" y="262" width="21" height="1" fill="#a81567"/><rect x="536" y="263" width="21" height="1" fill="#a7146b"/><rect x="536" y="264" width="21" height="1" fill="#a7146f"/><rect x="536" y="265" width="21" height="1" fill="#a61473"/><rect x="536" y="266" width="21" height="1" fill="#a61377"/><rect x="536" y="267" width="21" height="1" fill="#a5137b"/><rect x="536" y="268" width="21" height="1" fill="#a5127f"/><rect x="536" y="269" width="21" height="1" fill="#a41283"/><rect x="536" y="270" width="21" height="1" fill="#a41287"/><rect x="536" y="271" width="21" height="1" fill="#a3118b"/><rect x="536" y="272" width="21" height="1" fill="#a2118e"/><rect x="536" y="273" width="21" height="1" fill="#a21192"/><rect x="536" y="274" width="21" height="1" fill="#a11096"/><rect x="536" y="275" width="21" height="1" fill="#a11099"/><rect x="536" y="276" width="21" height="1" fill="#a0109d"/><rect x="536" y="277" width="21" height="1" fill="#a00fa0"/><rect x="536" y="278" width="21" height="1" fill="#9f0fa4"/><rect x="536" y="279" width="21" height="1" fill="#9f0fa7"/><rect x="536" y="280" width="21" height="1" fill="#9e0eaa"/><rect x="536" y="281" width="21" height="1" fill="#9d0eae"/><rect x="536" y="282" width="21" height="1" fill="#9d0eb1"/><rect x="536" y="283" width="21" height="1" fill="#9c0db4"/><rect x="536" y="284" width="21" height="1" fill="#9c0db7"/><rect x="536" y="285" width="21" height="1" fill="#9b0dba"/><rect x="536" y="286" width="21" height="1" fill="#9a0dbd"/><rect x="536" y="287" width="21" height="1" fill="#9a0cc0"/><rect x="536" y="288" width="21" height="1" fill="#990cc3"/><rect x="536" y="289" width="21" height="1" fill="#990cc6"/><rect x="536" y="290" width="21" height="1" fill="#980cc9"/><rect x="536" y="291" width="21" height="1" fill="#980bcb"/><rect x="536" y="292" width="21" height="1" fill="#970bce"/><rect x="536" y="293" width="21" height="1" fill="#960bd0"/><rect x="536" y="294" width="21" height="1" fill="#960ad3"/><rect x="536" y="295" width="21" height="1" fill="#950ad5"/><rect x="536" y="296" width="21" height="1" fill="#950ad8"/><rect x="536" y="297" width="21" height="1" fill="#940ada"/><rect x="536" y="298" width="21" height="1" fill="#9309dc"/><rect x="536" y="299" width="21" height="1" fill="#9309df"/><rect x="536" y="300" width="21" height="1" fill="#9209e1"/><rect x="536" y="301" width="21" height="1" fill="#9109e3"/><rect x="536" y="302" width="21" height="1" fill="#9109e5"/><rect x="536" y="303" width="21" height="1" fill="#9008e7"/><rect x="536" y="304" width="21" height="1" fill="#9008e9"/><rect x="536" y="305" width="21" height="1" fill="#8f08ea"/><rect x="536" y="306" width="21" height="1" fill="#8e08ec"/><rect x="536" y="307" width="21" height="1" fill="#8e08ee"/><rect x="536" y="308" width="21" height="1" fill="#8d07ef"/><rect x="536" y="309" width="21" height="1" fill="#8c07f1"/><rect x="536" y="310" width="21" height="1" fill="#8c07f2"/><rect x="536" y="311" width="21" height="1" fill="#8b07f4"/><rect x="536" y="312" width="21" height="1" fill="#8b07f5"/><rect x="536" y="313" width="21" height="1" fill="#8a06f6"/><rect x="536" y="314" width="21" height="1" fill="#8906f7"/><rect x="536" y="315" width="21" height="1" fill="#8906f8"/><rect x="536" y="316" width="21" height="1" fill="#8806f9"/><rect x="536" y="317" width="21" height="1" fill="#8706fa"/><rect x="536" y="318" width="21" height="1" fill="#8706fb"/><rect x="536" y="319" width="21" height="1" fill="#8605fc"/><rect x="536" y="320" width="21" height="1" fill="#8505fc"/><rect x="536" y="321" width="21" height="1" fill="#8505fd"/><rect x="536" y="322" width="21" height="1" fill="#8405fd"/><rect x="536" y="323" width="21" height="1" fill="#8305fe"/><rect x="536" y="324" width="21" height="1" fill="#8205fe"/><rect x="536" y="325" width="21" height="1" fill="#8204ff"/><rect x="536" y="326" width="21" height="1" fill="#8104ff"/><rect x="536" y="327" width="21" height="1" fill="#8004ff"/><rect x="536" y="328" width="21" height="1" fill="#8004ff"/><rect x="536" y="329" width="21" height="1" fill="#7f04ff"/><rect x="536" y="330" width="21" height="1" fill="#7e04ff"/><rect x="536" y="331" width="21" height="1" fill="#7e04ff"/><rect x="536" y="332" width="21" height="1" fill="#7d04fe"/><rect x="536" y="333" width="21" height="1" fill="#7c03fe"/><rect x="536" y="334" width="21" height="1" fill="#7b03fe"/><rect x="536" y="335" width="21" height="1" fill="#7b03fd"/><rect x="536" y="336" width="21" height="1" fill="#7a03fd"/><rect x="536" y="337" width="21" height="1" fill="#7903fc"/><rect x="536" y="338" width="21" height="1" fill="#7803fb"/><rect x="536" y="339" width="21" height="1" fill="#7803fb"/><rect x="536" y="340" width="21" height="1" fill="#7703fa"/><rect x="536" y="341" width="21" height="1" fill="#7603f9"/><rect x="536" y="342" width="21" height="1" fill="#7502f8"/><rect x="536" y="343" width="21" height="1" fill="#7502f7"/><rect x="536" y="344" width="21" height="1" fill="#7402f5"/><rect x="536" y="345" width="21" height="1" fill="#7302f4"/><rect x="536" y="346" width="21" height="1" fill="#7202f3"/><rect x="536" y="347" width="21" height="1" fill="#7102f2"/><rect x="536" y="348" width="21" height="1" fill="#7102f0"/><rect x="536" y="349" width="21" height="1" fill="#7002ef"/><rect x="536" y="350" width="21" height="1" fill="#6f02ed"/><rect x="536" y="351" width="21" height="1" fill="#6e02eb"/><rect x="536" y="352" width="21" height="1" fill="#6d02ea"/><rect x="536" y="353" width="21" height="1" fill="#6d02e8"/><rect x="536" y="354" width="21" height="1" fill="#6c01e6"/><rect x="536" y="355" width="21" height="1" fill="#6b01e4"/><rect x="536" y="356" width="21" height="1" fill="#6a01e2"/><rect x="536" y="357" width="21" height="1" fill="#6901e0"/><rect x="536" y="358" width="21" height="1" fill="#6801de"/><rect x="536" y="359" width="21" height="1" fill="#6801db"/><rect x="536" y="360" width="21" height="1" fill="#6701d9"/><rect x="536" y="361" width="21" height="1" fill="#6601d7"/><rect x="536" y="362" width="21" height="1" fill="#6501d4"/><rect x="536" y="363" width="21" height="1" fill="#6401d2"/><rect x="536" y="364" width="21" height="1" fill="#6301cf"/><rect x="536" y="365" width="21" height="1" fill="#6201cd"/><rect x="536" y="366" width="21" height="1" fill="#6101ca"/><rect x="536" y="367" width="21" height="1" fill="#6001c7"/><rect x="536" y="368" width="21" height="1" fill="#5f01c4"/><rect x="536" y="369" width="21" height="1" fill="#5e01c2"/><rect x="536" y="370" width="21" height="1" fill="#5d01bf"/><rect x="536" y="371" width="21" height="1" fill="#5c01bc"/><rect x="536" y="372" width="21" height="1" fill="#5c01b9"/><rect x="536" y="373" width="21" height="1" fill="#5b01b5"/><rect x="536" y="374" width="21" height="1" fill="#5a00b2"/><rect x="536" y="375" width="21" height="1" fill="#5900af"/><rect x="536" y="376" width="21" height="1" fill="#5700ac"/><rect x="536" y="377" width="21" height="1" fill="#5600a9"/><rect x="536" y="378" width="21" height="1" fill="#5500a5"/><rect x="536" y="379" width="21" height="1" fill="#5400a2"/><rect x="536" y="380" width="21" height="1" fill="#53009e"/><rect x="536" y="381" width="21" height="1" fill="#52009b"/><rect x="536" y="382" width="21" height="1" fill="#510097"/><rect x="536" y="383" width="21" height="1" fill="#500094"/><rect x="536" y="384" width="21" height="1" fill="#4f0090"/><rect x="536" y="385" width="21" height="1" fill="#4e008c"/><rect x="536" y="386" width="21" height="1" fill="#4d0089"/><rect x="536" y="387" width="21" height="1" fill="#4b0085"/><rect x="536" y="388" width="21" height="1" fill="#4a0081"/><rect x="536" y="389" width="21" height="1" fill="#49007d"/><rect x="536" y="390" width="21" height="1" fill="#480079"/><rect x="536" y="391" width="21" height="1" fill="#460075"/><rect x="536" y="392" width="21" height="1" fill="#450071"/><rect x="536" y="393" width="21" height="1" fill="#44006d"/><rect x="536" y="394" width="21" height="1" fill="#420069"/><rect x="536" y="395" width="21" height="1" fill="#410065"/><rect x="536" y="396" width="21" height="1" fill="#400061"/><rect x="536" y="397" width="21" height="1" fill="#3e005d"/><rect x="536" y="398" width="21" height="1" fill="#3d0059"/><rect x="536" y="399" width="21" height="1" fill="#3b0055"/><rect x="536" y="400" width="21" height="1" fill="#3a0051"/><rect x="536" y="401" width="21" height="1" fill="#38004c"/><rect x="536" y="402" width="21" height="1" fill="#370048"/><rect x="536" y="403" width="21" height="1" fill="#350044"/><rect x="536" y="404" width="21" height="1" fill="#330040"/><rect x="536" y="405" width="21" height="1" fill="#31003b"/><rect x="536" y="406" width="21" height="1" fill="#2f0037"/><rect x="536" y="407" width="21" height="1" fill="#2e0033"/><rect x="536" y="408" width="21" height="1" fill="#2b002e"/><rect x="536" y="409" width="21" height="1" fill="#29002a"/><rect x="536" y="410" width="21" height="1" fill="#270026"/><rect x="536" y="411" width="21" height="1" fill="#250021"/><rect x="536" y="412" width="21" height="1" fill="#22001d"/><rect x="536" y="413" width="21" height="1" fill="#1f0018"/><rect x="536" y="414" width="21" height="1" fill="#1c0014"/><rect x="536" y="415" width="21" height="1" fill="#190010"/><rect x="536" y="416" width="21" height="1" fill="#15000b"/><rect x="536" y="417" width="21" height="1" fill="#100007"/><rect x="536" y="418" width="21" height="1" fill="#090002"/></g>
<g shape-rendering="crispEdges" fill="#000"><rect x="535" y="394" width="5" height="1"/><rect x="553" y="394" width="5" height="1"/><rect x="535" y="351" width="5" height="1"/><rect x="553" y="351" width="5" height="1"/><rect x="535" y="307" width="5" height="1"/><rect x="553" y="307" width="5" height="1"/><rect x="535" y="264" width="5" height="1"/><rect x="553" y="264" width="5" height="1"/><rect x="535" y="221" width="5" height="1"/><rect x="553" y="221" width="5" height="1"/><rect x="535" y="178" width="5" height="1"/><rect x="553" y="178" width="5" height="1"/><rect x="535" y="135" width="5" height="1"/><rect x="553" y="135" width="5" height="1"/><rect x="535" y="92" width="5" height="1"/><rect x="553" y="92" width="5" height="1"/></g>
<g shape-rendering="crispEdges" fill="none" stroke="#000" stroke-width="1">
<rect x="535.5" y="57.5" width="22" height="362"/>
</g>
</svg>
</body></html>
